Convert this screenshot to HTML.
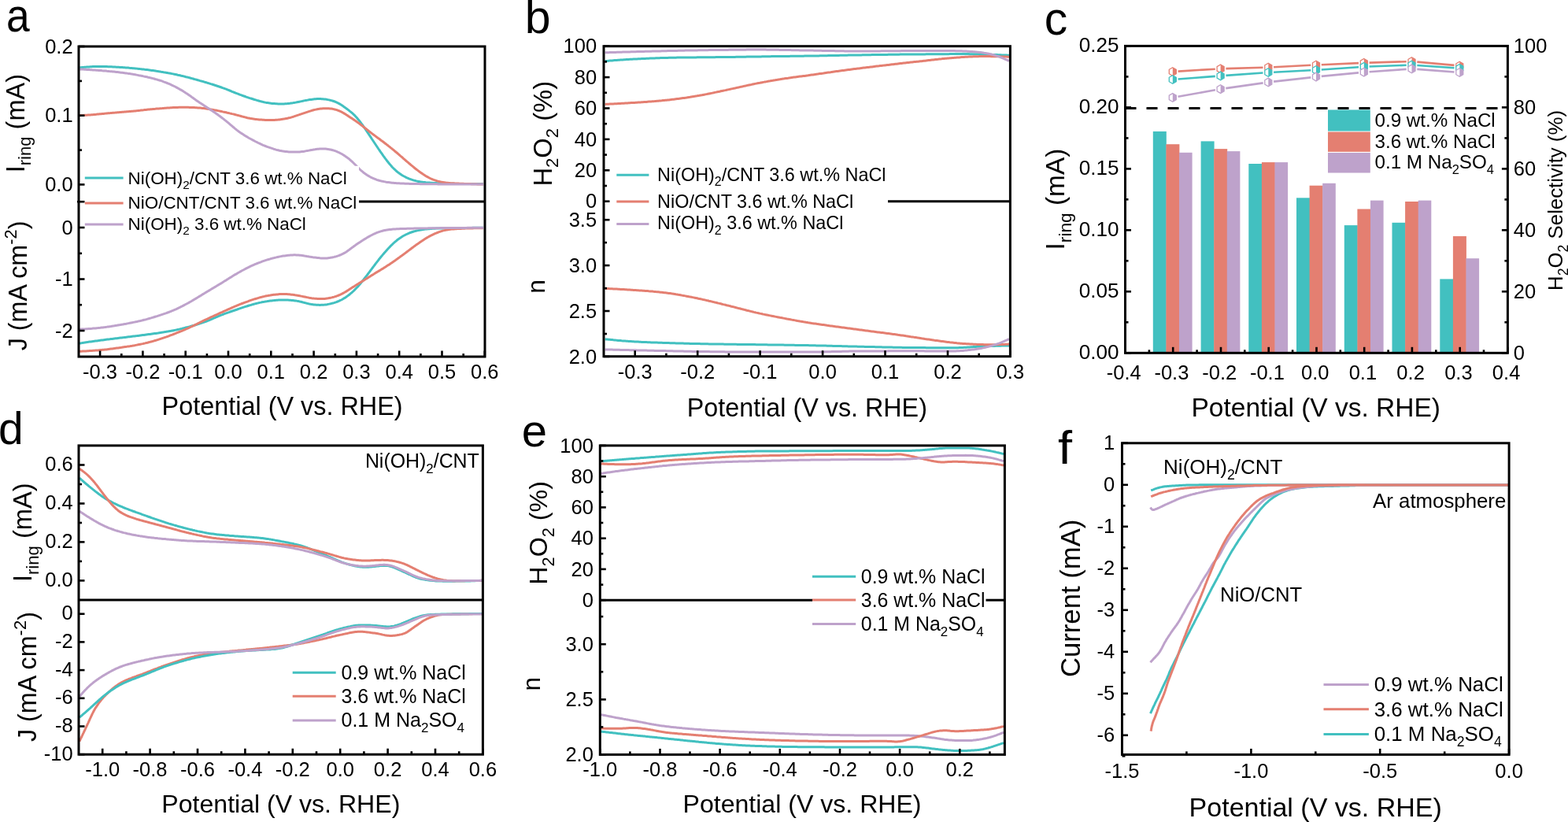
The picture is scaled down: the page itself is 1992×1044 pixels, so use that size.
<!DOCTYPE html>
<html><head><meta charset="utf-8"><title>Figure</title>
<style>html,body{margin:0;padding:0;background:#fff;overflow:hidden;}svg{display:block;}</style>
</head><body>
<svg width="1992" height="1044" viewBox="0 0 1992 1044" font-family="'Liberation Sans', Arial, Helvetica, sans-serif" fill="#000">
<rect width="1992" height="1044" fill="#fff"/>
<path d="M101.3,85.8 L102.8,85.7 L104.3,85.5 L105.8,85.4 L107.3,85.3 L108.8,85.2 L110.3,85.1 L111.8,85 L113.3,84.9 L114.8,84.8 L116.3,84.7 L117.8,84.6 L119.3,84.6 L120.8,84.5 L122.3,84.5 L123.8,84.5 L125.3,84.5 L126.8,84.5 L128.3,84.5 L129.8,84.5 L131.3,84.5 L132.8,84.5 L134.3,84.6 L135.8,84.6 L137.3,84.7 L138.8,84.7 L140.3,84.8 L141.8,84.8 L143.3,84.9 L144.8,85 L146.3,85.1 L147.8,85.2 L149.3,85.3 L150.8,85.3 L152.3,85.4 L153.8,85.5 L155.3,85.6 L156.8,85.7 L158.3,85.8 L159.8,85.9 L161.3,86 L162.8,86.1 L164.3,86.3 L165.8,86.4 L167.3,86.5 L168.8,86.7 L170.3,86.8 L171.8,86.9 L173.3,87.1 L174.8,87.2 L176.3,87.4 L177.8,87.6 L179.3,87.7 L180.8,87.9 L182.3,88.1 L183.8,88.3 L185.3,88.4 L186.8,88.6 L188.3,88.8 L189.8,89 L191.3,89.2 L192.8,89.4 L194.3,89.6 L195.8,89.8 L197.3,90 L198.8,90.3 L200.3,90.5 L201.8,90.7 L203.3,90.9 L204.8,91.2 L206.3,91.4 L207.8,91.7 L209.3,91.9 L210.8,92.2 L212.3,92.5 L213.8,92.8 L215.3,93 L216.8,93.3 L218.3,93.6 L219.8,93.9 L221.3,94.2 L222.8,94.5 L224.3,94.8 L225.8,95.2 L227.3,95.5 L228.8,95.8 L230.3,96.2 L231.8,96.5 L233.3,96.9 L234.8,97.3 L236.3,97.7 L237.8,98 L239.3,98.4 L240.8,98.8 L242.3,99.2 L243.8,99.6 L245.3,100 L246.8,100.5 L248.3,100.9 L249.8,101.3 L251.3,101.7 L252.8,102.1 L254.3,102.6 L255.8,103 L257.3,103.4 L258.8,103.8 L260.3,104.3 L261.8,104.7 L263.3,105.2 L264.8,105.6 L266.3,106.1 L267.8,106.6 L269.3,107 L270.8,107.5 L272.3,108 L273.8,108.5 L275.3,109 L276.8,109.5 L278.3,110 L279.8,110.5 L281.3,111 L282.8,111.6 L284.3,112.1 L285.8,112.7 L287.3,113.2 L288.8,113.8 L290.3,114.4 L291.8,115 L293.3,115.6 L294.8,116.3 L296.3,116.9 L297.8,117.5 L299.3,118.1 L300.8,118.7 L302.3,119.2 L303.8,119.8 L305.3,120.4 L306.8,120.9 L308.3,121.5 L309.8,122 L311.3,122.5 L312.8,123.1 L314.3,123.6 L315.8,124.1 L317.3,124.6 L318.8,125 L320.3,125.5 L321.8,126 L323.3,126.5 L324.8,126.9 L326.3,127.4 L327.8,127.8 L329.3,128.2 L330.8,128.6 L332.3,129 L333.8,129.4 L335.3,129.8 L336.8,130.1 L338.3,130.4 L339.8,130.6 L341.3,130.8 L342.8,131 L344.3,131.2 L345.8,131.4 L347.3,131.5 L348.8,131.6 L350.3,131.7 L351.8,131.8 L353.3,131.9 L354.8,131.9 L356.3,131.9 L357.8,131.9 L359.3,131.9 L360.8,131.9 L362.3,131.8 L363.8,131.7 L365.3,131.6 L366.8,131.4 L368.3,131.3 L369.8,131.1 L371.3,130.9 L372.8,130.6 L374.3,130.4 L375.8,130.1 L377.3,129.8 L378.8,129.5 L380.3,129.2 L381.8,128.9 L383.3,128.6 L384.8,128.3 L386.3,127.9 L387.8,127.6 L389.3,127.4 L390.8,127.1 L392.3,126.8 L393.8,126.6 L395.3,126.4 L396.8,126.2 L398.3,126 L399.8,125.8 L401.3,125.7 L402.8,125.6 L404.3,125.6 L405.8,125.6 L407.3,125.6 L408.8,125.7 L410.3,125.8 L411.8,125.9 L413.3,126.1 L414.8,126.3 L416.3,126.6 L417.8,126.9 L419.3,127.2 L420.8,127.6 L422.3,128 L423.8,128.5 L425.3,129 L426.8,129.6 L428.3,130.3 L429.8,131.1 L431.3,131.9 L432.8,132.8 L434.3,133.7 L435.6,134.6 L436.8,135.5 L438.1,136.4 L439.3,137.3 L440.6,138.2 L441.8,139.1 L443.1,140.1 L444.3,141.1 L445.6,142.1 L446.8,143.1 L448.1,144.2 L449.3,145.4 L450.6,146.6 L451.8,147.9 L453.1,149.3 L454.1,150.5 L455.1,151.7 L456.1,152.9 L457.1,154.2 L458.1,155.5 L459.1,156.9 L460.1,158.2 L461.1,159.6 L462.1,161.1 L463.1,162.5 L464.1,164 L465.1,165.4 L466.1,166.9 L467.1,168.4 L468.1,169.9 L469.1,171.4 L470.1,172.9 L471.1,174.4 L472.1,176 L473.1,177.5 L474.1,179 L475.1,180.5 L476.1,182 L477.1,183.5 L478.1,185 L479.1,186.5 L480.1,188 L481.1,189.5 L482.1,190.9 L483.1,192.4 L484.1,193.8 L485.1,195.2 L486.1,196.7 L487.1,198.1 L488.1,199.4 L489.1,200.8 L490.1,202.1 L491.1,203.5 L492.1,204.8 L493.1,206 L494.1,207.3 L495.1,208.5 L496.1,209.6 L497.1,210.8 L498.3,212.2 L499.6,213.5 L500.8,214.7 L502.1,215.9 L503.3,217 L504.6,218.1 L505.8,219.1 L507.1,220 L508.3,220.9 L509.6,221.7 L511.1,222.7 L512.5,223.5 L514,224.3 L515.5,225.1 L517,225.8 L518.5,226.5 L520,227.1 L521.5,227.6 L523,228.2 L524.5,228.7 L526,229.1 L527.5,229.5 L529,229.9 L530.5,230.2 L532,230.6 L533.5,230.8 L535,231.1 L536.5,231.3 L538,231.5 L539.5,231.6 L541,231.8 L542.5,231.9 L544,232 L545.5,232.1 L547,232.2 L548.5,232.3 L550,232.4 L551.5,232.5 L553,232.6 L554.5,232.6 L556,232.7 L557.5,232.8 L559,232.8 L560.5,232.9 L562,232.9 L563.5,233 L565,233 L566.5,233.1 L568,233.1 L569.5,233.2 L571,233.2 L572.5,233.3 L574,233.3 L575.5,233.3 L577,233.3 L578.5,233.4 L580,233.4 L581.5,233.4 L583,233.4 L584.5,233.4 L586,233.5 L587.5,233.5 L589,233.5 L590.5,233.5 L592,233.5 L593.5,233.5 L595,233.5 L596.5,233.5 L598,233.5 L599.5,233.6 L601,233.6 L602.5,233.6 L604,233.6 L605.5,233.6 L607,233.6 L608.5,233.6 L610,233.6 L611.5,233.6 L613,233.6 L614,233.6" fill="none" stroke="#42C0C0" stroke-width="3.0" stroke-linejoin="round" stroke-linecap="butt"/>
<path d="M101.3,146.5 L102.8,146.5 L104.3,146.4 L105.8,146.4 L107.3,146.3 L108.8,146.3 L110.3,146.2 L111.8,146.1 L113.3,146 L114.8,145.9 L116.3,145.8 L117.8,145.7 L119.3,145.5 L120.8,145.4 L122.3,145.3 L123.8,145.1 L125.3,145 L126.8,144.8 L128.3,144.7 L129.8,144.5 L131.3,144.4 L132.8,144.2 L134.3,144.1 L135.8,143.9 L137.3,143.8 L138.8,143.7 L140.3,143.6 L141.8,143.4 L143.3,143.3 L144.8,143.2 L146.3,143.1 L147.8,142.9 L149.3,142.8 L150.8,142.7 L152.3,142.6 L153.8,142.5 L155.3,142.3 L156.8,142.2 L158.3,142.1 L159.8,142 L161.3,141.8 L162.8,141.7 L164.3,141.6 L165.8,141.5 L167.3,141.3 L168.8,141.2 L170.3,141 L171.8,140.9 L173.3,140.7 L174.8,140.6 L176.3,140.4 L177.8,140.3 L179.3,140.1 L180.8,139.9 L182.3,139.8 L183.8,139.6 L185.3,139.5 L186.8,139.3 L188.3,139.1 L189.8,139 L191.3,138.8 L192.8,138.7 L194.3,138.5 L195.8,138.4 L197.3,138.3 L198.8,138.1 L200.3,138 L201.8,137.9 L203.3,137.8 L204.8,137.7 L206.3,137.6 L207.8,137.4 L209.3,137.3 L210.8,137.2 L212.3,137.1 L213.8,137 L215.3,136.9 L216.8,136.8 L218.3,136.7 L219.8,136.6 L221.3,136.5 L222.8,136.5 L224.3,136.4 L225.8,136.4 L227.3,136.3 L228.8,136.3 L230.3,136.3 L231.8,136.3 L233.3,136.3 L234.8,136.3 L236.3,136.3 L237.8,136.3 L239.3,136.3 L240.8,136.4 L242.3,136.4 L243.8,136.5 L245.3,136.5 L246.8,136.6 L248.3,136.7 L249.8,136.8 L251.3,136.9 L252.8,137 L254.3,137.1 L255.8,137.2 L257.3,137.4 L258.8,137.6 L260.3,137.8 L261.8,138 L263.3,138.2 L264.8,138.4 L266.3,138.7 L267.8,138.9 L269.3,139.2 L270.8,139.5 L272.3,139.8 L273.8,140 L275.3,140.3 L276.8,140.6 L278.3,140.9 L279.8,141.2 L281.3,141.5 L282.8,141.9 L284.3,142.2 L285.8,142.5 L287.3,142.8 L288.8,143.2 L290.3,143.5 L291.8,143.9 L293.3,144.2 L294.8,144.6 L296.3,144.9 L297.8,145.3 L299.3,145.7 L300.8,146.1 L302.3,146.5 L303.8,146.9 L305.3,147.3 L306.8,147.7 L308.3,148.1 L309.8,148.5 L311.3,148.9 L312.8,149.3 L314.3,149.7 L315.8,150 L317.3,150.3 L318.8,150.6 L320.3,150.8 L321.8,151 L323.3,151.2 L324.8,151.4 L326.3,151.6 L327.8,151.7 L329.3,151.9 L330.8,152 L332.3,152.1 L333.8,152.2 L335.3,152.3 L336.8,152.4 L338.3,152.5 L339.8,152.5 L341.3,152.5 L342.8,152.6 L344.3,152.6 L345.8,152.6 L347.3,152.5 L348.8,152.4 L350.3,152.3 L351.8,152.2 L353.3,152.1 L354.8,151.9 L356.3,151.7 L357.8,151.5 L359.3,151.3 L360.8,151.1 L362.3,150.8 L363.8,150.5 L365.3,150.2 L366.8,149.8 L368.3,149.5 L369.8,149.1 L371.3,148.6 L372.8,148.2 L374.3,147.7 L375.8,147.2 L377.3,146.7 L378.8,146.2 L380.3,145.7 L381.8,145.1 L383.3,144.6 L384.8,144.1 L386.3,143.6 L387.8,143.1 L389.3,142.6 L390.8,142.1 L392.3,141.6 L393.8,141.1 L395.3,140.7 L396.8,140.2 L398.3,139.8 L399.8,139.4 L401.3,139.1 L402.8,138.8 L404.3,138.5 L405.8,138.3 L407.3,138.1 L408.8,137.9 L410.3,137.8 L411.8,137.7 L413.3,137.7 L414.8,137.7 L416.3,137.7 L417.8,137.8 L419.3,137.9 L420.8,138.1 L422.3,138.3 L423.8,138.6 L425.3,139 L426.8,139.4 L428.3,139.8 L429.8,140.4 L431.3,141 L432.8,141.7 L434.3,142.4 L435.8,143.2 L437.3,144.1 L438.8,145 L440.3,146 L441.8,146.9 L443.3,147.9 L444.8,148.9 L446.3,149.9 L447.6,150.7 L448.8,151.6 L450.1,152.4 L451.3,153.3 L452.6,154.1 L453.8,155 L455.1,155.9 L456.3,156.8 L457.6,157.8 L458.8,158.7 L460.1,159.7 L461.3,160.7 L462.6,161.7 L463.8,162.7 L465.1,163.7 L466.3,164.7 L467.6,165.7 L468.8,166.7 L470.1,167.7 L471.3,168.6 L472.6,169.6 L473.8,170.6 L475.1,171.5 L476.3,172.4 L477.6,173.4 L478.8,174.3 L480.1,175.2 L481.3,176.1 L482.6,177 L483.8,178 L485.1,178.9 L486.3,179.8 L487.6,180.8 L488.8,181.7 L490.1,182.7 L491.3,183.7 L492.6,184.6 L493.8,185.6 L495.1,186.6 L496.3,187.6 L497.6,188.6 L498.8,189.6 L500.1,190.7 L501.3,191.7 L502.6,192.7 L503.8,193.8 L505.1,194.8 L506.3,195.9 L507.6,197 L508.8,198.1 L510.1,199.1 L511.3,200.2 L512.5,201.3 L513.8,202.4 L515,203.5 L516.3,204.6 L517.5,205.6 L518.8,206.7 L520,207.8 L521.3,208.8 L522.5,209.9 L523.8,210.9 L525,211.9 L526.3,213 L527.5,214 L528.8,215 L530,215.9 L531.3,216.9 L532.5,217.8 L533.8,218.7 L535,219.6 L536.3,220.4 L537.5,221.3 L539,222.2 L540.5,223.2 L542,224.1 L543.5,224.9 L545,225.7 L546.5,226.5 L548,227.2 L549.5,227.8 L551,228.4 L552.5,228.9 L554,229.4 L555.5,229.9 L557,230.3 L558.5,230.6 L560,231 L561.5,231.3 L563,231.6 L564.5,231.8 L566,232 L567.5,232.2 L569,232.3 L570.5,232.4 L572,232.6 L573.5,232.7 L575,232.8 L576.5,232.8 L578,232.9 L579.5,233 L581,233 L582.5,233.1 L584,233.2 L585.5,233.2 L587,233.3 L588.5,233.3 L590,233.4 L591.5,233.4 L593,233.5 L594.5,233.5 L596,233.6 L597.5,233.6 L599,233.7 L600.5,233.7 L602,233.8 L603.5,233.8 L605,233.8 L606.5,233.9 L608,233.9 L609.5,233.9 L611,233.9 L612.5,234 L614,234" fill="none" stroke="#E47F71" stroke-width="3.0" stroke-linejoin="round" stroke-linecap="butt"/>
<path d="M101.3,87.9 L102.8,88 L104.3,88.1 L105.8,88.1 L107.3,88.2 L108.8,88.3 L110.3,88.4 L111.8,88.5 L113.3,88.6 L114.8,88.7 L116.3,88.8 L117.8,88.9 L119.3,89 L120.8,89.1 L122.3,89.2 L123.8,89.3 L125.3,89.4 L126.8,89.5 L128.3,89.6 L129.8,89.8 L131.3,89.9 L132.8,90 L134.3,90.1 L135.8,90.3 L137.3,90.4 L138.8,90.6 L140.3,90.7 L141.8,90.8 L143.3,91 L144.8,91.1 L146.3,91.3 L147.8,91.5 L149.3,91.6 L150.8,91.8 L152.3,92 L153.8,92.2 L155.3,92.3 L156.8,92.5 L158.3,92.7 L159.8,92.9 L161.3,93.1 L162.8,93.4 L164.3,93.6 L165.8,93.8 L167.3,94.1 L168.8,94.3 L170.3,94.6 L171.8,94.8 L173.3,95.1 L174.8,95.4 L176.3,95.7 L177.8,95.9 L179.3,96.2 L180.8,96.5 L182.3,96.9 L183.8,97.2 L185.3,97.5 L186.8,97.8 L188.3,98.2 L189.8,98.5 L191.3,98.9 L192.8,99.3 L194.3,99.6 L195.8,100 L197.3,100.5 L198.8,100.9 L200.3,101.3 L201.8,101.8 L203.3,102.2 L204.8,102.7 L206.3,103.2 L207.8,103.8 L209.3,104.3 L210.8,104.9 L212.3,105.5 L213.8,106.1 L215.3,106.7 L216.8,107.4 L218.3,108.1 L219.8,108.8 L221.3,109.5 L222.8,110.3 L224.3,111.1 L225.8,111.9 L227.3,112.7 L228.8,113.6 L230.3,114.4 L231.8,115.3 L233.3,116.3 L234.8,117.2 L236.3,118.2 L237.6,119 L238.8,119.9 L240.1,120.7 L241.3,121.6 L242.6,122.5 L243.8,123.4 L245.1,124.3 L246.3,125.2 L247.6,126.1 L248.8,127 L250.1,127.9 L251.3,128.7 L252.6,129.6 L253.8,130.5 L255.1,131.3 L256.3,132.1 L257.8,133.1 L259.3,134.1 L260.8,135 L262.3,136 L263.8,137 L265.3,137.9 L266.8,138.9 L268.3,139.9 L269.6,140.7 L270.8,141.6 L272.1,142.4 L273.3,143.3 L274.6,144.2 L275.8,145 L277.1,146 L278.3,146.9 L279.6,147.8 L280.8,148.7 L282.1,149.7 L283.3,150.6 L284.6,151.6 L285.8,152.6 L287.1,153.6 L288.3,154.6 L289.6,155.7 L290.8,156.7 L292.1,157.8 L293.3,158.8 L294.6,159.9 L295.8,161 L297.1,162 L298.3,163.1 L299.6,164.1 L300.8,165.1 L302.1,166.1 L303.3,167 L304.6,167.9 L305.8,168.8 L307.1,169.6 L308.6,170.6 L310.1,171.6 L311.6,172.5 L313.1,173.4 L314.6,174.3 L316.1,175.2 L317.6,176 L319.1,176.8 L320.6,177.6 L322.1,178.4 L323.6,179.2 L325.1,180 L326.6,180.7 L328.1,181.5 L329.6,182.2 L331.1,182.9 L332.6,183.6 L334.1,184.3 L335.6,184.9 L337.1,185.5 L338.6,186.1 L340.1,186.7 L341.6,187.2 L343.1,187.7 L344.6,188.2 L346.1,188.7 L347.6,189.2 L349.1,189.6 L350.6,190.1 L352.1,190.5 L353.6,190.8 L355.1,191.2 L356.6,191.5 L358.1,191.8 L359.6,192.1 L361.1,192.3 L362.6,192.5 L364.1,192.6 L365.6,192.7 L367.1,192.9 L368.6,192.9 L370.1,193 L371.6,193.1 L373.1,193.1 L374.6,193.1 L376.1,193.1 L377.6,193.1 L379.1,193.1 L380.6,193 L382.1,192.8 L383.6,192.6 L385.1,192.4 L386.6,192.2 L388.1,191.9 L389.6,191.6 L391.1,191.4 L392.6,191.1 L394.1,190.8 L395.6,190.5 L397.1,190.3 L398.6,190 L400.1,189.8 L401.6,189.5 L403.1,189.3 L404.6,189.2 L406.1,189 L407.6,188.9 L409.1,188.9 L410.6,188.9 L412.1,188.9 L413.6,189 L415.1,189.2 L416.6,189.4 L418.1,189.7 L419.6,190 L421.1,190.3 L422.6,190.7 L424.1,191.2 L425.6,191.7 L427.1,192.2 L428.6,192.8 L430.1,193.5 L431.6,194.2 L433.1,195 L434.6,195.8 L436.1,196.7 L437.6,197.6 L438.8,198.5 L440.1,199.4 L441.3,200.3 L442.6,201.2 L443.8,202.2 L445.1,203.3 L446.3,204.4 L447.6,205.5 L448.8,206.7 L450.1,208 L451.3,209.2 L452.6,210.5 L453.8,211.8 L455.1,213 L456.3,214.3 L457.6,215.5 L458.8,216.6 L460.1,217.7 L461.3,218.7 L462.6,219.7 L463.8,220.6 L465.1,221.5 L466.6,222.5 L468.1,223.4 L469.6,224.3 L471.1,225.1 L472.6,225.8 L474.1,226.5 L475.6,227.1 L477.1,227.7 L478.6,228.3 L480.1,228.8 L481.6,229.2 L483.1,229.6 L484.6,230 L486.1,230.3 L487.6,230.6 L489.1,230.9 L490.6,231.2 L492.1,231.4 L493.6,231.6 L495.1,231.8 L496.6,232 L498.1,232.2 L499.6,232.3 L501.1,232.5 L502.6,232.6 L504.1,232.7 L505.6,232.8 L507.1,232.8 L508.6,232.9 L510.1,233 L511.6,233 L513,233.1 L514.5,233.2 L516,233.2 L517.5,233.3 L519,233.3 L520.5,233.4 L522,233.4 L523.5,233.4 L525,233.5 L526.5,233.5 L528,233.6 L529.5,233.6 L531,233.6 L532.5,233.6 L534,233.7 L535.5,233.7 L537,233.7 L538.5,233.7 L540,233.7 L541.5,233.8 L543,233.8 L544.5,233.8 L546,233.8 L547.5,233.8 L549,233.8 L550.5,233.8 L552,233.8 L553.5,233.8 L555,233.8 L556.5,233.9 L558,233.9 L559.5,233.9 L561,233.9 L562.5,233.9 L564,233.9 L565.5,233.9 L567,233.9 L568.5,233.9 L570,233.9 L571.5,233.9 L573,233.9 L574.5,233.9 L576,233.9 L577.5,233.9 L579,233.9 L580.5,233.9 L582,234 L583.5,234 L585,234 L586.5,234 L588,234 L589.5,234 L591,234 L592.5,234 L594,234 L595.5,234 L597,234 L598.5,234 L600,234 L601.5,234 L603,234 L604.5,234 L606,234 L607.5,234 L609,234 L610.5,234 L612,234 L613.5,234 L614,234" fill="none" stroke="#BEA2CB" stroke-width="3.0" stroke-linejoin="round" stroke-linecap="butt"/>
<path d="M100.4,436.1 L101.9,435.9 L103.4,435.7 L104.9,435.4 L106.4,435.2 L107.9,435 L109.4,434.8 L110.9,434.6 L112.4,434.3 L113.9,434.1 L115.4,433.9 L116.9,433.7 L118.4,433.5 L119.9,433.3 L121.4,433.1 L122.9,432.9 L124.4,432.7 L125.9,432.5 L127.4,432.3 L128.9,432.1 L130.4,431.9 L131.9,431.7 L133.4,431.5 L134.9,431.3 L136.4,431.1 L137.9,430.9 L139.4,430.8 L140.9,430.6 L142.4,430.4 L143.9,430.2 L145.4,430 L146.9,429.8 L148.4,429.7 L149.9,429.5 L151.4,429.3 L152.9,429.1 L154.4,428.9 L155.9,428.7 L157.4,428.6 L158.9,428.4 L160.4,428.2 L161.9,428 L163.4,427.8 L164.9,427.7 L166.4,427.5 L167.9,427.3 L169.4,427.1 L170.9,426.9 L172.4,426.7 L173.9,426.6 L175.4,426.4 L176.9,426.2 L178.4,426 L179.9,425.8 L181.4,425.6 L182.9,425.4 L184.4,425.2 L185.9,425 L187.4,424.8 L188.9,424.6 L190.4,424.4 L191.9,424.2 L193.4,424 L194.9,423.8 L196.4,423.6 L197.9,423.4 L199.4,423.2 L200.9,423 L202.4,422.7 L203.9,422.5 L205.4,422.3 L206.9,422.1 L208.4,421.8 L209.9,421.6 L211.4,421.3 L212.9,421.1 L214.4,420.8 L215.9,420.6 L217.4,420.3 L218.9,420 L220.4,419.7 L221.9,419.4 L223.4,419.1 L224.9,418.8 L226.4,418.4 L227.9,418.1 L229.4,417.7 L230.9,417.4 L232.4,417 L233.9,416.6 L235.4,416.2 L236.9,415.8 L238.4,415.5 L239.9,415.1 L241.4,414.7 L242.9,414.2 L244.4,413.8 L245.9,413.4 L247.4,413 L248.9,412.5 L250.4,412.1 L251.9,411.6 L253.4,411.1 L254.9,410.6 L256.4,410.1 L257.9,409.6 L259.4,409.1 L260.9,408.5 L262.4,408 L263.9,407.4 L265.4,406.8 L266.9,406.1 L268.4,405.5 L269.9,404.9 L271.4,404.2 L272.9,403.6 L274.4,402.9 L275.9,402.3 L277.4,401.7 L278.9,401 L280.4,400.4 L281.9,399.9 L283.4,399.3 L284.9,398.7 L286.4,398.2 L287.9,397.6 L289.4,397.1 L290.9,396.6 L292.4,396 L293.9,395.5 L295.4,395 L296.9,394.5 L298.4,394 L299.9,393.5 L301.4,393 L302.9,392.4 L304.4,391.9 L305.9,391.4 L307.4,390.9 L308.9,390.4 L310.4,389.9 L311.9,389.4 L313.4,389 L314.9,388.5 L316.4,388 L317.9,387.6 L319.4,387.2 L320.9,386.7 L322.4,386.3 L323.9,385.9 L325.4,385.5 L326.9,385.1 L328.4,384.8 L329.9,384.4 L331.4,384.1 L332.9,383.7 L334.4,383.4 L335.9,383.2 L337.4,382.9 L338.9,382.7 L340.4,382.4 L341.9,382.2 L343.4,382 L344.9,381.9 L346.4,381.7 L347.9,381.6 L349.4,381.4 L350.9,381.3 L352.4,381.2 L353.9,381.1 L355.4,381 L356.9,381 L358.4,380.9 L359.9,380.9 L361.4,380.9 L362.9,381 L364.4,381 L365.9,381.1 L367.4,381.2 L368.9,381.3 L370.4,381.4 L371.9,381.5 L373.4,381.7 L374.9,381.9 L376.4,382.1 L377.9,382.4 L379.4,382.6 L380.9,383 L382.4,383.3 L383.9,383.7 L385.4,384.1 L386.9,384.5 L388.4,384.9 L389.9,385.3 L391.4,385.6 L392.9,386 L394.4,386.3 L395.9,386.6 L397.4,386.8 L398.9,387 L400.4,387.1 L401.9,387.2 L403.4,387.3 L404.9,387.3 L406.4,387.4 L407.9,387.3 L409.4,387.3 L410.9,387.2 L412.4,387.1 L413.9,386.9 L415.4,386.7 L416.9,386.4 L418.4,386.1 L419.9,385.8 L421.4,385.4 L422.9,385 L424.4,384.6 L425.9,384.1 L427.4,383.6 L428.9,383 L430.4,382.4 L431.9,381.7 L433.4,381 L434.9,380.2 L436.4,379.3 L437.9,378.4 L439.4,377.4 L440.6,376.6 L441.9,375.6 L443.1,374.7 L444.4,373.7 L445.6,372.7 L446.9,371.6 L448.1,370.5 L449.4,369.3 L450.6,368.1 L451.9,366.8 L453.1,365.5 L454.4,364.2 L455.4,363 L456.4,361.9 L457.4,360.7 L458.4,359.5 L459.4,358.3 L460.4,357 L461.4,355.8 L462.4,354.5 L463.4,353.2 L464.4,351.9 L465.4,350.6 L466.4,349.3 L467.4,348 L468.4,346.7 L469.4,345.3 L470.4,344 L471.4,342.7 L472.4,341.3 L473.4,340 L474.4,338.7 L475.4,337.3 L476.4,336 L477.4,334.7 L478.4,333.4 L479.4,332.1 L480.4,330.8 L481.4,329.5 L482.4,328.2 L483.4,327 L484.4,325.8 L485.4,324.6 L486.4,323.4 L487.4,322.2 L488.4,321 L489.4,319.9 L490.4,318.8 L491.6,317.4 L492.9,316 L494.1,314.7 L495.4,313.4 L496.6,312.1 L497.9,310.9 L499.1,309.7 L500.4,308.5 L501.6,307.4 L502.9,306.3 L504.1,305.3 L505.4,304.3 L506.6,303.4 L507.9,302.5 L509.1,301.7 L510.6,300.7 L512.1,299.8 L513.6,299 L515.1,298.2 L516.6,297.5 L518.1,296.8 L519.6,296.1 L521.1,295.5 L522.6,295 L524.1,294.5 L525.6,294 L527.1,293.6 L528.6,293.2 L530.1,292.9 L531.6,292.6 L533.1,292.3 L534.6,292 L536.1,291.8 L537.6,291.5 L539.1,291.3 L540.6,291.1 L542.1,291 L543.6,290.8 L545.1,290.7 L546.6,290.5 L548.1,290.4 L549.6,290.3 L551.1,290.3 L552.6,290.2 L554.1,290.1 L555.6,290.1 L557.1,290 L558.6,290 L560.1,290 L561.6,289.9 L563.1,289.9 L564.6,289.9 L566.1,289.8 L567.6,289.8 L569.1,289.8 L570.6,289.7 L572.1,289.7 L573.6,289.7 L575.1,289.6 L576.6,289.6 L578.1,289.6 L579.6,289.6 L581.1,289.5 L582.6,289.5 L584.1,289.5 L585.6,289.5 L587.1,289.5 L588.6,289.4 L590.1,289.4 L591.6,289.4 L593.1,289.4 L594.6,289.4 L596.1,289.4 L597.6,289.4 L599.1,289.4 L600.6,289.3 L602.1,289.3 L603.6,289.3 L605.1,289.3 L606.6,289.3 L608.1,289.3 L609.6,289.3 L611.1,289.3 L612.6,289.3 L614,289.3" fill="none" stroke="#42C0C0" stroke-width="3.0" stroke-linejoin="round" stroke-linecap="butt"/>
<path d="M100.4,446.3 L101.9,446.2 L103.4,446.2 L104.9,446.1 L106.4,446 L107.9,446 L109.4,445.9 L110.9,445.8 L112.4,445.7 L113.9,445.6 L115.4,445.5 L116.9,445.4 L118.4,445.3 L119.9,445.2 L121.4,445.1 L122.9,445 L124.4,444.9 L125.9,444.7 L127.4,444.6 L128.9,444.5 L130.4,444.3 L131.9,444.2 L133.4,444 L134.9,443.9 L136.4,443.7 L137.9,443.5 L139.4,443.3 L140.9,443.1 L142.4,442.9 L143.9,442.7 L145.4,442.5 L146.9,442.3 L148.4,442.1 L149.9,441.9 L151.4,441.7 L152.9,441.5 L154.4,441.3 L155.9,441 L157.4,440.8 L158.9,440.6 L160.4,440.4 L161.9,440.1 L163.4,439.9 L164.9,439.7 L166.4,439.4 L167.9,439.2 L169.4,438.9 L170.9,438.7 L172.4,438.4 L173.9,438.1 L175.4,437.8 L176.9,437.5 L178.4,437.2 L179.9,436.9 L181.4,436.6 L182.9,436.2 L184.4,435.9 L185.9,435.5 L187.4,435.2 L188.9,434.8 L190.4,434.4 L191.9,434 L193.4,433.6 L194.9,433.2 L196.4,432.7 L197.9,432.3 L199.4,431.8 L200.9,431.4 L202.4,430.9 L203.9,430.4 L205.4,429.9 L206.9,429.4 L208.4,428.9 L209.9,428.4 L211.4,427.9 L212.9,427.3 L214.4,426.8 L215.9,426.2 L217.4,425.6 L218.9,425.1 L220.4,424.5 L221.9,423.9 L223.4,423.3 L224.9,422.7 L226.4,422.1 L227.9,421.5 L229.4,420.9 L230.9,420.3 L232.4,419.6 L233.9,419 L235.4,418.4 L236.9,417.7 L238.4,417.1 L239.9,416.4 L241.4,415.7 L242.9,415 L244.4,414.3 L245.9,413.6 L247.4,412.9 L248.9,412.1 L250.4,411.4 L251.9,410.6 L253.4,409.9 L254.9,409.1 L256.4,408.4 L257.9,407.6 L259.4,406.9 L260.9,406.2 L262.4,405.5 L263.9,404.8 L265.4,404.1 L266.9,403.4 L268.4,402.7 L269.9,402 L271.4,401.3 L272.9,400.6 L274.4,400 L275.9,399.3 L277.4,398.6 L278.9,397.9 L280.4,397.2 L281.9,396.6 L283.4,395.9 L284.9,395.2 L286.4,394.5 L287.9,393.8 L289.4,393.1 L290.9,392.5 L292.4,391.8 L293.9,391.1 L295.4,390.5 L296.9,389.8 L298.4,389.2 L299.9,388.6 L301.4,387.9 L302.9,387.3 L304.4,386.7 L305.9,386.1 L307.4,385.5 L308.9,385 L310.4,384.4 L311.9,383.8 L313.4,383.3 L314.9,382.8 L316.4,382.2 L317.9,381.7 L319.4,381.2 L320.9,380.7 L322.4,380.2 L323.9,379.7 L325.4,379.3 L326.9,378.8 L328.4,378.4 L329.9,377.9 L331.4,377.5 L332.9,377.1 L334.4,376.7 L335.9,376.4 L337.4,376 L338.9,375.7 L340.4,375.5 L341.9,375.2 L343.4,375 L344.9,374.7 L346.4,374.5 L347.9,374.3 L349.4,374.2 L350.9,374 L352.4,373.9 L353.9,373.7 L355.4,373.6 L356.9,373.6 L358.4,373.5 L359.9,373.5 L361.4,373.5 L362.9,373.5 L364.4,373.6 L365.9,373.7 L367.4,373.8 L368.9,374 L370.4,374.2 L371.9,374.3 L373.4,374.5 L374.9,374.8 L376.4,375 L377.9,375.2 L379.4,375.5 L380.9,375.8 L382.4,376.1 L383.9,376.4 L385.4,376.7 L386.9,377 L388.4,377.3 L389.9,377.6 L391.4,377.9 L392.9,378.2 L394.4,378.4 L395.9,378.7 L397.4,378.9 L398.9,379.1 L400.4,379.2 L401.9,379.3 L403.4,379.4 L404.9,379.5 L406.4,379.6 L407.9,379.6 L409.4,379.6 L410.9,379.5 L412.4,379.4 L413.9,379.2 L415.4,379 L416.9,378.8 L418.4,378.5 L419.9,378.2 L421.4,377.9 L422.9,377.5 L424.4,377.1 L425.9,376.6 L427.4,376.2 L428.9,375.6 L430.4,375 L431.9,374.4 L433.4,373.7 L434.9,372.9 L436.4,372.1 L437.9,371.3 L439.4,370.4 L440.9,369.4 L442.4,368.5 L443.9,367.5 L445.4,366.5 L446.9,365.6 L448.4,364.6 L449.9,363.7 L451.4,362.7 L452.9,361.8 L454.4,360.9 L455.9,359.9 L457.4,359 L458.9,358.1 L460.4,357.1 L461.9,356.2 L463.4,355.2 L464.9,354.3 L466.4,353.4 L467.9,352.4 L469.4,351.5 L470.9,350.6 L472.4,349.6 L473.9,348.7 L475.4,347.8 L476.9,346.8 L478.4,345.9 L479.9,345 L481.4,344.1 L482.9,343.2 L484.4,342.3 L485.9,341.4 L487.4,340.4 L488.9,339.5 L490.4,338.6 L491.9,337.6 L493.4,336.6 L494.9,335.7 L496.1,334.8 L497.4,334 L498.6,333.1 L499.9,332.3 L501.1,331.4 L502.4,330.5 L503.6,329.6 L504.9,328.7 L506.1,327.8 L507.4,326.9 L508.6,326 L509.9,325.1 L511.1,324.2 L512.4,323.3 L513.6,322.3 L514.9,321.4 L516.1,320.5 L517.4,319.5 L518.6,318.6 L519.9,317.6 L521.1,316.7 L522.4,315.7 L523.6,314.8 L524.9,313.9 L526.1,312.9 L527.4,312 L528.6,311.1 L529.9,310.2 L531.1,309.4 L532.4,308.5 L533.6,307.6 L534.9,306.8 L536.1,306 L537.6,305 L539.1,304 L540.6,303 L542.1,302.1 L543.6,301.2 L545.1,300.4 L546.6,299.6 L548.1,298.8 L549.6,298.1 L551.1,297.4 L552.6,296.7 L554.1,296.1 L555.6,295.5 L557.1,294.9 L558.6,294.4 L560.1,293.9 L561.6,293.4 L563.1,292.9 L564.6,292.6 L566.1,292.2 L567.6,291.9 L569.1,291.7 L570.6,291.4 L572.1,291.3 L573.6,291.1 L575.1,291 L576.6,290.9 L578.1,290.8 L579.6,290.7 L581.1,290.6 L582.6,290.5 L584.1,290.4 L585.6,290.4 L587.1,290.3 L588.6,290.2 L590.1,290.2 L591.6,290.1 L593.1,290.1 L594.6,290 L596.1,290 L597.6,289.9 L599.1,289.9 L600.6,289.9 L602.1,289.8 L603.6,289.8 L605.1,289.8 L606.6,289.8 L608.1,289.7 L609.6,289.7 L611.1,289.7 L612.6,289.7 L614,289.7" fill="none" stroke="#E47F71" stroke-width="3.0" stroke-linejoin="round" stroke-linecap="butt"/>
<path d="M100.4,418.3 L101.9,418.2 L103.4,418.1 L104.9,418.1 L106.4,418 L107.9,417.9 L109.4,417.8 L110.9,417.7 L112.4,417.6 L113.9,417.5 L115.4,417.4 L116.9,417.3 L118.4,417.1 L119.9,417 L121.4,416.9 L122.9,416.7 L124.4,416.6 L125.9,416.4 L127.4,416.3 L128.9,416.1 L130.4,415.9 L131.9,415.7 L133.4,415.6 L134.9,415.4 L136.4,415.1 L137.9,414.9 L139.4,414.7 L140.9,414.5 L142.4,414.2 L143.9,414 L145.4,413.8 L146.9,413.5 L148.4,413.3 L149.9,413 L151.4,412.7 L152.9,412.5 L154.4,412.2 L155.9,412 L157.4,411.7 L158.9,411.4 L160.4,411.2 L161.9,410.9 L163.4,410.6 L164.9,410.3 L166.4,410 L167.9,409.7 L169.4,409.4 L170.9,409.1 L172.4,408.8 L173.9,408.5 L175.4,408.1 L176.9,407.8 L178.4,407.5 L179.9,407.1 L181.4,406.7 L182.9,406.3 L184.4,406 L185.9,405.6 L187.4,405.1 L188.9,404.7 L190.4,404.3 L191.9,403.9 L193.4,403.4 L194.9,403 L196.4,402.5 L197.9,402 L199.4,401.6 L200.9,401.1 L202.4,400.6 L203.9,400.1 L205.4,399.6 L206.9,399.1 L208.4,398.6 L209.9,398.1 L211.4,397.6 L212.9,397 L214.4,396.5 L215.9,395.9 L217.4,395.3 L218.9,394.7 L220.4,394.1 L221.9,393.4 L223.4,392.8 L224.9,392.1 L226.4,391.4 L227.9,390.7 L229.4,389.9 L230.9,389.2 L232.4,388.4 L233.9,387.6 L235.4,386.8 L236.9,386 L238.4,385.2 L239.9,384.4 L241.4,383.5 L242.9,382.7 L244.4,381.8 L245.9,380.9 L247.4,380 L248.9,379.1 L250.4,378.2 L251.9,377.3 L253.4,376.4 L254.9,375.5 L256.4,374.6 L257.9,373.6 L259.4,372.7 L260.9,371.8 L262.4,370.9 L263.9,370 L265.4,369.1 L266.9,368.2 L268.4,367.3 L269.9,366.4 L271.4,365.5 L272.9,364.6 L274.4,363.7 L275.9,362.8 L277.4,361.9 L278.9,361 L280.4,360.1 L281.9,359.2 L283.4,358.2 L284.9,357.3 L286.4,356.4 L287.9,355.4 L289.4,354.5 L290.9,353.5 L292.4,352.6 L293.9,351.7 L295.4,350.7 L296.9,349.8 L298.4,348.9 L299.9,348.1 L301.4,347.2 L302.9,346.3 L304.4,345.5 L305.9,344.6 L307.4,343.8 L308.9,343 L310.4,342.2 L311.9,341.4 L313.4,340.6 L314.9,339.9 L316.4,339.1 L317.9,338.4 L319.4,337.7 L320.9,337 L322.4,336.4 L323.9,335.7 L325.4,335.1 L326.9,334.5 L328.4,333.9 L329.9,333.3 L331.4,332.8 L332.9,332.2 L334.4,331.7 L335.9,331.2 L337.4,330.7 L338.9,330.2 L340.4,329.7 L341.9,329.3 L343.4,328.8 L344.9,328.4 L346.4,328 L347.9,327.6 L349.4,327.2 L350.9,326.9 L352.4,326.5 L353.9,326.2 L355.4,325.9 L356.9,325.6 L358.4,325.3 L359.9,325.1 L361.4,324.9 L362.9,324.7 L364.4,324.5 L365.9,324.3 L367.4,324.2 L368.9,324.1 L370.4,324 L371.9,323.9 L373.4,323.8 L374.9,323.8 L376.4,323.9 L377.9,323.9 L379.4,324 L380.9,324.2 L382.4,324.3 L383.9,324.5 L385.4,324.7 L386.9,325 L388.4,325.2 L389.9,325.5 L391.4,325.7 L392.9,326 L394.4,326.2 L395.9,326.4 L397.4,326.7 L398.9,326.9 L400.4,327.1 L401.9,327.3 L403.4,327.5 L404.9,327.6 L406.4,327.8 L407.9,327.9 L409.4,328 L410.9,328 L412.4,328 L413.9,328 L415.4,327.9 L416.9,327.7 L418.4,327.6 L419.9,327.3 L421.4,327.1 L422.9,326.7 L424.4,326.4 L425.9,326 L427.4,325.6 L428.9,325.1 L430.4,324.6 L431.9,324 L433.4,323.4 L434.9,322.7 L436.4,321.9 L437.9,321.1 L439.4,320.2 L440.9,319.2 L442.1,318.3 L443.4,317.4 L444.6,316.5 L445.9,315.6 L447.1,314.6 L448.4,313.7 L449.6,312.8 L450.9,311.9 L452.1,311 L453.4,310.1 L454.6,309.2 L455.9,308.4 L457.4,307.4 L458.9,306.4 L460.4,305.5 L461.9,304.5 L463.4,303.6 L464.9,302.7 L466.4,301.8 L467.9,300.9 L469.4,300.1 L470.9,299.3 L472.4,298.5 L473.9,297.7 L475.4,297 L476.9,296.4 L478.4,295.7 L479.9,295.1 L481.4,294.6 L482.9,294.1 L484.4,293.6 L485.9,293.2 L487.4,292.8 L488.9,292.5 L490.4,292.2 L491.9,291.9 L493.4,291.7 L494.9,291.5 L496.4,291.4 L497.9,291.2 L499.4,291.1 L500.9,291 L502.4,290.9 L503.9,290.8 L505.4,290.8 L506.9,290.7 L508.4,290.6 L509.9,290.6 L511.4,290.5 L512.9,290.4 L514.4,290.4 L515.9,290.4 L517.4,290.3 L518.9,290.3 L520.4,290.2 L521.9,290.2 L523.4,290.2 L524.9,290.2 L526.4,290.1 L527.9,290.1 L529.4,290.1 L530.9,290 L532.4,290 L533.9,290 L535.4,290 L536.9,289.9 L538.4,289.9 L539.9,289.9 L541.4,289.9 L542.9,289.9 L544.4,289.8 L545.9,289.8 L547.4,289.8 L548.9,289.8 L550.4,289.7 L551.9,289.7 L553.4,289.7 L554.9,289.7 L556.4,289.7 L557.9,289.7 L559.4,289.6 L560.9,289.6 L562.4,289.6 L563.9,289.6 L565.4,289.6 L566.9,289.6 L568.4,289.5 L569.9,289.5 L571.4,289.5 L572.9,289.5 L574.4,289.5 L575.9,289.5 L577.4,289.5 L578.9,289.4 L580.4,289.4 L581.9,289.4 L583.4,289.4 L584.9,289.4 L586.4,289.4 L587.9,289.4 L589.4,289.4 L590.9,289.4 L592.4,289.4 L593.9,289.3 L595.4,289.3 L596.9,289.3 L598.4,289.3 L599.9,289.3 L601.4,289.3 L602.9,289.3 L604.4,289.3 L605.9,289.3 L607.4,289.3 L608.9,289.3 L610.4,289.3 L611.9,289.3 L613.4,289.3 L614,289.3" fill="none" stroke="#BEA2CB" stroke-width="3.0" stroke-linejoin="round" stroke-linecap="butt"/>
<rect x="102" y="210.8" width="354" height="92" fill="#fff"/>
<line x1="456" y1="256" x2="616" y2="256" stroke="#000" stroke-width="3.0" />
<rect x="100" y="59" width="516" height="394" fill="none" stroke="#000" stroke-width="3.0" stroke-linejoin="miter"/>
<line x1="100" y1="234.4" x2="107.5" y2="234.4" stroke="#000" stroke-width="2.6" />
<line x1="100" y1="146.7" x2="107.5" y2="146.7" stroke="#000" stroke-width="2.6" />
<line x1="100" y1="59" x2="107.5" y2="59" stroke="#000" stroke-width="2.6" />
<line x1="100" y1="190.6" x2="104" y2="190.6" stroke="#000" stroke-width="2.6" />
<line x1="100" y1="102.9" x2="104" y2="102.9" stroke="#000" stroke-width="2.6" />
<text x="92.6" y="243" font-size="25.5" text-anchor="end">0.0</text>
<text x="92.6" y="155.3" font-size="25.5" text-anchor="end">0.1</text>
<text x="92.6" y="67.6" font-size="25.5" text-anchor="end">0.2</text>
<line x1="98" y1="256.2" x2="107.5" y2="256.2" stroke="#000" stroke-width="2.6" />
<line x1="100" y1="289" x2="107.5" y2="289" stroke="#000" stroke-width="2.6" />
<line x1="100" y1="354.5" x2="107.5" y2="354.5" stroke="#000" stroke-width="2.6" />
<line x1="100" y1="420" x2="107.5" y2="420" stroke="#000" stroke-width="2.6" />
<line x1="100" y1="321.8" x2="104" y2="321.8" stroke="#000" stroke-width="2.6" />
<line x1="100" y1="387.2" x2="104" y2="387.2" stroke="#000" stroke-width="2.6" />
<text x="92.6" y="297.6" font-size="25.5" text-anchor="end">0</text>
<text x="92.6" y="363.1" font-size="25.5" text-anchor="end">-1</text>
<text x="92.6" y="428.6" font-size="25.5" text-anchor="end">-2</text>
<line x1="127.1" y1="453" x2="127.1" y2="445.5" stroke="#000" stroke-width="2.6" />
<line x1="181.4" y1="453" x2="181.4" y2="445.5" stroke="#000" stroke-width="2.6" />
<line x1="235.7" y1="453" x2="235.7" y2="445.5" stroke="#000" stroke-width="2.6" />
<line x1="290" y1="453" x2="290" y2="445.5" stroke="#000" stroke-width="2.6" />
<line x1="344.3" y1="453" x2="344.3" y2="445.5" stroke="#000" stroke-width="2.6" />
<line x1="398.6" y1="453" x2="398.6" y2="445.5" stroke="#000" stroke-width="2.6" />
<line x1="452.9" y1="453" x2="452.9" y2="445.5" stroke="#000" stroke-width="2.6" />
<line x1="507.2" y1="453" x2="507.2" y2="445.5" stroke="#000" stroke-width="2.6" />
<line x1="561.5" y1="453" x2="561.5" y2="445.5" stroke="#000" stroke-width="2.6" />
<line x1="615.8" y1="453" x2="615.8" y2="445.5" stroke="#000" stroke-width="2.6" />
<line x1="154.3" y1="453" x2="154.3" y2="449" stroke="#000" stroke-width="2.6" />
<line x1="208.6" y1="453" x2="208.6" y2="449" stroke="#000" stroke-width="2.6" />
<line x1="262.9" y1="453" x2="262.9" y2="449" stroke="#000" stroke-width="2.6" />
<line x1="317.2" y1="453" x2="317.2" y2="449" stroke="#000" stroke-width="2.6" />
<line x1="371.5" y1="453" x2="371.5" y2="449" stroke="#000" stroke-width="2.6" />
<line x1="425.8" y1="453" x2="425.8" y2="449" stroke="#000" stroke-width="2.6" />
<line x1="480.1" y1="453" x2="480.1" y2="449" stroke="#000" stroke-width="2.6" />
<line x1="534.4" y1="453" x2="534.4" y2="449" stroke="#000" stroke-width="2.6" />
<line x1="588.7" y1="453" x2="588.7" y2="449" stroke="#000" stroke-width="2.6" />
<text x="127.1" y="481" font-size="25.5" text-anchor="middle">-0.3</text>
<text x="181.4" y="481" font-size="25.5" text-anchor="middle">-0.2</text>
<text x="235.7" y="481" font-size="25.5" text-anchor="middle">-0.1</text>
<text x="290" y="481" font-size="25.5" text-anchor="middle">0.0</text>
<text x="344.3" y="481" font-size="25.5" text-anchor="middle">0.1</text>
<text x="398.6" y="481" font-size="25.5" text-anchor="middle">0.2</text>
<text x="452.9" y="481" font-size="25.5" text-anchor="middle">0.3</text>
<text x="507.2" y="481" font-size="25.5" text-anchor="middle">0.4</text>
<text x="561.5" y="481" font-size="25.5" text-anchor="middle">0.5</text>
<text x="615.8" y="481" font-size="25.5" text-anchor="middle">0.6</text>
<line x1="107.8" y1="226" x2="156.6" y2="226" stroke="#42C0C0" stroke-width="3.0" />
<text x="162.6" y="233.8" font-size="22.4" text-anchor="start">Ni(OH)<tspan font-size="15.3" dy="6.1">2</tspan><tspan dy="-6.1">​</tspan>/CNT 3.6 wt.% NaCl</text>
<line x1="107.8" y1="258" x2="156.6" y2="258" stroke="#E47F71" stroke-width="3.0" />
<text x="162.6" y="265.4" font-size="22.4" text-anchor="start">NiO/CNT/CNT 3.6 wt.% NaCl</text>
<line x1="107.8" y1="284.9" x2="156.6" y2="284.9" stroke="#BEA2CB" stroke-width="3.0" />
<text x="162.6" y="292.3" font-size="22.4" text-anchor="start">Ni(OH)<tspan font-size="15.3" dy="6.1">2</tspan><tspan dy="-6.1">​</tspan> 3.6 wt.% NaCl</text>
<text x="205.6" y="527" font-size="32.4" text-anchor="start">Potential (V vs. RHE)</text>
<text x="30.7" y="219.3" font-size="32.5" text-anchor="start" transform="rotate(-90 30.7 219.3)">I<tspan font-size="22.1" dy="8.8">ring</tspan><tspan dy="-8.8">​</tspan> (mA)</text>
<text x="33.7" y="445.3" font-size="32.3" text-anchor="start" transform="rotate(-90 33.7 445.3)">J (mA cm<tspan font-size="21.9" dy="-12.9">-2</tspan><tspan dy="12.9">​</tspan>)</text>
<text x="7.9" y="39.6" font-size="60" text-anchor="start" transform="translate(7.9 39.6) scale(0.89 1) translate(-7.9 -39.6)">a</text>
<path d="M768.7,77.6 L770.2,77.5 L771.7,77.4 L773.2,77.2 L774.7,77.1 L776.2,77 L777.7,76.9 L779.2,76.7 L780.7,76.6 L782.2,76.5 L783.7,76.4 L785.2,76.3 L786.7,76.2 L788.2,76.1 L789.7,76 L791.2,75.9 L792.7,75.8 L794.2,75.7 L795.7,75.6 L797.2,75.5 L798.7,75.4 L800.2,75.3 L801.7,75.2 L803.2,75.2 L804.7,75.1 L806.2,75 L807.7,74.9 L809.2,74.9 L810.7,74.8 L812.2,74.7 L813.7,74.7 L815.2,74.6 L816.7,74.5 L818.2,74.4 L819.7,74.4 L821.2,74.3 L822.7,74.3 L824.2,74.2 L825.7,74.1 L827.2,74.1 L828.7,74 L830.2,73.9 L831.7,73.9 L833.2,73.8 L834.7,73.8 L836.2,73.7 L837.7,73.7 L839.2,73.6 L840.7,73.6 L842.2,73.5 L843.7,73.5 L845.2,73.5 L846.7,73.4 L848.2,73.4 L849.7,73.3 L851.2,73.3 L852.7,73.3 L854.2,73.2 L855.7,73.2 L857.2,73.2 L858.7,73.2 L860.2,73.1 L861.7,73.1 L863.2,73.1 L864.7,73.1 L866.2,73.1 L867.7,73 L869.2,73 L870.7,73 L872.2,73 L873.7,73 L875.2,73 L876.7,72.9 L878.2,72.9 L879.7,72.9 L881.2,72.9 L882.7,72.9 L884.2,72.9 L885.7,72.8 L887.2,72.8 L888.7,72.8 L890.2,72.8 L891.7,72.8 L893.2,72.8 L894.7,72.8 L896.2,72.8 L897.7,72.7 L899.2,72.7 L900.7,72.7 L902.2,72.7 L903.7,72.7 L905.2,72.7 L906.7,72.7 L908.2,72.7 L909.7,72.6 L911.2,72.6 L912.7,72.6 L914.2,72.6 L915.7,72.6 L917.2,72.6 L918.7,72.6 L920.2,72.5 L921.7,72.5 L923.2,72.5 L924.7,72.5 L926.2,72.5 L927.7,72.4 L929.2,72.4 L930.7,72.4 L932.2,72.4 L933.7,72.4 L935.2,72.3 L936.7,72.3 L938.2,72.3 L939.7,72.3 L941.2,72.3 L942.7,72.2 L944.2,72.2 L945.7,72.2 L947.2,72.2 L948.7,72.1 L950.2,72.1 L951.7,72.1 L953.2,72.1 L954.7,72 L956.2,72 L957.7,72 L959.2,72 L960.7,71.9 L962.2,71.9 L963.7,71.9 L965.2,71.9 L966.7,71.9 L968.2,71.8 L969.7,71.8 L971.2,71.8 L972.7,71.8 L974.2,71.7 L975.7,71.7 L977.2,71.7 L978.7,71.7 L980.2,71.6 L981.7,71.6 L983.2,71.6 L984.7,71.6 L986.2,71.6 L987.7,71.5 L989.2,71.5 L990.7,71.5 L992.2,71.5 L993.7,71.5 L995.2,71.4 L996.7,71.4 L998.2,71.4 L999.7,71.4 L1001.2,71.4 L1002.7,71.4 L1004.2,71.3 L1005.7,71.3 L1007.2,71.3 L1008.7,71.3 L1010.2,71.3 L1011.7,71.3 L1013.2,71.2 L1014.7,71.2 L1016.2,71.2 L1017.7,71.2 L1019.2,71.2 L1020.7,71.2 L1022.2,71.1 L1023.7,71.1 L1025.2,71.1 L1026.7,71.1 L1028.2,71.1 L1029.7,71 L1031.2,71 L1032.7,71 L1034.2,71 L1035.7,70.9 L1037.2,70.9 L1038.7,70.9 L1040.2,70.9 L1041.7,70.8 L1043.2,70.8 L1044.7,70.8 L1046.2,70.7 L1047.7,70.7 L1049.2,70.7 L1050.7,70.7 L1052.2,70.6 L1053.7,70.6 L1055.2,70.6 L1056.7,70.5 L1058.2,70.5 L1059.7,70.5 L1061.2,70.5 L1062.7,70.4 L1064.2,70.4 L1065.7,70.4 L1067.2,70.3 L1068.7,70.3 L1070.2,70.3 L1071.7,70.3 L1073.2,70.2 L1074.7,70.2 L1076.2,70.2 L1077.7,70.1 L1079.2,70.1 L1080.7,70.1 L1082.2,70.1 L1083.7,70 L1085.2,70 L1086.7,70 L1088.2,70 L1089.7,69.9 L1091.2,69.9 L1092.7,69.9 L1094.2,69.9 L1095.7,69.8 L1097.2,69.8 L1098.7,69.8 L1100.2,69.8 L1101.7,69.7 L1103.2,69.7 L1104.7,69.7 L1106.2,69.7 L1107.7,69.6 L1109.2,69.6 L1110.7,69.6 L1112.2,69.6 L1113.7,69.6 L1115.2,69.5 L1116.7,69.5 L1118.2,69.5 L1119.7,69.5 L1121.2,69.4 L1122.7,69.4 L1124.2,69.4 L1125.7,69.4 L1127.2,69.4 L1128.7,69.3 L1130.2,69.3 L1131.7,69.3 L1133.2,69.3 L1134.7,69.3 L1136.2,69.2 L1137.7,69.2 L1139.2,69.2 L1140.7,69.2 L1142.2,69.2 L1143.7,69.1 L1145.2,69.1 L1146.7,69.1 L1148.2,69.1 L1149.7,69.1 L1151.2,69.1 L1152.7,69.1 L1154.2,69 L1155.7,69 L1157.2,69 L1158.7,69 L1160.2,69 L1161.7,69 L1163.2,69 L1164.7,68.9 L1166.2,68.9 L1167.7,68.9 L1169.2,68.9 L1170.7,68.9 L1172.2,68.9 L1173.7,68.9 L1175.2,68.9 L1176.7,68.8 L1178.2,68.8 L1179.7,68.8 L1181.2,68.8 L1182.7,68.8 L1184.2,68.8 L1185.7,68.8 L1187.2,68.8 L1188.7,68.8 L1190.2,68.7 L1191.7,68.7 L1193.2,68.7 L1194.7,68.7 L1196.2,68.7 L1197.7,68.7 L1199.2,68.7 L1200.7,68.7 L1202.2,68.7 L1203.7,68.7 L1205.2,68.7 L1206.7,68.6 L1208.2,68.6 L1209.7,68.6 L1211.2,68.6 L1212.7,68.6 L1214.2,68.6 L1215.7,68.6 L1217.2,68.6 L1218.7,68.6 L1220.2,68.6 L1221.7,68.6 L1223.2,68.6 L1224.7,68.6 L1226.2,68.6 L1227.7,68.6 L1229.2,68.6 L1230.7,68.6 L1232.2,68.7 L1233.7,68.7 L1235.2,68.7 L1236.7,68.7 L1238.2,68.7 L1239.7,68.8 L1241.2,68.8 L1242.7,68.8 L1244.2,68.9 L1245.7,68.9 L1247.2,68.9 L1248.7,69 L1250.2,69 L1251.7,69.1 L1253.2,69.1 L1254.7,69.2 L1256.2,69.2 L1257.7,69.3 L1259.2,69.3 L1260.7,69.4 L1262.2,69.4 L1263.7,69.5 L1265.2,69.6 L1266.7,69.6 L1268.2,69.7 L1269.7,69.8 L1271.2,69.8 L1272.7,69.9 L1274.2,69.9 L1275.7,70 L1277.2,70.1 L1278.7,70.1 L1280.2,70.2 L1281.7,70.3 L1282,70.3" fill="none" stroke="#42C0C0" stroke-width="3.0" stroke-linejoin="round" stroke-linecap="butt"/>
<path d="M768.7,132.4 L770.2,132.3 L771.7,132.3 L773.2,132.2 L774.7,132.1 L776.2,132 L777.7,132 L779.2,131.9 L780.7,131.8 L782.2,131.7 L783.7,131.7 L785.2,131.6 L786.7,131.5 L788.2,131.4 L789.7,131.3 L791.2,131.3 L792.7,131.2 L794.2,131.1 L795.7,131 L797.2,130.9 L798.7,130.8 L800.2,130.7 L801.7,130.6 L803.2,130.5 L804.7,130.5 L806.2,130.4 L807.7,130.3 L809.2,130.2 L810.7,130.1 L812.2,130 L813.7,129.9 L815.2,129.8 L816.7,129.7 L818.2,129.6 L819.7,129.5 L821.2,129.4 L822.7,129.2 L824.2,129.1 L825.7,129 L827.2,128.9 L828.7,128.8 L830.2,128.7 L831.7,128.6 L833.2,128.4 L834.7,128.3 L836.2,128.2 L837.7,128 L839.2,127.9 L840.7,127.8 L842.2,127.6 L843.7,127.5 L845.2,127.3 L846.7,127.2 L848.2,127 L849.7,126.9 L851.2,126.7 L852.7,126.5 L854.2,126.3 L855.7,126.2 L857.2,126 L858.7,125.8 L860.2,125.6 L861.7,125.4 L863.2,125.2 L864.7,125 L866.2,124.8 L867.7,124.6 L869.2,124.4 L870.7,124.2 L872.2,124 L873.7,123.7 L875.2,123.5 L876.7,123.3 L878.2,123 L879.7,122.8 L881.2,122.6 L882.7,122.3 L884.2,122.1 L885.7,121.8 L887.2,121.6 L888.7,121.3 L890.2,121 L891.7,120.8 L893.2,120.5 L894.7,120.2 L896.2,119.9 L897.7,119.6 L899.2,119.3 L900.7,119 L902.2,118.7 L903.7,118.4 L905.2,118.1 L906.7,117.8 L908.2,117.4 L909.7,117.1 L911.2,116.8 L912.7,116.5 L914.2,116.2 L915.7,115.8 L917.2,115.5 L918.7,115.2 L920.2,114.9 L921.7,114.6 L923.2,114.2 L924.7,113.9 L926.2,113.6 L927.7,113.3 L929.2,112.9 L930.7,112.6 L932.2,112.3 L933.7,112 L935.2,111.6 L936.7,111.3 L938.2,111 L939.7,110.6 L941.2,110.3 L942.7,110 L944.2,109.6 L945.7,109.3 L947.2,109 L948.7,108.6 L950.2,108.3 L951.7,108 L953.2,107.7 L954.7,107.4 L956.2,107 L957.7,106.7 L959.2,106.4 L960.7,106.1 L962.2,105.8 L963.7,105.5 L965.2,105.3 L966.7,105 L968.2,104.7 L969.7,104.4 L971.2,104.1 L972.7,103.9 L974.2,103.6 L975.7,103.3 L977.2,103.1 L978.7,102.8 L980.2,102.5 L981.7,102.3 L983.2,102 L984.7,101.8 L986.2,101.5 L987.7,101.3 L989.2,101 L990.7,100.8 L992.2,100.5 L993.7,100.3 L995.2,100.1 L996.7,99.8 L998.2,99.6 L999.7,99.4 L1001.2,99.2 L1002.7,98.9 L1004.2,98.7 L1005.7,98.5 L1007.2,98.3 L1008.7,98.1 L1010.2,97.9 L1011.7,97.7 L1013.2,97.5 L1014.7,97.3 L1016.2,97.1 L1017.7,96.9 L1019.2,96.7 L1020.7,96.5 L1022.2,96.4 L1023.7,96.2 L1025.2,96 L1026.7,95.8 L1028.2,95.5 L1029.7,95.3 L1031.2,95.1 L1032.7,94.9 L1034.2,94.7 L1035.7,94.5 L1037.2,94.3 L1038.7,94.1 L1040.2,93.8 L1041.7,93.6 L1043.2,93.4 L1044.7,93.2 L1046.2,93 L1047.7,92.7 L1049.2,92.5 L1050.7,92.3 L1052.2,92.1 L1053.7,91.9 L1055.2,91.7 L1056.7,91.4 L1058.2,91.2 L1059.7,91 L1061.2,90.8 L1062.7,90.6 L1064.2,90.4 L1065.7,90.2 L1067.2,90 L1068.7,89.8 L1070.2,89.6 L1071.7,89.4 L1073.2,89.2 L1074.7,89 L1076.2,88.8 L1077.7,88.6 L1079.2,88.4 L1080.7,88.2 L1082.2,88 L1083.7,87.8 L1085.2,87.6 L1086.7,87.5 L1088.2,87.3 L1089.7,87.1 L1091.2,86.9 L1092.7,86.7 L1094.2,86.5 L1095.7,86.3 L1097.2,86.1 L1098.7,86 L1100.2,85.8 L1101.7,85.6 L1103.2,85.4 L1104.7,85.2 L1106.2,85 L1107.7,84.9 L1109.2,84.7 L1110.7,84.5 L1112.2,84.3 L1113.7,84.1 L1115.2,83.9 L1116.7,83.8 L1118.2,83.6 L1119.7,83.4 L1121.2,83.2 L1122.7,83.1 L1124.2,82.9 L1125.7,82.7 L1127.2,82.5 L1128.7,82.4 L1130.2,82.2 L1131.7,82 L1133.2,81.8 L1134.7,81.7 L1136.2,81.5 L1137.7,81.3 L1139.2,81.2 L1140.7,81 L1142.2,80.8 L1143.7,80.6 L1145.2,80.5 L1146.7,80.3 L1148.2,80.1 L1149.7,80 L1151.2,79.8 L1152.7,79.6 L1154.2,79.5 L1155.7,79.3 L1157.2,79.1 L1158.7,79 L1160.2,78.8 L1161.7,78.6 L1163.2,78.5 L1164.7,78.3 L1166.2,78.2 L1167.7,78 L1169.2,77.8 L1170.7,77.7 L1172.2,77.5 L1173.7,77.3 L1175.2,77.2 L1176.7,77 L1178.2,76.8 L1179.7,76.6 L1181.2,76.5 L1182.7,76.3 L1184.2,76.1 L1185.7,76 L1187.2,75.8 L1188.7,75.6 L1190.2,75.4 L1191.7,75.3 L1193.2,75.1 L1194.7,74.9 L1196.2,74.8 L1197.7,74.6 L1199.2,74.5 L1200.7,74.3 L1202.2,74.2 L1203.7,74 L1205.2,73.9 L1206.7,73.8 L1208.2,73.7 L1209.7,73.5 L1211.2,73.4 L1212.7,73.3 L1214.2,73.2 L1215.7,73.1 L1217.2,73 L1218.7,72.9 L1220.2,72.7 L1221.7,72.6 L1223.2,72.5 L1224.7,72.4 L1226.2,72.3 L1227.7,72.2 L1229.2,72.2 L1230.7,72.1 L1232.2,72 L1233.7,71.9 L1235.2,71.9 L1236.7,71.8 L1238.2,71.8 L1239.7,71.7 L1241.2,71.7 L1242.7,71.7 L1244.2,71.6 L1245.7,71.6 L1247.2,71.6 L1248.7,71.6 L1250.2,71.6 L1251.7,71.6 L1253.2,71.6 L1254.7,71.6 L1256.2,71.6 L1257.7,71.6 L1259.2,71.7 L1260.7,71.7 L1262.2,71.7 L1263.7,71.7 L1265.2,71.7 L1266.7,71.8 L1268.2,71.8 L1269.7,71.8 L1271.2,71.9 L1272.7,71.9 L1274.2,72 L1275.7,72 L1277.2,72.1 L1278.7,72.1 L1280.2,72.2 L1281.7,72.3 L1282,72.3" fill="none" stroke="#E47F71" stroke-width="3.0" stroke-linejoin="round" stroke-linecap="butt"/>
<path d="M768.7,66.8 L770.2,66.8 L771.7,66.7 L773.2,66.7 L774.7,66.6 L776.2,66.6 L777.7,66.5 L779.2,66.5 L780.7,66.4 L782.2,66.4 L783.7,66.3 L785.2,66.3 L786.7,66.3 L788.2,66.2 L789.7,66.2 L791.2,66.1 L792.7,66.1 L794.2,66 L795.7,66 L797.2,65.9 L798.7,65.9 L800.2,65.9 L801.7,65.8 L803.2,65.8 L804.7,65.7 L806.2,65.7 L807.7,65.7 L809.2,65.6 L810.7,65.6 L812.2,65.5 L813.7,65.5 L815.2,65.5 L816.7,65.4 L818.2,65.4 L819.7,65.3 L821.2,65.3 L822.7,65.3 L824.2,65.2 L825.7,65.2 L827.2,65.2 L828.7,65.1 L830.2,65.1 L831.7,65 L833.2,65 L834.7,65 L836.2,64.9 L837.7,64.9 L839.2,64.9 L840.7,64.8 L842.2,64.8 L843.7,64.8 L845.2,64.7 L846.7,64.7 L848.2,64.6 L849.7,64.6 L851.2,64.6 L852.7,64.5 L854.2,64.5 L855.7,64.5 L857.2,64.4 L858.7,64.4 L860.2,64.4 L861.7,64.3 L863.2,64.3 L864.7,64.3 L866.2,64.2 L867.7,64.2 L869.2,64.2 L870.7,64.1 L872.2,64.1 L873.7,64.1 L875.2,64 L876.7,64 L878.2,64 L879.7,64 L881.2,63.9 L882.7,63.9 L884.2,63.9 L885.7,63.9 L887.2,63.8 L888.7,63.8 L890.2,63.8 L891.7,63.8 L893.2,63.7 L894.7,63.7 L896.2,63.7 L897.7,63.7 L899.2,63.7 L900.7,63.6 L902.2,63.6 L903.7,63.6 L905.2,63.6 L906.7,63.6 L908.2,63.6 L909.7,63.5 L911.2,63.5 L912.7,63.5 L914.2,63.5 L915.7,63.5 L917.2,63.4 L918.7,63.4 L920.2,63.4 L921.7,63.4 L923.2,63.4 L924.7,63.4 L926.2,63.3 L927.7,63.3 L929.2,63.3 L930.7,63.3 L932.2,63.3 L933.7,63.3 L935.2,63.2 L936.7,63.2 L938.2,63.2 L939.7,63.2 L941.2,63.2 L942.7,63.2 L944.2,63.2 L945.7,63.2 L947.2,63.2 L948.7,63.1 L950.2,63.1 L951.7,63.1 L953.2,63.1 L954.7,63.1 L956.2,63.1 L957.7,63.1 L959.2,63.1 L960.7,63.1 L962.2,63.1 L963.7,63.1 L965.2,63.1 L966.7,63.1 L968.2,63.1 L969.7,63.1 L971.2,63.1 L972.7,63.1 L974.2,63.2 L975.7,63.2 L977.2,63.2 L978.7,63.2 L980.2,63.2 L981.7,63.2 L983.2,63.3 L984.7,63.3 L986.2,63.3 L987.7,63.3 L989.2,63.3 L990.7,63.4 L992.2,63.4 L993.7,63.4 L995.2,63.5 L996.7,63.5 L998.2,63.5 L999.7,63.5 L1001.2,63.6 L1002.7,63.6 L1004.2,63.6 L1005.7,63.7 L1007.2,63.7 L1008.7,63.7 L1010.2,63.7 L1011.7,63.8 L1013.2,63.8 L1014.7,63.8 L1016.2,63.9 L1017.7,63.9 L1019.2,63.9 L1020.7,63.9 L1022.2,64 L1023.7,64 L1025.2,64 L1026.7,64 L1028.2,64.1 L1029.7,64.1 L1031.2,64.1 L1032.7,64.1 L1034.2,64.2 L1035.7,64.2 L1037.2,64.2 L1038.7,64.2 L1040.2,64.3 L1041.7,64.3 L1043.2,64.3 L1044.7,64.4 L1046.2,64.4 L1047.7,64.4 L1049.2,64.4 L1050.7,64.5 L1052.2,64.5 L1053.7,64.5 L1055.2,64.6 L1056.7,64.6 L1058.2,64.6 L1059.7,64.6 L1061.2,64.7 L1062.7,64.7 L1064.2,64.7 L1065.7,64.8 L1067.2,64.8 L1068.7,64.8 L1070.2,64.8 L1071.7,64.8 L1073.2,64.9 L1074.7,64.9 L1076.2,64.9 L1077.7,64.9 L1079.2,64.9 L1080.7,64.9 L1082.2,65 L1083.7,65 L1085.2,65 L1086.7,65 L1088.2,65 L1089.7,65 L1091.2,65 L1092.7,65 L1094.2,65 L1095.7,65 L1097.2,65 L1098.7,65 L1100.2,65 L1101.7,65 L1103.2,65 L1104.7,65 L1106.2,64.9 L1107.7,64.9 L1109.2,64.9 L1110.7,64.9 L1112.2,64.9 L1113.7,64.9 L1115.2,64.9 L1116.7,64.9 L1118.2,64.9 L1119.7,64.8 L1121.2,64.8 L1122.7,64.8 L1124.2,64.8 L1125.7,64.8 L1127.2,64.8 L1128.7,64.8 L1130.2,64.8 L1131.7,64.7 L1133.2,64.7 L1134.7,64.7 L1136.2,64.7 L1137.7,64.7 L1139.2,64.7 L1140.7,64.7 L1142.2,64.7 L1143.7,64.7 L1145.2,64.6 L1146.7,64.6 L1148.2,64.6 L1149.7,64.6 L1151.2,64.6 L1152.7,64.6 L1154.2,64.6 L1155.7,64.6 L1157.2,64.6 L1158.7,64.6 L1160.2,64.6 L1161.7,64.6 L1163.2,64.6 L1164.7,64.6 L1166.2,64.6 L1167.7,64.6 L1169.2,64.6 L1170.7,64.6 L1172.2,64.6 L1173.7,64.6 L1175.2,64.6 L1176.7,64.6 L1178.2,64.6 L1179.7,64.6 L1181.2,64.6 L1182.7,64.6 L1184.2,64.6 L1185.7,64.6 L1187.2,64.6 L1188.7,64.6 L1190.2,64.6 L1191.7,64.6 L1193.2,64.6 L1194.7,64.6 L1196.2,64.6 L1197.7,64.6 L1199.2,64.6 L1200.7,64.6 L1202.2,64.6 L1203.7,64.6 L1205.2,64.6 L1206.7,64.6 L1208.2,64.6 L1209.7,64.6 L1211.2,64.6 L1212.7,64.6 L1214.2,64.7 L1215.7,64.7 L1217.2,64.7 L1218.7,64.7 L1220.2,64.8 L1221.7,64.8 L1223.2,64.9 L1224.7,65 L1226.2,65 L1227.7,65.1 L1229.2,65.2 L1230.7,65.3 L1232.2,65.4 L1233.7,65.5 L1235.2,65.6 L1236.7,65.7 L1238.2,65.8 L1239.7,65.9 L1241.2,66.1 L1242.7,66.2 L1244.2,66.4 L1245.7,66.5 L1247.2,66.7 L1248.7,66.9 L1250.2,67.2 L1251.7,67.4 L1253.2,67.7 L1254.7,68 L1256.2,68.3 L1257.7,68.6 L1259.2,69 L1260.7,69.4 L1262.2,69.8 L1263.7,70.2 L1265.2,70.7 L1266.7,71.1 L1268.2,71.6 L1269.7,72.2 L1271.2,72.8 L1272.7,73.3 L1274.2,74 L1275.7,74.6 L1277.2,75.3 L1278.7,76 L1280.2,76.7 L1281.7,77.4 L1282,77.6" fill="none" stroke="#BEA2CB" stroke-width="3.0" stroke-linejoin="round" stroke-linecap="butt"/>
<path d="M768.7,430.7 L770.2,430.9 L771.7,431 L773.2,431.2 L774.7,431.3 L776.2,431.5 L777.7,431.6 L779.2,431.8 L780.7,431.9 L782.2,432.1 L783.7,432.2 L785.2,432.4 L786.7,432.5 L788.2,432.6 L789.7,432.8 L791.2,432.9 L792.7,433 L794.2,433.1 L795.7,433.2 L797.2,433.3 L798.7,433.4 L800.2,433.5 L801.7,433.6 L803.2,433.7 L804.7,433.8 L806.2,433.9 L807.7,434 L809.2,434.1 L810.7,434.1 L812.2,434.2 L813.7,434.3 L815.2,434.4 L816.7,434.4 L818.2,434.5 L819.7,434.6 L821.2,434.6 L822.7,434.7 L824.2,434.7 L825.7,434.8 L827.2,434.9 L828.7,434.9 L830.2,435 L831.7,435 L833.2,435.1 L834.7,435.1 L836.2,435.2 L837.7,435.2 L839.2,435.3 L840.7,435.3 L842.2,435.4 L843.7,435.4 L845.2,435.5 L846.7,435.5 L848.2,435.6 L849.7,435.6 L851.2,435.7 L852.7,435.7 L854.2,435.8 L855.7,435.8 L857.2,435.8 L858.7,435.9 L860.2,435.9 L861.7,436 L863.2,436 L864.7,436.1 L866.2,436.1 L867.7,436.1 L869.2,436.2 L870.7,436.2 L872.2,436.3 L873.7,436.3 L875.2,436.3 L876.7,436.4 L878.2,436.4 L879.7,436.4 L881.2,436.5 L882.7,436.5 L884.2,436.5 L885.7,436.6 L887.2,436.6 L888.7,436.6 L890.2,436.7 L891.7,436.7 L893.2,436.7 L894.7,436.8 L896.2,436.8 L897.7,436.8 L899.2,436.8 L900.7,436.9 L902.2,436.9 L903.7,436.9 L905.2,436.9 L906.7,437 L908.2,437 L909.7,437 L911.2,437 L912.7,437.1 L914.2,437.1 L915.7,437.1 L917.2,437.1 L918.7,437.1 L920.2,437.2 L921.7,437.2 L923.2,437.2 L924.7,437.2 L926.2,437.2 L927.7,437.3 L929.2,437.3 L930.7,437.3 L932.2,437.3 L933.7,437.3 L935.2,437.3 L936.7,437.4 L938.2,437.4 L939.7,437.4 L941.2,437.4 L942.7,437.4 L944.2,437.5 L945.7,437.5 L947.2,437.5 L948.7,437.5 L950.2,437.5 L951.7,437.5 L953.2,437.6 L954.7,437.6 L956.2,437.6 L957.7,437.6 L959.2,437.6 L960.7,437.7 L962.2,437.7 L963.7,437.7 L965.2,437.7 L966.7,437.7 L968.2,437.8 L969.7,437.8 L971.2,437.8 L972.7,437.8 L974.2,437.8 L975.7,437.9 L977.2,437.9 L978.7,437.9 L980.2,437.9 L981.7,437.9 L983.2,438 L984.7,438 L986.2,438 L987.7,438 L989.2,438 L990.7,438.1 L992.2,438.1 L993.7,438.1 L995.2,438.1 L996.7,438.2 L998.2,438.2 L999.7,438.2 L1001.2,438.2 L1002.7,438.2 L1004.2,438.3 L1005.7,438.3 L1007.2,438.3 L1008.7,438.3 L1010.2,438.4 L1011.7,438.4 L1013.2,438.4 L1014.7,438.4 L1016.2,438.4 L1017.7,438.5 L1019.2,438.5 L1020.7,438.5 L1022.2,438.6 L1023.7,438.6 L1025.2,438.6 L1026.7,438.6 L1028.2,438.7 L1029.7,438.7 L1031.2,438.7 L1032.7,438.8 L1034.2,438.8 L1035.7,438.8 L1037.2,438.9 L1038.7,438.9 L1040.2,438.9 L1041.7,439 L1043.2,439 L1044.7,439 L1046.2,439.1 L1047.7,439.1 L1049.2,439.1 L1050.7,439.2 L1052.2,439.2 L1053.7,439.3 L1055.2,439.3 L1056.7,439.3 L1058.2,439.4 L1059.7,439.4 L1061.2,439.4 L1062.7,439.5 L1064.2,439.5 L1065.7,439.6 L1067.2,439.6 L1068.7,439.6 L1070.2,439.7 L1071.7,439.7 L1073.2,439.8 L1074.7,439.8 L1076.2,439.8 L1077.7,439.9 L1079.2,439.9 L1080.7,439.9 L1082.2,440 L1083.7,440 L1085.2,440.1 L1086.7,440.1 L1088.2,440.1 L1089.7,440.2 L1091.2,440.2 L1092.7,440.2 L1094.2,440.3 L1095.7,440.3 L1097.2,440.3 L1098.7,440.4 L1100.2,440.4 L1101.7,440.4 L1103.2,440.5 L1104.7,440.5 L1106.2,440.5 L1107.7,440.6 L1109.2,440.6 L1110.7,440.6 L1112.2,440.7 L1113.7,440.7 L1115.2,440.7 L1116.7,440.8 L1118.2,440.8 L1119.7,440.8 L1121.2,440.9 L1122.7,440.9 L1124.2,440.9 L1125.7,441 L1127.2,441 L1128.7,441 L1130.2,441.1 L1131.7,441.1 L1133.2,441.1 L1134.7,441.2 L1136.2,441.2 L1137.7,441.2 L1139.2,441.2 L1140.7,441.3 L1142.2,441.3 L1143.7,441.3 L1145.2,441.3 L1146.7,441.4 L1148.2,441.4 L1149.7,441.4 L1151.2,441.4 L1152.7,441.4 L1154.2,441.5 L1155.7,441.5 L1157.2,441.5 L1158.7,441.5 L1160.2,441.5 L1161.7,441.5 L1163.2,441.5 L1164.7,441.6 L1166.2,441.6 L1167.7,441.6 L1169.2,441.6 L1170.7,441.6 L1172.2,441.6 L1173.7,441.6 L1175.2,441.6 L1176.7,441.7 L1178.2,441.7 L1179.7,441.7 L1181.2,441.7 L1182.7,441.7 L1184.2,441.7 L1185.7,441.7 L1187.2,441.7 L1188.7,441.7 L1190.2,441.7 L1191.7,441.7 L1193.2,441.8 L1194.7,441.8 L1196.2,441.8 L1197.7,441.8 L1199.2,441.8 L1200.7,441.8 L1202.2,441.8 L1203.7,441.8 L1205.2,441.8 L1206.7,441.8 L1208.2,441.8 L1209.7,441.8 L1211.2,441.8 L1212.7,441.7 L1214.2,441.7 L1215.7,441.7 L1217.2,441.7 L1218.7,441.6 L1220.2,441.6 L1221.7,441.5 L1223.2,441.4 L1224.7,441.3 L1226.2,441.3 L1227.7,441.2 L1229.2,441.1 L1230.7,441 L1232.2,440.9 L1233.7,440.8 L1235.2,440.7 L1236.7,440.6 L1238.2,440.5 L1239.7,440.4 L1241.2,440.3 L1242.7,440.2 L1244.2,440.2 L1245.7,440.1 L1247.2,440 L1248.7,439.9 L1250.2,439.9 L1251.7,439.8 L1253.2,439.7 L1254.7,439.7 L1256.2,439.6 L1257.7,439.6 L1259.2,439.5 L1260.7,439.5 L1262.2,439.4 L1263.7,439.4 L1265.2,439.3 L1266.7,439.3 L1268.2,439.2 L1269.7,439.2 L1271.2,439.2 L1272.7,439.1 L1274.2,439.1 L1275.7,439 L1277.2,439 L1278.7,439 L1280.2,438.9 L1281.7,438.9 L1282,438.9" fill="none" stroke="#42C0C0" stroke-width="3.0" stroke-linejoin="round" stroke-linecap="butt"/>
<path d="M768.7,366.4 L770.2,366.5 L771.7,366.5 L773.2,366.6 L774.7,366.7 L776.2,366.7 L777.7,366.8 L779.2,366.9 L780.7,367 L782.2,367 L783.7,367.1 L785.2,367.2 L786.7,367.3 L788.2,367.4 L789.7,367.4 L791.2,367.5 L792.7,367.6 L794.2,367.7 L795.7,367.8 L797.2,367.9 L798.7,368 L800.2,368.1 L801.7,368.2 L803.2,368.3 L804.7,368.4 L806.2,368.5 L807.7,368.6 L809.2,368.7 L810.7,368.8 L812.2,368.9 L813.7,369 L815.2,369.1 L816.7,369.2 L818.2,369.3 L819.7,369.4 L821.2,369.5 L822.7,369.6 L824.2,369.8 L825.7,369.9 L827.2,370 L828.7,370.1 L830.2,370.3 L831.7,370.4 L833.2,370.6 L834.7,370.7 L836.2,370.8 L837.7,371 L839.2,371.2 L840.7,371.3 L842.2,371.5 L843.7,371.7 L845.2,371.8 L846.7,372 L848.2,372.2 L849.7,372.4 L851.2,372.6 L852.7,372.8 L854.2,373.1 L855.7,373.3 L857.2,373.5 L858.7,373.8 L860.2,374 L861.7,374.3 L863.2,374.5 L864.7,374.8 L866.2,375.1 L867.7,375.4 L869.2,375.6 L870.7,375.9 L872.2,376.2 L873.7,376.5 L875.2,376.8 L876.7,377.1 L878.2,377.3 L879.7,377.6 L881.2,377.9 L882.7,378.2 L884.2,378.5 L885.7,378.8 L887.2,379.2 L888.7,379.5 L890.2,379.8 L891.7,380.1 L893.2,380.5 L894.7,380.8 L896.2,381.1 L897.7,381.5 L899.2,381.8 L900.7,382.2 L902.2,382.5 L903.7,382.9 L905.2,383.3 L906.7,383.6 L908.2,384 L909.7,384.3 L911.2,384.7 L912.7,385.1 L914.2,385.4 L915.7,385.8 L917.2,386.2 L918.7,386.6 L920.2,386.9 L921.7,387.3 L923.2,387.7 L924.7,388 L926.2,388.4 L927.7,388.8 L929.2,389.2 L930.7,389.5 L932.2,389.9 L933.7,390.3 L935.2,390.7 L936.7,391.1 L938.2,391.5 L939.7,391.8 L941.2,392.2 L942.7,392.6 L944.2,393 L945.7,393.4 L947.2,393.8 L948.7,394.2 L950.2,394.5 L951.7,394.9 L953.2,395.3 L954.7,395.6 L956.2,396 L957.7,396.4 L959.2,396.7 L960.7,397.1 L962.2,397.4 L963.7,397.7 L965.2,398.1 L966.7,398.4 L968.2,398.7 L969.7,399.1 L971.2,399.4 L972.7,399.7 L974.2,400 L975.7,400.3 L977.2,400.6 L978.7,400.9 L980.2,401.2 L981.7,401.5 L983.2,401.8 L984.7,402.1 L986.2,402.4 L987.7,402.7 L989.2,403 L990.7,403.3 L992.2,403.5 L993.7,403.8 L995.2,404.1 L996.7,404.4 L998.2,404.7 L999.7,405 L1001.2,405.2 L1002.7,405.5 L1004.2,405.8 L1005.7,406.1 L1007.2,406.4 L1008.7,406.6 L1010.2,406.9 L1011.7,407.2 L1013.2,407.5 L1014.7,407.7 L1016.2,408 L1017.7,408.2 L1019.2,408.5 L1020.7,408.8 L1022.2,409 L1023.7,409.3 L1025.2,409.5 L1026.7,409.8 L1028.2,410 L1029.7,410.2 L1031.2,410.5 L1032.7,410.7 L1034.2,410.9 L1035.7,411.1 L1037.2,411.3 L1038.7,411.6 L1040.2,411.8 L1041.7,412 L1043.2,412.2 L1044.7,412.4 L1046.2,412.6 L1047.7,412.8 L1049.2,413 L1050.7,413.3 L1052.2,413.5 L1053.7,413.7 L1055.2,413.9 L1056.7,414.1 L1058.2,414.3 L1059.7,414.5 L1061.2,414.7 L1062.7,414.9 L1064.2,415.1 L1065.7,415.3 L1067.2,415.5 L1068.7,415.7 L1070.2,415.9 L1071.7,416.1 L1073.2,416.3 L1074.7,416.5 L1076.2,416.7 L1077.7,416.9 L1079.2,417.1 L1080.7,417.3 L1082.2,417.5 L1083.7,417.7 L1085.2,417.9 L1086.7,418.1 L1088.2,418.3 L1089.7,418.5 L1091.2,418.7 L1092.7,418.9 L1094.2,419.1 L1095.7,419.3 L1097.2,419.5 L1098.7,419.7 L1100.2,419.9 L1101.7,420.1 L1103.2,420.3 L1104.7,420.5 L1106.2,420.7 L1107.7,420.9 L1109.2,421.1 L1110.7,421.3 L1112.2,421.5 L1113.7,421.7 L1115.2,421.9 L1116.7,422.1 L1118.2,422.3 L1119.7,422.5 L1121.2,422.6 L1122.7,422.8 L1124.2,423 L1125.7,423.2 L1127.2,423.4 L1128.7,423.6 L1130.2,423.8 L1131.7,424 L1133.2,424.2 L1134.7,424.4 L1136.2,424.6 L1137.7,424.8 L1139.2,425 L1140.7,425.3 L1142.2,425.5 L1143.7,425.7 L1145.2,425.9 L1146.7,426.1 L1148.2,426.3 L1149.7,426.5 L1151.2,426.8 L1152.7,427 L1154.2,427.2 L1155.7,427.4 L1157.2,427.7 L1158.7,427.9 L1160.2,428.1 L1161.7,428.4 L1163.2,428.6 L1164.7,428.8 L1166.2,429.1 L1167.7,429.3 L1169.2,429.5 L1170.7,429.8 L1172.2,430 L1173.7,430.2 L1175.2,430.5 L1176.7,430.7 L1178.2,430.9 L1179.7,431.1 L1181.2,431.3 L1182.7,431.5 L1184.2,431.7 L1185.7,431.9 L1187.2,432.2 L1188.7,432.4 L1190.2,432.6 L1191.7,432.8 L1193.2,433 L1194.7,433.2 L1196.2,433.4 L1197.7,433.6 L1199.2,433.8 L1200.7,434 L1202.2,434.2 L1203.7,434.4 L1205.2,434.6 L1206.7,434.8 L1208.2,434.9 L1209.7,435.1 L1211.2,435.3 L1212.7,435.5 L1214.2,435.6 L1215.7,435.8 L1217.2,435.9 L1218.7,436 L1220.2,436.2 L1221.7,436.3 L1223.2,436.4 L1224.7,436.5 L1226.2,436.6 L1227.7,436.7 L1229.2,436.8 L1230.7,436.8 L1232.2,436.9 L1233.7,437 L1235.2,437.1 L1236.7,437.2 L1238.2,437.2 L1239.7,437.3 L1241.2,437.4 L1242.7,437.4 L1244.2,437.5 L1245.7,437.5 L1247.2,437.6 L1248.7,437.6 L1250.2,437.7 L1251.7,437.7 L1253.2,437.7 L1254.7,437.7 L1256.2,437.8 L1257.7,437.8 L1259.2,437.8 L1260.7,437.8 L1262.2,437.7 L1263.7,437.7 L1265.2,437.7 L1266.7,437.7 L1268.2,437.6 L1269.7,437.6 L1271.2,437.6 L1272.7,437.5 L1274.2,437.5 L1275.7,437.4 L1277.2,437.3 L1278.7,437.3 L1280.2,437.2 L1281.7,437.1 L1282,437.1" fill="none" stroke="#E47F71" stroke-width="3.0" stroke-linejoin="round" stroke-linecap="butt"/>
<path d="M768.7,443.9 L770.2,443.9 L771.7,444 L773.2,444 L774.7,444 L776.2,444.1 L777.7,444.1 L779.2,444.2 L780.7,444.2 L782.2,444.2 L783.7,444.3 L785.2,444.3 L786.7,444.3 L788.2,444.4 L789.7,444.4 L791.2,444.4 L792.7,444.5 L794.2,444.5 L795.7,444.6 L797.2,444.6 L798.7,444.6 L800.2,444.7 L801.7,444.7 L803.2,444.7 L804.7,444.8 L806.2,444.8 L807.7,444.8 L809.2,444.9 L810.7,444.9 L812.2,444.9 L813.7,445 L815.2,445 L816.7,445 L818.2,445.1 L819.7,445.1 L821.2,445.1 L822.7,445.2 L824.2,445.2 L825.7,445.2 L827.2,445.3 L828.7,445.3 L830.2,445.3 L831.7,445.4 L833.2,445.4 L834.7,445.4 L836.2,445.4 L837.7,445.5 L839.2,445.5 L840.7,445.5 L842.2,445.6 L843.7,445.6 L845.2,445.6 L846.7,445.7 L848.2,445.7 L849.7,445.7 L851.2,445.8 L852.7,445.8 L854.2,445.8 L855.7,445.9 L857.2,445.9 L858.7,445.9 L860.2,446 L861.7,446 L863.2,446 L864.7,446.1 L866.2,446.1 L867.7,446.1 L869.2,446.2 L870.7,446.2 L872.2,446.2 L873.7,446.3 L875.2,446.3 L876.7,446.3 L878.2,446.3 L879.7,446.4 L881.2,446.4 L882.7,446.4 L884.2,446.4 L885.7,446.5 L887.2,446.5 L888.7,446.5 L890.2,446.5 L891.7,446.5 L893.2,446.6 L894.7,446.6 L896.2,446.6 L897.7,446.6 L899.2,446.6 L900.7,446.6 L902.2,446.7 L903.7,446.7 L905.2,446.7 L906.7,446.7 L908.2,446.7 L909.7,446.7 L911.2,446.8 L912.7,446.8 L914.2,446.8 L915.7,446.8 L917.2,446.8 L918.7,446.8 L920.2,446.8 L921.7,446.9 L923.2,446.9 L924.7,446.9 L926.2,446.9 L927.7,446.9 L929.2,446.9 L930.7,446.9 L932.2,447 L933.7,447 L935.2,447 L936.7,447 L938.2,447 L939.7,447 L941.2,447 L942.7,447 L944.2,447 L945.7,447 L947.2,447.1 L948.7,447.1 L950.2,447.1 L951.7,447.1 L953.2,447.1 L954.7,447.1 L956.2,447.1 L957.7,447.1 L959.2,447.1 L960.7,447.1 L962.2,447.1 L963.7,447.1 L965.2,447.1 L966.7,447.1 L968.2,447.1 L969.7,447.1 L971.2,447.1 L972.7,447.1 L974.2,447.1 L975.7,447.1 L977.2,447.1 L978.7,447.1 L980.2,447.1 L981.7,447.1 L983.2,447.1 L984.7,447.1 L986.2,447.1 L987.7,447.1 L989.2,447.1 L990.7,447.1 L992.2,447.1 L993.7,447.1 L995.2,447.1 L996.7,447.1 L998.2,447.1 L999.7,447.1 L1001.2,447.1 L1002.7,447.1 L1004.2,447.1 L1005.7,447.1 L1007.2,447.1 L1008.7,447.1 L1010.2,447.1 L1011.7,447.1 L1013.2,447.1 L1014.7,447.1 L1016.2,447.1 L1017.7,447.1 L1019.2,447.1 L1020.7,447.1 L1022.2,447.1 L1023.7,447.1 L1025.2,447.1 L1026.7,447.1 L1028.2,447.1 L1029.7,447.1 L1031.2,447.1 L1032.7,447.1 L1034.2,447 L1035.7,447 L1037.2,447 L1038.7,447 L1040.2,447 L1041.7,446.9 L1043.2,446.9 L1044.7,446.9 L1046.2,446.9 L1047.7,446.8 L1049.2,446.8 L1050.7,446.8 L1052.2,446.7 L1053.7,446.7 L1055.2,446.7 L1056.7,446.6 L1058.2,446.6 L1059.7,446.6 L1061.2,446.5 L1062.7,446.5 L1064.2,446.5 L1065.7,446.4 L1067.2,446.4 L1068.7,446.4 L1070.2,446.3 L1071.7,446.3 L1073.2,446.3 L1074.7,446.2 L1076.2,446.2 L1077.7,446.2 L1079.2,446.1 L1080.7,446.1 L1082.2,446.1 L1083.7,446.1 L1085.2,446.1 L1086.7,446 L1088.2,446 L1089.7,446 L1091.2,446 L1092.7,446 L1094.2,446 L1095.7,446 L1097.2,446 L1098.7,446 L1100.2,446 L1101.7,446 L1103.2,445.9 L1104.7,445.9 L1106.2,445.9 L1107.7,445.9 L1109.2,445.9 L1110.7,445.9 L1112.2,445.9 L1113.7,445.9 L1115.2,445.9 L1116.7,445.9 L1118.2,445.9 L1119.7,445.9 L1121.2,445.9 L1122.7,445.9 L1124.2,445.9 L1125.7,445.9 L1127.2,445.9 L1128.7,445.8 L1130.2,445.8 L1131.7,445.8 L1133.2,445.8 L1134.7,445.8 L1136.2,445.8 L1137.7,445.8 L1139.2,445.8 L1140.7,445.8 L1142.2,445.8 L1143.7,445.8 L1145.2,445.8 L1146.7,445.8 L1148.2,445.8 L1149.7,445.8 L1151.2,445.8 L1152.7,445.8 L1154.2,445.8 L1155.7,445.8 L1157.2,445.8 L1158.7,445.8 L1160.2,445.8 L1161.7,445.8 L1163.2,445.8 L1164.7,445.8 L1166.2,445.8 L1167.7,445.8 L1169.2,445.8 L1170.7,445.8 L1172.2,445.8 L1173.7,445.8 L1175.2,445.9 L1176.7,445.9 L1178.2,445.9 L1179.7,445.9 L1181.2,445.9 L1182.7,445.9 L1184.2,445.9 L1185.7,445.9 L1187.2,445.9 L1188.7,445.9 L1190.2,445.9 L1191.7,445.9 L1193.2,445.9 L1194.7,446 L1196.2,446 L1197.7,446 L1199.2,446 L1200.7,446 L1202.2,446 L1203.7,446 L1205.2,446 L1206.7,446 L1208.2,446 L1209.7,446 L1211.2,445.9 L1212.7,445.9 L1214.2,445.9 L1215.7,445.8 L1217.2,445.8 L1218.7,445.7 L1220.2,445.6 L1221.7,445.5 L1223.2,445.4 L1224.7,445.2 L1226.2,445.1 L1227.7,444.9 L1229.2,444.8 L1230.7,444.6 L1232.2,444.4 L1233.7,444.3 L1235.2,444.1 L1236.7,443.9 L1238.2,443.7 L1239.7,443.5 L1241.2,443.2 L1242.7,443 L1244.2,442.7 L1245.7,442.5 L1247.2,442.2 L1248.7,441.9 L1250.2,441.5 L1251.7,441.2 L1253.2,440.8 L1254.7,440.5 L1256.2,440.1 L1257.7,439.7 L1259.2,439.3 L1260.7,438.8 L1262.2,438.4 L1263.7,437.9 L1265.2,437.4 L1266.7,436.9 L1268.2,436.4 L1269.7,435.9 L1271.2,435.3 L1272.7,434.7 L1274.2,434 L1275.7,433.4 L1277.2,432.7 L1278.7,432.1 L1280.2,431.4 L1281.7,430.7 L1282,430.5" fill="none" stroke="#BEA2CB" stroke-width="3.0" stroke-linejoin="round" stroke-linecap="butt"/>
<line x1="1128" y1="255.8" x2="1283.4" y2="255.8" stroke="#000" stroke-width="3.0" />
<rect x="767" y="58.7" width="516.4" height="394" fill="none" stroke="#000" stroke-width="3.0" stroke-linejoin="miter"/>
<line x1="767" y1="255.7" x2="774.5" y2="255.7" stroke="#000" stroke-width="2.6" />
<line x1="767" y1="216.3" x2="774.5" y2="216.3" stroke="#000" stroke-width="2.6" />
<line x1="767" y1="176.9" x2="774.5" y2="176.9" stroke="#000" stroke-width="2.6" />
<line x1="767" y1="137.5" x2="774.5" y2="137.5" stroke="#000" stroke-width="2.6" />
<line x1="767" y1="98.1" x2="774.5" y2="98.1" stroke="#000" stroke-width="2.6" />
<line x1="767" y1="58.7" x2="774.5" y2="58.7" stroke="#000" stroke-width="2.6" />
<line x1="767" y1="236" x2="771" y2="236" stroke="#000" stroke-width="2.6" />
<line x1="767" y1="196.6" x2="771" y2="196.6" stroke="#000" stroke-width="2.6" />
<line x1="767" y1="157.2" x2="771" y2="157.2" stroke="#000" stroke-width="2.6" />
<line x1="767" y1="117.8" x2="771" y2="117.8" stroke="#000" stroke-width="2.6" />
<line x1="767" y1="78.4" x2="771" y2="78.4" stroke="#000" stroke-width="2.6" />
<text x="758.1" y="264.4" font-size="25.5" text-anchor="end">0</text>
<text x="758.1" y="225" font-size="25.5" text-anchor="end">20</text>
<text x="758.1" y="185.6" font-size="25.5" text-anchor="end">40</text>
<text x="758.1" y="146.2" font-size="25.5" text-anchor="end">60</text>
<text x="758.1" y="106.8" font-size="25.5" text-anchor="end">80</text>
<text x="758.1" y="67.4" font-size="25.5" text-anchor="end">100</text>
<line x1="767" y1="452.9" x2="774.5" y2="452.9" stroke="#000" stroke-width="2.6" />
<line x1="767" y1="395" x2="774.5" y2="395" stroke="#000" stroke-width="2.6" />
<line x1="767" y1="337.1" x2="774.5" y2="337.1" stroke="#000" stroke-width="2.6" />
<line x1="767" y1="279.2" x2="774.5" y2="279.2" stroke="#000" stroke-width="2.6" />
<line x1="767" y1="424" x2="771" y2="424" stroke="#000" stroke-width="2.6" />
<line x1="767" y1="366.1" x2="771" y2="366.1" stroke="#000" stroke-width="2.6" />
<line x1="767" y1="308.1" x2="771" y2="308.1" stroke="#000" stroke-width="2.6" />
<text x="758.1" y="461.6" font-size="25.5" text-anchor="end">2.0</text>
<text x="758.1" y="403.7" font-size="25.5" text-anchor="end">2.5</text>
<text x="758.1" y="345.8" font-size="25.5" text-anchor="end">3.0</text>
<text x="758.1" y="287.9" font-size="25.5" text-anchor="end">3.5</text>
<line x1="806.7" y1="452.7" x2="806.7" y2="445.2" stroke="#000" stroke-width="2.6" />
<line x1="886.2" y1="452.7" x2="886.2" y2="445.2" stroke="#000" stroke-width="2.6" />
<line x1="965.6" y1="452.7" x2="965.6" y2="445.2" stroke="#000" stroke-width="2.6" />
<line x1="1045.1" y1="452.7" x2="1045.1" y2="445.2" stroke="#000" stroke-width="2.6" />
<line x1="1124.5" y1="452.7" x2="1124.5" y2="445.2" stroke="#000" stroke-width="2.6" />
<line x1="1204" y1="452.7" x2="1204" y2="445.2" stroke="#000" stroke-width="2.6" />
<line x1="1283.4" y1="452.7" x2="1283.4" y2="445.2" stroke="#000" stroke-width="2.6" />
<line x1="846.4" y1="452.7" x2="846.4" y2="448.7" stroke="#000" stroke-width="2.6" />
<line x1="925.9" y1="452.7" x2="925.9" y2="448.7" stroke="#000" stroke-width="2.6" />
<line x1="1005.3" y1="452.7" x2="1005.3" y2="448.7" stroke="#000" stroke-width="2.6" />
<line x1="1084.8" y1="452.7" x2="1084.8" y2="448.7" stroke="#000" stroke-width="2.6" />
<line x1="1164.2" y1="452.7" x2="1164.2" y2="448.7" stroke="#000" stroke-width="2.6" />
<line x1="1243.7" y1="452.7" x2="1243.7" y2="448.7" stroke="#000" stroke-width="2.6" />
<text x="806.7" y="481.2" font-size="25.5" text-anchor="middle">-0.3</text>
<text x="886.2" y="481.2" font-size="25.5" text-anchor="middle">-0.2</text>
<text x="965.6" y="481.2" font-size="25.5" text-anchor="middle">-0.1</text>
<text x="1045.1" y="481.2" font-size="25.5" text-anchor="middle">0.0</text>
<text x="1124.5" y="481.2" font-size="25.5" text-anchor="middle">0.1</text>
<text x="1204" y="481.2" font-size="25.5" text-anchor="middle">0.2</text>
<text x="1283.4" y="481.2" font-size="25.5" text-anchor="middle">0.3</text>
<line x1="783.3" y1="222.2" x2="824.4" y2="222.2" stroke="#42C0C0" stroke-width="3.0" />
<text x="835.1" y="229.9" font-size="23.4" text-anchor="start">Ni(OH)<tspan font-size="15.9" dy="6.3">2</tspan><tspan dy="-6.3">​</tspan>/CNT 3.6 wt.% NaCl</text>
<line x1="783.3" y1="256.1" x2="824.4" y2="256.1" stroke="#E47F71" stroke-width="3.0" />
<text x="835.1" y="264.1" font-size="23.4" text-anchor="start">NiO/CNT 3.6 wt.% NaCl</text>
<line x1="783.3" y1="284.5" x2="824.4" y2="284.5" stroke="#BEA2CB" stroke-width="3.0" />
<text x="835.1" y="291.4" font-size="23.4" text-anchor="start">Ni(OH)<tspan font-size="15.9" dy="6.3">2</tspan><tspan dy="-6.3">​</tspan> 3.6 wt.% NaCl</text>
<text x="872.8" y="529.1" font-size="32.3" text-anchor="start">Potential (V vs. RHE)</text>
<text x="700.6" y="236.6" font-size="32.7" text-anchor="start" transform="rotate(-90 700.6 236.6)">H<tspan font-size="22.2" dy="8.8">2</tspan><tspan dy="-8.8">​</tspan>O<tspan font-size="22.2" dy="8.8">2</tspan><tspan dy="-8.8">​</tspan> (%)</text>
<text x="691.7" y="372.8" font-size="31.9" text-anchor="start" transform="rotate(-90 691.7 372.8)">n</text>
<text x="666.7" y="41.7" font-size="59" text-anchor="start">b</text>
<rect x="1464.8" y="166.9" width="17" height="281.4" fill="#42C0C0"/>
<rect x="1481.4" y="183.2" width="17" height="265.1" fill="#E47F71"/>
<rect x="1498" y="193.8" width="16.6" height="254.5" fill="#BEA2CB"/>
<rect x="1525.6" y="179.4" width="17" height="268.9" fill="#42C0C0"/>
<rect x="1542.2" y="189.1" width="17" height="259.2" fill="#E47F71"/>
<rect x="1558.8" y="192.1" width="16.6" height="256.2" fill="#BEA2CB"/>
<rect x="1586.3" y="208" width="17" height="240.3" fill="#42C0C0"/>
<rect x="1602.9" y="206.1" width="17" height="242.2" fill="#E47F71"/>
<rect x="1619.5" y="206.1" width="16.6" height="242.2" fill="#BEA2CB"/>
<rect x="1647" y="251.3" width="17" height="197" fill="#42C0C0"/>
<rect x="1663.6" y="235.7" width="17" height="212.6" fill="#E47F71"/>
<rect x="1680.2" y="232.8" width="16.6" height="215.5" fill="#BEA2CB"/>
<rect x="1707.8" y="286.1" width="17" height="162.2" fill="#42C0C0"/>
<rect x="1724.4" y="265.5" width="17" height="182.8" fill="#E47F71"/>
<rect x="1741" y="254.6" width="16.6" height="193.7" fill="#BEA2CB"/>
<rect x="1768.5" y="282.8" width="17" height="165.5" fill="#42C0C0"/>
<rect x="1785.1" y="256" width="17" height="192.3" fill="#E47F71"/>
<rect x="1801.7" y="254.6" width="16.6" height="193.7" fill="#BEA2CB"/>
<rect x="1829.3" y="354.4" width="17" height="93.9" fill="#42C0C0"/>
<rect x="1845.9" y="300" width="17" height="148.3" fill="#E47F71"/>
<rect x="1862.5" y="328.2" width="16.6" height="120.1" fill="#BEA2CB"/>
<line x1="1429.5" y1="137.4" x2="1915.4" y2="137.4" stroke="#000" stroke-width="3" stroke-dasharray="14 13"/>
<line x1="1496.6" y1="90.6" x2="1543.8" y2="87.7" stroke="#E47F71" stroke-width="2.6" />
<line x1="1557.4" y1="87.1" x2="1604.5" y2="85.7" stroke="#E47F71" stroke-width="2.6" />
<line x1="1618.1" y1="85.2" x2="1665.3" y2="82.8" stroke="#E47F71" stroke-width="2.6" />
<line x1="1678.8" y1="82.2" x2="1726" y2="80.1" stroke="#E47F71" stroke-width="2.6" />
<line x1="1739.6" y1="79.6" x2="1786.7" y2="78.2" stroke="#E47F71" stroke-width="2.6" />
<line x1="1800.3" y1="78.6" x2="1847.5" y2="82.9" stroke="#E47F71" stroke-width="2.6" />
<line x1="1496.6" y1="100.5" x2="1543.8" y2="96.9" stroke="#42C0C0" stroke-width="2.6" />
<line x1="1557.4" y1="95.9" x2="1604.5" y2="92.5" stroke="#42C0C0" stroke-width="2.6" />
<line x1="1618.1" y1="91.7" x2="1665.3" y2="89.3" stroke="#42C0C0" stroke-width="2.6" />
<line x1="1678.8" y1="88.5" x2="1726" y2="85.3" stroke="#42C0C0" stroke-width="2.6" />
<line x1="1739.6" y1="84.5" x2="1786.7" y2="82.8" stroke="#42C0C0" stroke-width="2.6" />
<line x1="1800.3" y1="83" x2="1847.5" y2="86.3" stroke="#42C0C0" stroke-width="2.6" />
<line x1="1496.5" y1="122.7" x2="1543.9" y2="114.3" stroke="#BEA2CB" stroke-width="2.6" />
<line x1="1557.3" y1="112.1" x2="1604.6" y2="105.4" stroke="#BEA2CB" stroke-width="2.6" />
<line x1="1618.1" y1="103.6" x2="1665.3" y2="98.4" stroke="#BEA2CB" stroke-width="2.6" />
<line x1="1678.8" y1="96.9" x2="1726" y2="92.4" stroke="#BEA2CB" stroke-width="2.6" />
<line x1="1739.6" y1="91.2" x2="1786.7" y2="87.9" stroke="#BEA2CB" stroke-width="2.6" />
<line x1="1800.3" y1="87.9" x2="1847.5" y2="91.5" stroke="#BEA2CB" stroke-width="2.6" />
<polygon points="1489.8,85.7 1494.3,88.3 1494.3,93.7 1489.8,96.3 1485.3,93.7 1485.3,88.3" fill="#fff" stroke="#E47F71" stroke-width="1.3"/>
<polygon points="1489.8,85.7 1494.3,88.3 1494.3,93.7 1489.8,96.3" fill="#E47F71"/>
<polygon points="1550.6,82 1555.1,84.6 1555.1,90 1550.6,92.6 1546.1,90 1546.1,84.6" fill="#fff" stroke="#E47F71" stroke-width="1.3"/>
<polygon points="1550.6,82 1555.1,84.6 1555.1,90 1550.6,92.6" fill="#E47F71"/>
<polygon points="1611.3,80.2 1615.8,82.8 1615.8,88.2 1611.3,90.8 1606.8,88.2 1606.8,82.8" fill="#fff" stroke="#E47F71" stroke-width="1.3"/>
<polygon points="1611.3,80.2 1615.8,82.8 1615.8,88.2 1611.3,90.8" fill="#E47F71"/>
<polygon points="1672,77.2 1676.5,79.8 1676.5,85.2 1672,87.8 1667.5,85.2 1667.5,79.8" fill="#fff" stroke="#E47F71" stroke-width="1.3"/>
<polygon points="1672,77.2 1676.5,79.8 1676.5,85.2 1672,87.8" fill="#E47F71"/>
<polygon points="1732.8,74.5 1737.3,77.1 1737.3,82.5 1732.8,85.1 1728.3,82.5 1728.3,77.1" fill="#fff" stroke="#E47F71" stroke-width="1.3"/>
<polygon points="1732.8,74.5 1737.3,77.1 1737.3,82.5 1732.8,85.1" fill="#E47F71"/>
<polygon points="1793.5,72.7 1798,75.3 1798,80.7 1793.5,83.3 1789,80.7 1789,75.3" fill="#fff" stroke="#E47F71" stroke-width="1.3"/>
<polygon points="1793.5,72.7 1798,75.3 1798,80.7 1793.5,83.3" fill="#E47F71"/>
<polygon points="1854.3,78.2 1858.8,80.8 1858.8,86.2 1854.3,88.8 1849.8,86.2 1849.8,80.8" fill="#fff" stroke="#E47F71" stroke-width="1.3"/>
<polygon points="1854.3,78.2 1858.8,80.8 1858.8,86.2 1854.3,88.8" fill="#E47F71"/>
<polygon points="1489.8,95.7 1494.3,98.3 1494.3,103.7 1489.8,106.3 1485.3,103.7 1485.3,98.3" fill="#fff" stroke="#42C0C0" stroke-width="1.3"/>
<polygon points="1489.8,95.7 1494.3,98.3 1494.3,103.7 1489.8,106.3" fill="#42C0C0"/>
<polygon points="1550.6,91.1 1555.1,93.8 1555.1,99.1 1550.6,101.7 1546.1,99.1 1546.1,93.8" fill="#fff" stroke="#42C0C0" stroke-width="1.3"/>
<polygon points="1550.6,91.1 1555.1,93.8 1555.1,99.1 1550.6,101.7" fill="#42C0C0"/>
<polygon points="1611.3,86.7 1615.8,89.3 1615.8,94.7 1611.3,97.3 1606.8,94.7 1606.8,89.3" fill="#fff" stroke="#42C0C0" stroke-width="1.3"/>
<polygon points="1611.3,86.7 1615.8,89.3 1615.8,94.7 1611.3,97.3" fill="#42C0C0"/>
<polygon points="1672,83.7 1676.5,86.3 1676.5,91.7 1672,94.3 1667.5,91.7 1667.5,86.3" fill="#fff" stroke="#42C0C0" stroke-width="1.3"/>
<polygon points="1672,83.7 1676.5,86.3 1676.5,91.7 1672,94.3" fill="#42C0C0"/>
<polygon points="1732.8,79.5 1737.3,82.1 1737.3,87.5 1732.8,90.1 1728.3,87.5 1728.3,82.1" fill="#fff" stroke="#42C0C0" stroke-width="1.3"/>
<polygon points="1732.8,79.5 1737.3,82.1 1737.3,87.5 1732.8,90.1" fill="#42C0C0"/>
<polygon points="1793.5,77.2 1798,79.8 1798,85.2 1793.5,87.8 1789,85.2 1789,79.8" fill="#fff" stroke="#42C0C0" stroke-width="1.3"/>
<polygon points="1793.5,77.2 1798,79.8 1798,85.2 1793.5,87.8" fill="#42C0C0"/>
<polygon points="1854.3,81.5 1858.8,84.1 1858.8,89.5 1854.3,92.1 1849.8,89.5 1849.8,84.1" fill="#fff" stroke="#42C0C0" stroke-width="1.3"/>
<polygon points="1854.3,81.5 1858.8,84.1 1858.8,89.5 1854.3,92.1" fill="#42C0C0"/>
<polygon points="1489.8,118.6 1494.3,121.2 1494.3,126.6 1489.8,129.2 1485.3,126.6 1485.3,121.2" fill="#fff" stroke="#BEA2CB" stroke-width="1.3"/>
<polygon points="1489.8,118.6 1494.3,121.2 1494.3,126.6 1489.8,129.2" fill="#BEA2CB"/>
<polygon points="1550.6,107.8 1555.1,110.4 1555.1,115.8 1550.6,118.4 1546.1,115.8 1546.1,110.4" fill="#fff" stroke="#BEA2CB" stroke-width="1.3"/>
<polygon points="1550.6,107.8 1555.1,110.4 1555.1,115.8 1550.6,118.4" fill="#BEA2CB"/>
<polygon points="1611.3,99.1 1615.8,101.8 1615.8,107.1 1611.3,109.7 1606.8,107.1 1606.8,101.8" fill="#fff" stroke="#BEA2CB" stroke-width="1.3"/>
<polygon points="1611.3,99.1 1615.8,101.8 1615.8,107.1 1611.3,109.7" fill="#BEA2CB"/>
<polygon points="1672,92.3 1676.5,94.9 1676.5,100.2 1672,102.9 1667.5,100.2 1667.5,94.9" fill="#fff" stroke="#BEA2CB" stroke-width="1.3"/>
<polygon points="1672,92.3 1676.5,94.9 1676.5,100.2 1672,102.9" fill="#BEA2CB"/>
<polygon points="1732.8,86.4 1737.3,89 1737.3,94.4 1732.8,97 1728.3,94.4 1728.3,89" fill="#fff" stroke="#BEA2CB" stroke-width="1.3"/>
<polygon points="1732.8,86.4 1737.3,89 1737.3,94.4 1732.8,97" fill="#BEA2CB"/>
<polygon points="1793.5,82.1 1798,84.8 1798,90.1 1793.5,92.7 1789,90.1 1789,84.8" fill="#fff" stroke="#BEA2CB" stroke-width="1.3"/>
<polygon points="1793.5,82.1 1798,84.8 1798,90.1 1793.5,92.7" fill="#BEA2CB"/>
<polygon points="1854.3,86.7 1858.8,89.3 1858.8,94.7 1854.3,97.3 1849.8,94.7 1849.8,89.3" fill="#fff" stroke="#BEA2CB" stroke-width="1.3"/>
<polygon points="1854.3,86.7 1858.8,89.3 1858.8,94.7 1854.3,97.3" fill="#BEA2CB"/>
<rect x="1687" y="139.5" width="53.8" height="27" fill="#42C0C0"/>
<text x="1746.5" y="160.7" font-size="24.2" text-anchor="start">0.9 wt.% NaCl</text>
<rect x="1687" y="167.5" width="53.8" height="25.3" fill="#E47F71"/>
<text x="1746.5" y="187.6" font-size="24.2" text-anchor="start">3.6 wt.% NaCl</text>
<rect x="1687" y="194" width="53.8" height="25.5" fill="#BEA2CB"/>
<text x="1746.5" y="214.3" font-size="24.2" text-anchor="start">0.1 M Na<tspan font-size="16.4" dy="6.5">2</tspan><tspan dy="-6.5">​</tspan>SO<tspan font-size="16.4" dy="6.5">4</tspan><tspan dy="-6.5">​</tspan></text>
<rect x="1429.5" y="58.4" width="485.9" height="389.9" fill="none" stroke="#000" stroke-width="3.0" stroke-linejoin="miter"/>
<line x1="1429.5" y1="448.3" x2="1437" y2="448.3" stroke="#000" stroke-width="2.6" />
<line x1="1429.5" y1="370.3" x2="1437" y2="370.3" stroke="#000" stroke-width="2.6" />
<line x1="1429.5" y1="292.3" x2="1437" y2="292.3" stroke="#000" stroke-width="2.6" />
<line x1="1429.5" y1="214.4" x2="1437" y2="214.4" stroke="#000" stroke-width="2.6" />
<line x1="1429.5" y1="136.4" x2="1437" y2="136.4" stroke="#000" stroke-width="2.6" />
<line x1="1429.5" y1="58.4" x2="1437" y2="58.4" stroke="#000" stroke-width="2.6" />
<line x1="1429.5" y1="409.3" x2="1433.5" y2="409.3" stroke="#000" stroke-width="2.6" />
<line x1="1429.5" y1="331.3" x2="1433.5" y2="331.3" stroke="#000" stroke-width="2.6" />
<line x1="1429.5" y1="253.3" x2="1433.5" y2="253.3" stroke="#000" stroke-width="2.6" />
<line x1="1429.5" y1="175.4" x2="1433.5" y2="175.4" stroke="#000" stroke-width="2.6" />
<line x1="1429.5" y1="97.4" x2="1433.5" y2="97.4" stroke="#000" stroke-width="2.6" />
<text x="1421.6" y="455.5" font-size="26.1" text-anchor="end">0.00</text>
<text x="1421.6" y="377.5" font-size="26.1" text-anchor="end">0.05</text>
<text x="1421.6" y="299.5" font-size="26.1" text-anchor="end">0.10</text>
<text x="1421.6" y="221.6" font-size="26.1" text-anchor="end">0.15</text>
<text x="1421.6" y="143.6" font-size="26.1" text-anchor="end">0.20</text>
<text x="1421.6" y="65.6" font-size="26.1" text-anchor="end">0.25</text>
<line x1="1915.4" y1="448.3" x2="1907.9" y2="448.3" stroke="#000" stroke-width="2.6" />
<line x1="1915.4" y1="370.3" x2="1907.9" y2="370.3" stroke="#000" stroke-width="2.6" />
<line x1="1915.4" y1="292.3" x2="1907.9" y2="292.3" stroke="#000" stroke-width="2.6" />
<line x1="1915.4" y1="214.4" x2="1907.9" y2="214.4" stroke="#000" stroke-width="2.6" />
<line x1="1915.4" y1="136.4" x2="1907.9" y2="136.4" stroke="#000" stroke-width="2.6" />
<line x1="1915.4" y1="58.4" x2="1907.9" y2="58.4" stroke="#000" stroke-width="2.6" />
<line x1="1915.4" y1="409.3" x2="1911.4" y2="409.3" stroke="#000" stroke-width="2.6" />
<line x1="1915.4" y1="331.3" x2="1911.4" y2="331.3" stroke="#000" stroke-width="2.6" />
<line x1="1915.4" y1="253.4" x2="1911.4" y2="253.4" stroke="#000" stroke-width="2.6" />
<line x1="1915.4" y1="175.4" x2="1911.4" y2="175.4" stroke="#000" stroke-width="2.6" />
<line x1="1915.4" y1="97.4" x2="1911.4" y2="97.4" stroke="#000" stroke-width="2.6" />
<text x="1922.8" y="456.5" font-size="25.5" text-anchor="start">0</text>
<text x="1922.8" y="378.5" font-size="25.5" text-anchor="start">20</text>
<text x="1922.8" y="300.5" font-size="25.5" text-anchor="start">40</text>
<text x="1922.8" y="222.6" font-size="25.5" text-anchor="start">60</text>
<text x="1922.8" y="144.6" font-size="25.5" text-anchor="start">80</text>
<text x="1922.8" y="66.6" font-size="25.5" text-anchor="start">100</text>
<line x1="1429.5" y1="448.3" x2="1429.5" y2="440.8" stroke="#000" stroke-width="2.6" />
<line x1="1490.2" y1="448.3" x2="1490.2" y2="440.8" stroke="#000" stroke-width="2.6" />
<line x1="1551" y1="448.3" x2="1551" y2="440.8" stroke="#000" stroke-width="2.6" />
<line x1="1611.7" y1="448.3" x2="1611.7" y2="440.8" stroke="#000" stroke-width="2.6" />
<line x1="1672.5" y1="448.3" x2="1672.5" y2="440.8" stroke="#000" stroke-width="2.6" />
<line x1="1733.2" y1="448.3" x2="1733.2" y2="440.8" stroke="#000" stroke-width="2.6" />
<line x1="1793.9" y1="448.3" x2="1793.9" y2="440.8" stroke="#000" stroke-width="2.6" />
<line x1="1854.7" y1="448.3" x2="1854.7" y2="440.8" stroke="#000" stroke-width="2.6" />
<line x1="1915.4" y1="448.3" x2="1915.4" y2="440.8" stroke="#000" stroke-width="2.6" />
<line x1="1459.9" y1="448.3" x2="1459.9" y2="444.3" stroke="#000" stroke-width="2.6" />
<line x1="1520.6" y1="448.3" x2="1520.6" y2="444.3" stroke="#000" stroke-width="2.6" />
<line x1="1581.3" y1="448.3" x2="1581.3" y2="444.3" stroke="#000" stroke-width="2.6" />
<line x1="1642.1" y1="448.3" x2="1642.1" y2="444.3" stroke="#000" stroke-width="2.6" />
<line x1="1702.8" y1="448.3" x2="1702.8" y2="444.3" stroke="#000" stroke-width="2.6" />
<line x1="1763.6" y1="448.3" x2="1763.6" y2="444.3" stroke="#000" stroke-width="2.6" />
<line x1="1824.3" y1="448.3" x2="1824.3" y2="444.3" stroke="#000" stroke-width="2.6" />
<line x1="1885" y1="448.3" x2="1885" y2="444.3" stroke="#000" stroke-width="2.6" />
<text x="1427.7" y="481.6" font-size="25.5" text-anchor="middle">-0.4</text>
<text x="1488.4" y="481.6" font-size="25.5" text-anchor="middle">-0.3</text>
<text x="1549.2" y="481.6" font-size="25.5" text-anchor="middle">-0.2</text>
<text x="1609.9" y="481.6" font-size="25.5" text-anchor="middle">-0.1</text>
<text x="1670.7" y="481.6" font-size="25.5" text-anchor="middle">0.0</text>
<text x="1731.4" y="481.6" font-size="25.5" text-anchor="middle">0.1</text>
<text x="1792.1" y="481.6" font-size="25.5" text-anchor="middle">0.2</text>
<text x="1852.9" y="481.6" font-size="25.5" text-anchor="middle">0.3</text>
<text x="1913.6" y="481.6" font-size="25.5" text-anchor="middle">0.4</text>
<text x="1513.5" y="529.1" font-size="33.5" text-anchor="start">Potential (V vs. RHE)</text>
<text x="1352.4" y="317.4" font-size="33.4" text-anchor="start" transform="rotate(-90 1352.4 317.4)">I<tspan font-size="22.7" dy="9">ring</tspan><tspan dy="-9">​</tspan> (mA)</text>
<text x="1984.8" y="368.9" font-size="25.8" text-anchor="start" transform="rotate(-90 1984.8 368.9)">H<tspan font-size="17.6" dy="7">2</tspan><tspan dy="-7">​</tspan>O<tspan font-size="17.6" dy="7">2</tspan><tspan dy="-7">​</tspan> Selectivity (%)</text>
<text x="1326.7" y="44.2" font-size="59" text-anchor="start">c</text>
<path d="M100.9,607.1 L102.2,608.2 L103.4,609.3 L104.7,610.4 L105.9,611.5 L107.2,612.6 L108.4,613.7 L109.7,614.7 L110.9,615.8 L112.2,616.8 L113.4,617.9 L114.7,618.9 L115.9,619.9 L117.2,620.9 L118.4,621.9 L119.7,622.9 L120.9,623.9 L122.2,624.9 L123.4,625.8 L124.7,626.8 L125.9,627.7 L127.2,628.6 L128.4,629.5 L129.7,630.4 L130.9,631.2 L132.4,632.2 L133.9,633.2 L135.4,634.1 L136.9,634.9 L138.4,635.8 L139.9,636.6 L141.4,637.4 L142.9,638.2 L144.4,639 L145.9,639.7 L147.4,640.4 L148.9,641.1 L150.4,641.8 L151.9,642.5 L153.4,643.1 L154.9,643.7 L156.4,644.4 L157.9,645 L159.4,645.6 L160.9,646.2 L162.4,646.7 L163.9,647.3 L165.4,647.9 L166.9,648.4 L168.4,649 L169.9,649.5 L171.4,650 L172.9,650.6 L174.4,651.1 L175.9,651.6 L177.4,652.2 L178.9,652.7 L180.4,653.3 L181.9,653.8 L183.4,654.3 L184.9,654.9 L186.4,655.4 L187.9,656 L189.4,656.5 L190.9,657 L192.4,657.6 L193.9,658.1 L195.4,658.6 L196.9,659.2 L198.4,659.7 L199.9,660.2 L201.4,660.7 L202.9,661.2 L204.4,661.7 L205.9,662.2 L207.4,662.7 L208.9,663.2 L210.4,663.7 L211.9,664.1 L213.4,664.6 L214.9,665.1 L216.4,665.5 L217.9,666 L219.4,666.4 L220.9,666.9 L222.4,667.3 L223.9,667.7 L225.4,668.2 L226.9,668.6 L228.4,669 L229.9,669.4 L231.4,669.8 L232.9,670.2 L234.4,670.6 L235.9,671 L237.4,671.4 L238.9,671.8 L240.4,672.1 L241.9,672.5 L243.4,672.8 L244.9,673.2 L246.4,673.5 L247.9,673.9 L249.4,674.2 L250.9,674.6 L252.4,674.9 L253.9,675.2 L255.4,675.5 L256.9,675.8 L258.4,676.1 L259.9,676.4 L261.4,676.7 L262.9,677 L264.4,677.2 L265.9,677.5 L267.4,677.7 L268.9,677.9 L270.4,678.1 L271.9,678.3 L273.4,678.5 L274.9,678.7 L276.4,678.9 L277.9,679 L279.4,679.2 L280.9,679.3 L282.4,679.5 L283.9,679.6 L285.4,679.7 L286.9,679.9 L288.4,680 L289.9,680.1 L291.4,680.3 L292.9,680.4 L294.4,680.5 L295.9,680.6 L297.4,680.7 L298.9,680.9 L300.4,681 L301.9,681.1 L303.4,681.2 L304.9,681.3 L306.4,681.4 L307.9,681.5 L309.4,681.6 L310.9,681.7 L312.4,681.8 L313.9,681.9 L315.4,682 L316.9,682.1 L318.4,682.2 L319.9,682.3 L321.4,682.4 L322.9,682.6 L324.4,682.7 L325.9,682.8 L327.4,682.9 L328.9,683.1 L330.4,683.2 L331.9,683.4 L333.4,683.6 L334.9,683.8 L336.4,684 L337.9,684.2 L339.4,684.4 L340.9,684.6 L342.4,684.9 L343.9,685.1 L345.4,685.4 L346.9,685.6 L348.4,685.9 L349.9,686.2 L351.4,686.4 L352.9,686.7 L354.4,687 L355.9,687.3 L357.4,687.6 L358.9,687.9 L360.4,688.1 L361.9,688.4 L363.4,688.7 L364.9,689 L366.4,689.3 L367.9,689.6 L369.4,689.9 L370.9,690.2 L372.4,690.5 L373.9,690.9 L375.4,691.2 L376.9,691.6 L378.4,692 L379.9,692.4 L381.4,692.8 L382.9,693.2 L384.4,693.7 L385.9,694.2 L387.4,694.7 L388.9,695.2 L390.4,695.7 L391.9,696.3 L393.4,696.9 L394.9,697.5 L396.4,698.1 L397.9,698.7 L399.4,699.3 L400.9,699.9 L402.4,700.5 L403.9,701.2 L405.4,701.8 L406.9,702.4 L408.4,703 L409.9,703.7 L411.4,704.3 L412.9,704.9 L414.4,705.5 L415.9,706.2 L417.4,706.8 L418.9,707.4 L420.4,708.1 L421.9,708.7 L423.4,709.4 L424.9,710 L426.4,710.7 L427.9,711.3 L429.4,712 L430.9,712.6 L432.4,713.2 L433.9,713.8 L435.4,714.3 L436.9,714.9 L438.4,715.4 L439.9,715.9 L441.4,716.3 L442.9,716.8 L444.4,717.2 L445.9,717.6 L447.4,718 L448.9,718.3 L450.4,718.7 L451.9,719 L453.4,719.3 L454.9,719.6 L456.4,719.8 L457.9,720 L459.4,720.1 L460.9,720.3 L462.4,720.3 L463.9,720.3 L465.4,720.3 L466.9,720.3 L468.4,720.2 L469.9,720.1 L471.4,719.9 L472.9,719.8 L474.4,719.6 L475.9,719.4 L477.4,719.2 L478.9,719 L480.4,718.9 L481.9,718.7 L483.4,718.6 L484.9,718.5 L486.4,718.4 L487.9,718.4 L489.4,718.4 L490.9,718.5 L492.4,718.6 L493.9,718.9 L495.4,719.2 L496.9,719.6 L498.4,720.1 L499.9,720.6 L501.4,721.2 L502.9,721.8 L504.4,722.5 L505.9,723.1 L507.4,723.8 L508.9,724.5 L510.4,725.2 L511.9,725.9 L513.4,726.5 L514.9,727.2 L516.4,727.9 L517.9,728.6 L519.4,729.3 L520.9,730 L522.4,730.7 L523.9,731.4 L525.4,732.1 L526.9,732.7 L528.4,733.3 L529.9,733.8 L531.4,734.3 L532.9,734.8 L534.4,735.2 L535.9,735.5 L537.4,735.8 L538.9,736.1 L540.4,736.4 L541.9,736.6 L543.4,736.8 L544.9,737 L546.4,737.2 L547.9,737.3 L549.4,737.5 L550.9,737.6 L552.4,737.7 L553.9,737.9 L555.4,737.9 L556.9,738 L558.4,738.1 L559.9,738.1 L561.4,738.1 L562.9,738.2 L564.4,738.2 L565.9,738.2 L567.4,738.2 L568.9,738.2 L570.4,738.2 L571.9,738.2 L573.4,738.2 L574.9,738.2 L576.4,738.2 L577.9,738.2 L579.4,738.1 L580.9,738.1 L582.4,738.1 L583.9,738.1 L585.4,738.1 L586.9,738.1 L588.4,738 L589.9,738 L591.4,738 L592.9,738 L594.4,737.9 L595.9,737.9 L597.4,737.9 L598.9,737.8 L600.4,737.8 L601.9,737.7 L603.4,737.7 L604.9,737.6 L606.4,737.5 L607.9,737.5 L609.4,737.4 L610.9,737.4 L612,737.3" fill="none" stroke="#42C0C0" stroke-width="3.0" stroke-linejoin="round" stroke-linecap="butt"/>
<path d="M100.9,595.3 L102.2,596.2 L103.4,597.1 L104.7,598 L105.9,598.9 L107.2,599.9 L108.4,600.9 L109.7,601.9 L110.9,603 L112.2,604.2 L113.4,605.4 L114.7,606.7 L115.9,608 L117.2,609.4 L118.2,610.5 L119.2,611.7 L120.2,612.9 L121.2,614.2 L122.2,615.4 L123.2,616.7 L124.2,618 L125.2,619.3 L126.2,620.6 L127.2,622 L128.2,623.3 L129.2,624.6 L130.2,626 L131.2,627.3 L132.2,628.6 L133.2,629.9 L134.2,631.2 L135.2,632.5 L136.2,633.8 L137.2,635 L138.2,636.2 L139.2,637.4 L140.2,638.6 L141.2,639.7 L142.4,641.1 L143.7,642.4 L144.9,643.7 L146.2,644.9 L147.4,646.1 L148.7,647.2 L149.9,648.2 L151.2,649.2 L152.4,650.1 L153.7,650.9 L155.2,651.8 L156.7,652.7 L158.2,653.4 L159.7,654.2 L161.2,654.9 L162.7,655.5 L164.2,656.1 L165.7,656.7 L167.2,657.2 L168.7,657.7 L170.2,658.2 L171.7,658.7 L173.2,659.2 L174.7,659.6 L176.2,660 L177.7,660.5 L179.2,660.9 L180.7,661.3 L182.2,661.7 L183.7,662.1 L185.2,662.5 L186.7,662.9 L188.2,663.3 L189.7,663.7 L191.2,664.1 L192.7,664.5 L194.2,664.9 L195.7,665.3 L197.2,665.7 L198.7,666.1 L200.2,666.5 L201.7,666.9 L203.2,667.3 L204.7,667.7 L206.2,668.1 L207.7,668.5 L209.2,668.9 L210.7,669.3 L212.2,669.7 L213.7,670.1 L215.2,670.5 L216.7,670.9 L218.2,671.3 L219.7,671.7 L221.2,672.1 L222.7,672.5 L224.2,672.9 L225.7,673.4 L227.2,673.8 L228.7,674.2 L230.2,674.6 L231.7,675 L233.2,675.3 L234.7,675.7 L236.2,676.1 L237.7,676.5 L239.2,676.8 L240.7,677.2 L242.2,677.5 L243.7,677.9 L245.2,678.2 L246.7,678.6 L248.2,678.9 L249.7,679.2 L251.2,679.6 L252.7,679.9 L254.2,680.2 L255.7,680.5 L257.1,680.9 L258.6,681.2 L260.1,681.4 L261.6,681.7 L263.1,682 L264.6,682.3 L266.1,682.5 L267.6,682.7 L269.1,683 L270.6,683.2 L272.1,683.4 L273.6,683.6 L275.1,683.8 L276.6,683.9 L278.1,684.1 L279.6,684.3 L281.1,684.4 L282.6,684.6 L284.1,684.7 L285.6,684.9 L287.1,685 L288.6,685.1 L290.1,685.3 L291.6,685.4 L293.1,685.5 L294.6,685.7 L296.1,685.8 L297.6,685.9 L299.1,686.1 L300.6,686.2 L302.1,686.3 L303.6,686.5 L305.1,686.6 L306.6,686.7 L308.1,686.8 L309.6,687 L311.1,687.1 L312.6,687.2 L314.1,687.3 L315.6,687.5 L317.1,687.6 L318.6,687.7 L320.1,687.8 L321.6,687.9 L323.1,688.1 L324.6,688.2 L326.1,688.3 L327.6,688.5 L329.1,688.6 L330.6,688.7 L332.1,688.8 L333.6,689 L335.1,689.1 L336.6,689.3 L338.1,689.4 L339.6,689.5 L341.1,689.7 L342.6,689.8 L344.1,690 L345.6,690.1 L347.1,690.3 L348.6,690.4 L350.1,690.6 L351.6,690.7 L353.1,690.9 L354.6,691 L356.1,691.2 L357.6,691.4 L359.1,691.5 L360.6,691.7 L362.1,691.9 L363.6,692.1 L365.1,692.2 L366.6,692.4 L368.1,692.6 L369.6,692.8 L371.1,693 L372.6,693.2 L374.1,693.4 L375.6,693.6 L377.1,693.8 L378.6,694.1 L380.1,694.3 L381.6,694.6 L383.1,694.9 L384.6,695.2 L386.1,695.5 L387.6,695.8 L389.1,696.1 L390.6,696.4 L392.1,696.8 L393.6,697.1 L395.1,697.5 L396.6,697.9 L398.1,698.2 L399.6,698.6 L401.1,699 L402.6,699.4 L404.1,699.8 L405.6,700.2 L407.1,700.6 L408.6,700.9 L410.1,701.3 L411.6,701.7 L413.1,702.1 L414.6,702.5 L416.1,703 L417.6,703.4 L419.1,703.8 L420.6,704.3 L422.1,704.7 L423.6,705.1 L425.1,705.6 L426.6,706 L428.1,706.5 L429.6,706.9 L431.1,707.4 L432.6,707.8 L434.1,708.2 L435.6,708.5 L437.1,708.9 L438.6,709.2 L440.1,709.5 L441.6,709.8 L443.1,710.1 L444.6,710.3 L446.1,710.5 L447.6,710.7 L449.1,710.9 L450.6,711.1 L452.1,711.3 L453.6,711.5 L455.1,711.6 L456.6,711.7 L458.1,711.8 L459.6,711.9 L461.1,711.9 L462.6,712 L464.1,712 L465.6,712 L467.1,712 L468.6,711.9 L470.1,711.9 L471.6,711.8 L473.1,711.8 L474.6,711.7 L476.1,711.6 L477.6,711.6 L479.1,711.5 L480.6,711.4 L482.1,711.4 L483.6,711.4 L485.1,711.3 L486.6,711.3 L488.1,711.4 L489.6,711.4 L491.1,711.5 L492.6,711.6 L494.1,711.7 L495.6,711.9 L497.1,712.1 L498.6,712.3 L500.1,712.6 L501.6,712.8 L503.1,713.1 L504.6,713.5 L506.1,713.8 L507.6,714.2 L509.1,714.6 L510.6,715.1 L512.1,715.6 L513.6,716.2 L515.1,716.8 L516.6,717.4 L518.1,718.1 L519.6,718.8 L521.1,719.6 L522.6,720.3 L524.1,721.1 L525.6,721.8 L527.1,722.6 L528.6,723.4 L530.1,724.1 L531.6,724.8 L533.1,725.6 L534.6,726.3 L536.1,727.1 L537.6,727.8 L539.1,728.5 L540.6,729.2 L542.1,729.9 L543.6,730.6 L545.1,731.2 L546.6,731.8 L548.1,732.4 L549.6,733 L551.1,733.5 L552.6,734 L554.1,734.4 L555.6,734.9 L557.1,735.3 L558.6,735.6 L560.1,736 L561.6,736.3 L563.1,736.6 L564.6,736.9 L566.1,737.1 L567.6,737.3 L569.1,737.4 L570.6,737.5 L572.1,737.6 L573.6,737.6 L575.1,737.7 L576.6,737.7 L578.1,737.7 L579.6,737.7 L581.1,737.7 L582.6,737.7 L584.1,737.7 L585.6,737.7 L587.1,737.7 L588.6,737.7 L590.1,737.7 L591.6,737.6 L593.1,737.6 L594.6,737.6 L596.1,737.6 L597.6,737.6 L599.1,737.6 L600.6,737.5 L602.1,737.5 L603.6,737.5 L605.1,737.5 L606.6,737.4 L608.1,737.4 L609.6,737.4 L611.1,737.3 L612,737.3" fill="none" stroke="#E47F71" stroke-width="3.0" stroke-linejoin="round" stroke-linecap="butt"/>
<path d="M100.9,649.3 L102.2,650.1 L103.4,651 L104.7,651.8 L106.2,652.8 L107.7,653.8 L109.2,654.7 L110.7,655.7 L112.2,656.6 L113.7,657.6 L115.2,658.5 L116.7,659.4 L118.2,660.3 L119.7,661.2 L121.2,662 L122.7,662.9 L124.2,663.7 L125.7,664.6 L127.2,665.4 L128.7,666.2 L130.2,666.9 L131.7,667.6 L133.2,668.3 L134.7,669 L136.2,669.6 L137.7,670.3 L139.2,670.9 L140.7,671.4 L142.2,672 L143.7,672.5 L145.2,673.1 L146.7,673.6 L148.2,674 L149.7,674.5 L151.2,674.9 L152.7,675.4 L154.2,675.8 L155.7,676.2 L157.2,676.6 L158.7,676.9 L160.2,677.3 L161.7,677.7 L163.2,678 L164.7,678.3 L166.2,678.6 L167.7,679 L169.2,679.3 L170.7,679.6 L172.2,679.8 L173.7,680.1 L175.2,680.4 L176.7,680.6 L178.2,680.9 L179.7,681.1 L181.2,681.3 L182.7,681.6 L184.2,681.8 L185.7,682 L187.2,682.2 L188.7,682.4 L190.2,682.6 L191.7,682.7 L193.2,682.9 L194.7,683.1 L196.2,683.3 L197.7,683.4 L199.2,683.6 L200.7,683.8 L202.2,683.9 L203.7,684.1 L205.2,684.2 L206.7,684.4 L208.2,684.5 L209.7,684.6 L211.2,684.8 L212.7,684.9 L214.2,685.1 L215.7,685.2 L217.2,685.3 L218.7,685.5 L220.2,685.6 L221.7,685.7 L223.2,685.8 L224.7,686 L226.2,686.1 L227.7,686.2 L229.2,686.3 L230.7,686.4 L232.2,686.5 L233.7,686.6 L235.2,686.7 L236.7,686.8 L238.2,686.9 L239.7,686.9 L241.2,687 L242.7,687.1 L244.2,687.1 L245.7,687.2 L247.2,687.3 L248.7,687.3 L250.2,687.4 L251.7,687.4 L253.2,687.5 L254.7,687.5 L256.1,687.6 L257.6,687.6 L259.1,687.6 L260.6,687.7 L262.1,687.7 L263.6,687.8 L265.1,687.8 L266.6,687.9 L268.1,687.9 L269.6,688 L271.1,688 L272.6,688.1 L274.1,688.1 L275.6,688.2 L277.1,688.3 L278.6,688.3 L280.1,688.4 L281.6,688.4 L283.1,688.5 L284.6,688.5 L286.1,688.6 L287.6,688.7 L289.1,688.7 L290.6,688.8 L292.1,688.8 L293.6,688.9 L295.1,689 L296.6,689 L298.1,689.1 L299.6,689.2 L301.1,689.2 L302.6,689.3 L304.1,689.4 L305.6,689.4 L307.1,689.5 L308.6,689.6 L310.1,689.6 L311.6,689.7 L313.1,689.8 L314.6,689.8 L316.1,689.9 L317.6,690 L319.1,690 L320.6,690.1 L322.1,690.2 L323.6,690.3 L325.1,690.4 L326.6,690.5 L328.1,690.6 L329.6,690.7 L331.1,690.8 L332.6,690.9 L334.1,691 L335.6,691.1 L337.1,691.3 L338.6,691.4 L340.1,691.6 L341.6,691.7 L343.1,691.9 L344.6,692.1 L346.1,692.3 L347.6,692.4 L349.1,692.6 L350.6,692.8 L352.1,693 L353.6,693.2 L355.1,693.4 L356.6,693.6 L358.1,693.9 L359.6,694.1 L361.1,694.3 L362.6,694.5 L364.1,694.8 L365.6,695 L367.1,695.3 L368.6,695.5 L370.1,695.8 L371.6,696.1 L373.1,696.4 L374.6,696.7 L376.1,697 L377.6,697.3 L379.1,697.6 L380.6,697.9 L382.1,698.3 L383.6,698.6 L385.1,698.9 L386.6,699.3 L388.1,699.7 L389.6,700 L391.1,700.4 L392.6,700.8 L394.1,701.2 L395.6,701.6 L397.1,702 L398.6,702.4 L400.1,702.8 L401.6,703.2 L403.1,703.7 L404.6,704.1 L406.1,704.5 L407.6,705 L409.1,705.4 L410.6,705.9 L412.1,706.3 L413.6,706.8 L415.1,707.3 L416.6,707.8 L418.1,708.3 L419.6,708.9 L421.1,709.4 L422.6,710 L424.1,710.6 L425.6,711.2 L427.1,711.8 L428.6,712.3 L430.1,712.9 L431.6,713.5 L433.1,714 L434.6,714.5 L436.1,715 L437.6,715.4 L439.1,715.9 L440.6,716.2 L442.1,716.6 L443.6,716.9 L445.1,717.2 L446.6,717.5 L448.1,717.8 L449.6,718 L451.1,718.2 L452.6,718.5 L454.1,718.6 L455.6,718.8 L457.1,718.9 L458.6,719.1 L460.1,719.1 L461.6,719.2 L463.1,719.2 L464.6,719.2 L466.1,719.1 L467.6,719.1 L469.1,719 L470.6,718.8 L472.1,718.7 L473.6,718.5 L475.1,718.4 L476.6,718.2 L478.1,718 L479.6,717.9 L481.1,717.7 L482.6,717.6 L484.1,717.5 L485.6,717.4 L487.1,717.3 L488.6,717.3 L490.1,717.4 L491.6,717.5 L493.1,717.7 L494.6,718 L496.1,718.3 L497.6,718.7 L499.1,719.2 L500.6,719.7 L502.1,720.3 L503.6,720.9 L505.1,721.5 L506.6,722.2 L508.1,722.8 L509.6,723.5 L511.1,724.2 L512.6,724.8 L514.1,725.5 L515.6,726.2 L517.1,726.9 L518.6,727.6 L520.1,728.3 L521.6,729.1 L523.1,729.8 L524.6,730.5 L526.1,731.2 L527.6,731.8 L529.1,732.4 L530.6,733 L532.1,733.5 L533.6,733.9 L535.1,734.3 L536.6,734.7 L538.1,735 L539.6,735.3 L541.1,735.6 L542.6,735.9 L544.1,736.1 L545.6,736.3 L547.1,736.5 L548.6,736.7 L550.1,736.9 L551.6,737.1 L553.1,737.2 L554.6,737.3 L556.1,737.4 L557.6,737.5 L559.1,737.6 L560.6,737.6 L562.1,737.6 L563.6,737.7 L565.1,737.7 L566.6,737.7 L568.1,737.7 L569.6,737.7 L571.1,737.7 L572.6,737.7 L574.1,737.7 L575.6,737.7 L577.1,737.7 L578.6,737.7 L580.1,737.7 L581.6,737.7 L583.1,737.7 L584.6,737.7 L586.1,737.6 L587.6,737.6 L589.1,737.6 L590.6,737.6 L592.1,737.6 L593.6,737.6 L595.1,737.6 L596.6,737.6 L598.1,737.5 L599.6,737.5 L601.1,737.5 L602.6,737.5 L604.1,737.4 L605.6,737.4 L607.1,737.4 L608.6,737.4 L610.1,737.3 L611.6,737.3 L612,737.3" fill="none" stroke="#BEA2CB" stroke-width="3.0" stroke-linejoin="round" stroke-linecap="butt"/>
<path d="M100.9,941.6 L101.7,940 L102.4,938.4 L103.2,936.9 L103.9,935.3 L104.7,933.7 L105.4,932.1 L106.2,930.6 L106.9,929 L107.7,927.4 L108.4,925.8 L109.2,924.2 L109.9,922.6 L110.7,921 L111.4,919.4 L112.2,917.8 L112.9,916.1 L113.7,914.5 L114.4,912.8 L115.2,911.2 L115.9,909.6 L116.7,908 L117.4,906.4 L118.2,904.9 L118.9,903.5 L119.7,902.1 L120.4,900.8 L121.4,899.1 L122.4,897.6 L123.4,896.1 L124.4,894.6 L125.4,893.2 L126.4,891.9 L127.4,890.6 L128.4,889.3 L129.4,888.1 L130.4,887 L131.4,885.8 L132.7,884.5 L133.9,883.2 L135.2,881.9 L136.4,880.7 L137.7,879.5 L138.9,878.3 L140.2,877.2 L141.4,876.1 L142.7,875 L143.9,874 L145.2,872.9 L146.4,872 L147.7,871.1 L148.9,870.2 L150.2,869.3 L151.7,868.4 L153.2,867.5 L154.7,866.6 L156.2,865.9 L157.7,865.1 L159.2,864.4 L160.7,863.7 L162.2,863.1 L163.7,862.4 L165.2,861.8 L166.7,861.3 L168.2,860.7 L169.7,860.1 L171.2,859.6 L172.7,859.1 L174.2,858.5 L175.7,858 L177.2,857.5 L178.7,856.9 L180.2,856.4 L181.7,855.8 L183.2,855.2 L184.7,854.7 L186.2,854.1 L187.7,853.5 L189.2,852.9 L190.7,852.3 L192.2,851.7 L193.7,851.1 L195.2,850.5 L196.7,849.9 L198.2,849.3 L199.7,848.8 L201.2,848.2 L202.7,847.6 L204.2,847.1 L205.7,846.5 L207.2,846 L208.7,845.4 L210.2,844.9 L211.7,844.4 L213.2,843.9 L214.7,843.4 L216.2,842.9 L217.7,842.4 L219.2,841.9 L220.7,841.4 L222.2,840.9 L223.7,840.4 L225.2,839.9 L226.7,839.4 L228.2,838.9 L229.7,838.5 L231.2,838 L232.7,837.5 L234.2,837.1 L235.7,836.6 L237.2,836.2 L238.7,835.8 L240.2,835.4 L241.7,835 L243.2,834.6 L244.7,834.2 L246.2,833.9 L247.7,833.5 L249.2,833.2 L250.7,832.9 L252.2,832.6 L253.7,832.3 L255.2,832 L256.6,831.8 L258.1,831.5 L259.6,831.3 L261.1,831 L262.6,830.8 L264.1,830.6 L265.6,830.3 L267.1,830.1 L268.6,829.9 L270.1,829.7 L271.6,829.5 L273.1,829.3 L274.6,829.1 L276.1,828.9 L277.6,828.8 L279.1,828.6 L280.6,828.4 L282.1,828.2 L283.6,828.1 L285.1,827.9 L286.6,827.7 L288.1,827.6 L289.6,827.4 L291.1,827.3 L292.6,827.1 L294.1,827 L295.6,826.8 L297.1,826.7 L298.6,826.6 L300.1,826.4 L301.6,826.3 L303.1,826.1 L304.6,826 L306.1,825.9 L307.6,825.7 L309.1,825.6 L310.6,825.4 L312.1,825.3 L313.6,825.1 L315.1,825 L316.6,824.8 L318.1,824.7 L319.6,824.5 L321.1,824.4 L322.6,824.2 L324.1,824.1 L325.6,823.9 L327.1,823.8 L328.6,823.7 L330.1,823.5 L331.6,823.4 L333.1,823.2 L334.6,823.1 L336.1,822.9 L337.6,822.7 L339.1,822.6 L340.6,822.4 L342.1,822.3 L343.6,822.1 L345.1,822 L346.6,821.8 L348.1,821.7 L349.6,821.5 L351.1,821.3 L352.6,821.2 L354.1,821 L355.6,820.8 L357.1,820.7 L358.6,820.5 L360.1,820.3 L361.6,820.1 L363.1,820 L364.6,819.8 L366.1,819.6 L367.6,819.4 L369.1,819.2 L370.6,819 L372.1,818.8 L373.6,818.6 L375.1,818.4 L376.6,818.2 L378.1,818 L379.6,817.7 L381.1,817.5 L382.6,817.2 L384.1,816.9 L385.6,816.7 L387.1,816.4 L388.6,816.1 L390.1,815.8 L391.6,815.5 L393.1,815.2 L394.6,814.9 L396.1,814.6 L397.6,814.3 L399.1,814 L400.6,813.7 L402.1,813.4 L403.6,813.1 L405.1,812.8 L406.6,812.4 L408.1,812.1 L409.6,811.8 L411.1,811.4 L412.6,811 L414.1,810.7 L415.6,810.3 L417.1,809.9 L418.6,809.5 L420.1,809.2 L421.6,808.8 L423.1,808.4 L424.6,808.1 L426.1,807.7 L427.6,807.3 L429.1,807 L430.6,806.7 L432.1,806.4 L433.6,806.1 L435.1,805.8 L436.6,805.4 L438.1,805.1 L439.6,804.8 L441.1,804.5 L442.6,804.1 L444.1,803.8 L445.6,803.5 L447.1,803.2 L448.6,803 L450.1,802.8 L451.6,802.6 L453.1,802.4 L454.6,802.3 L456.1,802.3 L457.6,802.2 L459.1,802.3 L460.6,802.3 L462.1,802.4 L463.6,802.6 L465.1,802.7 L466.6,802.9 L468.1,803.1 L469.6,803.2 L471.1,803.5 L472.6,803.7 L474.1,803.9 L475.6,804.1 L477.1,804.3 L478.6,804.5 L480.1,804.8 L481.6,805.1 L483.1,805.4 L484.6,805.7 L486.1,806.1 L487.6,806.4 L489.1,806.7 L490.6,806.9 L492.1,807.2 L493.6,807.3 L495.1,807.4 L496.6,807.4 L498.1,807.4 L499.6,807.3 L501.1,807.2 L502.6,807 L504.1,806.8 L505.6,806.5 L507.1,806.3 L508.6,805.9 L510.1,805.6 L511.6,805.2 L513.1,804.7 L514.6,804.1 L516.1,803.4 L517.6,802.5 L519.1,801.5 L520.4,800.6 L521.6,799.7 L522.9,798.8 L524.1,797.9 L525.4,797 L526.6,796.1 L527.9,795.2 L529.1,794.4 L530.4,793.6 L531.6,792.7 L532.9,791.8 L534.1,791 L535.4,790.1 L536.6,789.3 L538.1,788.3 L539.6,787.5 L541.1,786.7 L542.6,785.9 L544.1,785.3 L545.6,784.7 L547.1,784.1 L548.6,783.6 L550.1,783 L551.6,782.5 L553.1,782.1 L554.6,781.7 L556.1,781.3 L557.6,781 L559.1,780.8 L560.6,780.7 L562.1,780.6 L563.6,780.5 L565.1,780.4 L566.6,780.4 L568.1,780.3 L569.6,780.3 L571.1,780.2 L572.6,780.2 L574.1,780.1 L575.6,780.1 L577.1,780 L578.6,780 L580.1,780 L581.6,779.9 L583.1,779.9 L584.6,779.9 L586.1,779.8 L587.6,779.8 L589.1,779.8 L590.6,779.8 L592.1,779.7 L593.6,779.7 L595.1,779.7 L596.6,779.7 L598.1,779.7 L599.6,779.7 L601.1,779.6 L602.6,779.6 L604.1,779.6 L605.6,779.6 L607.1,779.6 L608.6,779.6 L610.1,779.6 L611.6,779.6 L612,779.6" fill="none" stroke="#E47F71" stroke-width="3.0" stroke-linejoin="round" stroke-linecap="butt"/>
<path d="M100.9,911.2 L102.2,910.1 L103.4,909.1 L104.7,908 L105.9,906.9 L107.2,905.8 L108.4,904.8 L109.7,903.7 L110.9,902.6 L112.2,901.5 L113.4,900.4 L114.7,899.3 L115.9,898.1 L117.2,897 L118.4,895.9 L119.7,894.7 L120.9,893.6 L122.2,892.4 L123.4,891.3 L124.7,890.1 L125.9,889 L127.2,887.9 L128.4,886.8 L129.7,885.7 L130.9,884.7 L132.2,883.6 L133.4,882.6 L134.7,881.6 L135.9,880.7 L137.2,879.7 L138.4,878.8 L139.7,877.9 L140.9,877 L142.2,876.2 L143.4,875.4 L144.9,874.4 L146.4,873.4 L147.9,872.5 L149.4,871.6 L150.9,870.8 L152.4,870 L153.9,869.2 L155.4,868.4 L156.9,867.7 L158.4,867 L159.9,866.3 L161.4,865.7 L162.9,865 L164.4,864.4 L165.9,863.8 L167.4,863.2 L168.9,862.7 L170.4,862.1 L171.9,861.5 L173.4,860.9 L174.9,860.4 L176.4,859.8 L177.9,859.2 L179.4,858.7 L180.9,858.1 L182.4,857.5 L183.9,856.9 L185.4,856.3 L186.9,855.7 L188.4,855.1 L189.9,854.5 L191.4,853.8 L192.9,853.2 L194.4,852.6 L195.9,852 L197.4,851.3 L198.9,850.7 L200.4,850.1 L201.9,849.5 L203.4,848.9 L204.9,848.3 L206.4,847.8 L207.9,847.2 L209.4,846.7 L210.9,846.1 L212.4,845.6 L213.9,845.1 L215.4,844.6 L216.9,844.1 L218.4,843.6 L219.9,843.1 L221.4,842.7 L222.9,842.2 L224.4,841.8 L225.9,841.3 L227.4,840.9 L228.9,840.4 L230.4,840 L231.9,839.6 L233.4,839.2 L234.9,838.7 L236.4,838.3 L237.9,837.9 L239.4,837.6 L240.9,837.2 L242.4,836.8 L243.9,836.4 L245.4,836.1 L246.9,835.8 L248.4,835.4 L249.9,835.1 L251.4,834.8 L252.9,834.5 L254.4,834.2 L255.9,833.9 L257.4,833.6 L258.9,833.3 L260.4,833 L261.9,832.7 L263.4,832.5 L264.9,832.2 L266.4,832 L267.9,831.7 L269.4,831.5 L270.9,831.2 L272.4,831 L273.9,830.8 L275.4,830.6 L276.9,830.3 L278.4,830.1 L279.9,829.9 L281.4,829.7 L282.9,829.6 L284.4,829.4 L285.9,829.2 L287.4,829 L288.9,828.8 L290.4,828.7 L291.9,828.5 L293.4,828.3 L294.9,828.2 L296.4,828 L297.9,827.9 L299.4,827.7 L300.9,827.6 L302.4,827.5 L303.9,827.3 L305.4,827.2 L306.9,827.1 L308.4,826.9 L309.9,826.8 L311.4,826.7 L312.9,826.6 L314.4,826.5 L315.9,826.4 L317.4,826.3 L318.9,826.2 L320.4,826.1 L321.9,826 L323.4,825.9 L324.9,825.9 L326.4,825.8 L327.9,825.7 L329.4,825.6 L330.9,825.5 L332.4,825.5 L333.9,825.4 L335.4,825.3 L336.9,825.2 L338.4,825.1 L339.9,825.1 L341.4,825 L342.9,824.9 L344.4,824.7 L345.9,824.6 L347.4,824.5 L348.9,824.4 L350.4,824.2 L351.9,824 L353.4,823.8 L354.9,823.6 L356.4,823.3 L357.9,823 L359.4,822.7 L360.9,822.3 L362.4,821.9 L363.9,821.5 L365.4,821 L366.9,820.5 L368.4,820 L369.9,819.5 L371.4,819 L372.9,818.5 L374.4,818 L375.9,817.5 L377.4,817 L378.9,816.5 L380.4,816 L381.9,815.5 L383.4,815 L384.9,814.5 L386.4,814 L387.9,813.5 L389.4,813 L390.9,812.5 L392.4,812 L393.9,811.5 L395.4,811 L396.9,810.5 L398.4,810 L399.9,809.5 L401.4,809 L402.9,808.5 L404.4,808 L405.9,807.5 L407.4,806.9 L408.9,806.4 L410.4,805.9 L411.9,805.3 L413.4,804.8 L414.9,804.3 L416.4,803.7 L417.9,803.2 L419.4,802.7 L420.9,802.2 L422.4,801.7 L423.9,801.2 L425.4,800.7 L426.9,800.2 L428.4,799.8 L429.9,799.3 L431.4,798.9 L432.9,798.5 L434.4,798.1 L435.9,797.7 L437.4,797.3 L438.9,797 L440.4,796.6 L441.9,796.2 L443.4,795.9 L444.9,795.6 L446.4,795.2 L447.9,795 L449.4,794.7 L450.9,794.5 L452.4,794.3 L453.9,794.2 L455.4,794.1 L456.9,794 L458.4,793.9 L459.9,793.9 L461.4,793.9 L462.9,793.9 L464.4,793.9 L465.9,794 L467.4,794 L468.9,794.1 L470.4,794.1 L471.9,794.2 L473.4,794.3 L474.9,794.4 L476.4,794.5 L477.9,794.6 L479.4,794.7 L480.9,794.9 L482.4,795.1 L483.9,795.2 L485.4,795.4 L486.9,795.6 L488.4,795.7 L489.9,795.8 L491.4,795.9 L492.9,795.9 L494.4,795.9 L495.9,795.8 L497.4,795.6 L498.9,795.4 L500.4,795.1 L501.9,794.7 L503.4,794.3 L504.9,793.8 L506.4,793.3 L507.9,792.8 L509.4,792.3 L510.9,791.7 L512.4,791.1 L513.9,790.5 L515.4,789.9 L516.9,789.2 L518.4,788.6 L519.9,787.9 L521.4,787.3 L522.9,786.6 L524.4,786 L525.9,785.4 L527.4,784.8 L528.9,784.3 L530.4,783.8 L531.9,783.3 L533.4,782.8 L534.9,782.4 L536.4,782 L537.9,781.7 L539.4,781.4 L540.9,781.2 L542.4,781 L543.9,780.8 L545.4,780.7 L546.9,780.6 L548.4,780.5 L549.9,780.4 L551.4,780.4 L552.9,780.3 L554.4,780.3 L555.9,780.2 L557.4,780.2 L558.9,780.2 L560.4,780.1 L561.9,780.1 L563.4,780.1 L564.9,780 L566.4,780 L567.9,780 L569.4,779.9 L570.9,779.9 L572.4,779.9 L573.9,779.9 L575.4,779.8 L576.9,779.8 L578.4,779.8 L579.9,779.8 L581.4,779.8 L582.9,779.8 L584.4,779.7 L585.9,779.7 L587.4,779.7 L588.9,779.7 L590.4,779.7 L591.9,779.7 L593.4,779.7 L594.9,779.7 L596.4,779.6 L597.9,779.6 L599.4,779.6 L600.9,779.6 L602.4,779.6 L603.9,779.6 L605.4,779.6 L606.9,779.6 L608.4,779.6 L609.9,779.6 L611.4,779.6 L612,779.6" fill="none" stroke="#42C0C0" stroke-width="3.0" stroke-linejoin="round" stroke-linecap="butt"/>
<path d="M100.9,884.7 L101.9,883.5 L102.9,882.4 L103.9,881.2 L104.9,880.1 L105.9,879 L107.2,877.6 L108.4,876.3 L109.7,875 L110.9,873.7 L112.2,872.5 L113.4,871.3 L114.7,870.2 L115.9,869.1 L117.2,868.1 L118.4,867 L119.7,866.1 L120.9,865.1 L122.2,864.2 L123.4,863.3 L124.7,862.4 L125.9,861.6 L127.2,860.7 L128.7,859.8 L130.2,858.8 L131.7,857.9 L133.2,857 L134.7,856.1 L136.2,855.2 L137.7,854.4 L139.2,853.5 L140.7,852.7 L142.2,851.9 L143.7,851.1 L145.2,850.4 L146.7,849.6 L148.2,848.9 L149.7,848.3 L151.2,847.6 L152.7,847 L154.2,846.5 L155.7,845.9 L157.2,845.4 L158.7,844.9 L160.2,844.4 L161.7,844 L163.2,843.5 L164.7,843.1 L166.2,842.7 L167.7,842.3 L169.2,841.9 L170.7,841.5 L172.2,841.1 L173.7,840.7 L175.2,840.4 L176.7,840 L178.2,839.7 L179.7,839.3 L181.2,839 L182.7,838.7 L184.2,838.3 L185.7,838 L187.2,837.7 L188.7,837.4 L190.2,837 L191.7,836.7 L193.2,836.4 L194.7,836.1 L196.2,835.8 L197.7,835.5 L199.2,835.3 L200.7,835 L202.2,834.7 L203.7,834.4 L205.2,834.2 L206.7,834 L208.2,833.7 L209.7,833.5 L211.2,833.3 L212.7,833.1 L214.2,832.9 L215.7,832.7 L217.2,832.5 L218.7,832.3 L220.2,832.1 L221.7,831.9 L223.2,831.7 L224.7,831.5 L226.2,831.4 L227.7,831.2 L229.2,831 L230.7,830.9 L232.2,830.7 L233.7,830.6 L235.2,830.4 L236.7,830.3 L238.2,830.1 L239.7,830 L241.2,829.9 L242.7,829.8 L244.2,829.6 L245.7,829.5 L247.2,829.4 L248.7,829.3 L250.2,829.2 L251.7,829.2 L253.2,829.1 L254.7,829 L256.1,828.9 L257.6,828.9 L259.1,828.8 L260.6,828.7 L262.1,828.7 L263.6,828.6 L265.1,828.6 L266.6,828.5 L268.1,828.5 L269.6,828.4 L271.1,828.4 L272.6,828.3 L274.1,828.3 L275.6,828.2 L277.1,828.2 L278.6,828.2 L280.1,828.1 L281.6,828.1 L283.1,828 L284.6,828 L286.1,827.9 L287.6,827.8 L289.1,827.8 L290.6,827.7 L292.1,827.6 L293.6,827.6 L295.1,827.5 L296.6,827.4 L298.1,827.4 L299.6,827.3 L301.1,827.2 L302.6,827.1 L304.1,827 L305.6,826.9 L307.1,826.8 L308.6,826.7 L310.1,826.7 L311.6,826.6 L313.1,826.5 L314.6,826.4 L316.1,826.3 L317.6,826.2 L319.1,826 L320.6,825.9 L322.1,825.8 L323.6,825.7 L325.1,825.6 L326.6,825.5 L328.1,825.4 L329.6,825.3 L331.1,825.1 L332.6,825 L334.1,824.9 L335.6,824.8 L337.1,824.7 L338.6,824.5 L340.1,824.4 L341.6,824.3 L343.1,824.1 L344.6,824 L346.1,823.8 L347.6,823.7 L349.1,823.5 L350.6,823.3 L352.1,823.1 L353.6,822.9 L355.1,822.7 L356.6,822.4 L358.1,822.2 L359.6,821.9 L361.1,821.6 L362.6,821.3 L364.1,821 L365.6,820.7 L367.1,820.3 L368.6,820 L370.1,819.6 L371.6,819.2 L373.1,818.8 L374.6,818.5 L376.1,818.1 L377.6,817.7 L379.1,817.3 L380.6,816.9 L382.1,816.5 L383.6,816.1 L385.1,815.7 L386.6,815.3 L388.1,814.8 L389.6,814.4 L391.1,814 L392.6,813.5 L394.1,813.1 L395.6,812.7 L397.1,812.2 L398.6,811.7 L400.1,811.3 L401.6,810.8 L403.1,810.3 L404.6,809.9 L406.1,809.4 L407.6,808.9 L409.1,808.4 L410.6,807.8 L412.1,807.3 L413.6,806.8 L415.1,806.2 L416.6,805.7 L418.1,805.2 L419.6,804.6 L421.1,804.1 L422.6,803.6 L424.1,803.1 L425.6,802.6 L427.1,802.1 L428.6,801.6 L430.1,801.2 L431.6,800.8 L433.1,800.4 L434.6,799.9 L436.1,799.6 L437.6,799.2 L439.1,798.8 L440.6,798.4 L442.1,798.1 L443.6,797.7 L445.1,797.4 L446.6,797.1 L448.1,796.8 L449.6,796.6 L451.1,796.4 L452.6,796.2 L454.1,796 L455.6,795.9 L457.1,795.9 L458.6,795.8 L460.1,795.8 L461.6,795.8 L463.1,795.8 L464.6,795.9 L466.1,795.9 L467.6,795.9 L469.1,796 L470.6,796.1 L472.1,796.1 L473.6,796.2 L475.1,796.3 L476.6,796.4 L478.1,796.6 L479.6,796.7 L481.1,796.9 L482.6,797.1 L484.1,797.3 L485.6,797.5 L487.1,797.6 L488.6,797.8 L490.1,797.9 L491.6,797.9 L493.1,797.9 L494.6,797.8 L496.1,797.6 L497.6,797.4 L499.1,797.1 L500.6,796.8 L502.1,796.4 L503.6,796 L505.1,795.6 L506.6,795.1 L508.1,794.6 L509.6,794.1 L511.1,793.6 L512.6,793 L514.1,792.4 L515.6,791.8 L517.1,791.2 L518.6,790.6 L520.1,789.9 L521.6,789.2 L523.1,788.6 L524.6,787.9 L526.1,787.3 L527.6,786.6 L529.1,786 L530.6,785.4 L532.1,784.7 L533.6,784.2 L535.1,783.6 L536.6,783.1 L538.1,782.7 L539.6,782.3 L541.1,781.9 L542.6,781.7 L544.1,781.5 L545.6,781.3 L547.1,781.2 L548.6,781.1 L550.1,781 L551.6,780.9 L553.1,780.9 L554.6,780.8 L556.1,780.8 L557.6,780.7 L559.1,780.7 L560.6,780.6 L562.1,780.6 L563.6,780.5 L565.1,780.5 L566.6,780.5 L568.1,780.4 L569.6,780.4 L571.1,780.4 L572.6,780.3 L574.1,780.3 L575.6,780.3 L577.1,780.3 L578.6,780.2 L580.1,780.2 L581.6,780.2 L583.1,780.2 L584.6,780.2 L586.1,780.1 L587.6,780.1 L589.1,780.1 L590.6,780.1 L592.1,780.1 L593.6,780.1 L595.1,780.1 L596.6,780 L598.1,780 L599.6,780 L601.1,780 L602.6,780 L604.1,780 L605.6,780 L607.1,780 L608.6,780 L610.1,780 L611.6,780 L612,780" fill="none" stroke="#BEA2CB" stroke-width="3.0" stroke-linejoin="round" stroke-linecap="butt"/>
<line x1="100" y1="762" x2="613.4" y2="762" stroke="#000" stroke-width="3.0" />
<rect x="100" y="565.9" width="513.4" height="392.3" fill="none" stroke="#000" stroke-width="3.0" stroke-linejoin="miter"/>
<line x1="100" y1="737.4" x2="107.5" y2="737.4" stroke="#000" stroke-width="2.6" />
<line x1="100" y1="688.4" x2="107.5" y2="688.4" stroke="#000" stroke-width="2.6" />
<line x1="100" y1="639.5" x2="107.5" y2="639.5" stroke="#000" stroke-width="2.6" />
<line x1="100" y1="590.5" x2="107.5" y2="590.5" stroke="#000" stroke-width="2.6" />
<line x1="100" y1="712.9" x2="104" y2="712.9" stroke="#000" stroke-width="2.6" />
<line x1="100" y1="664" x2="104" y2="664" stroke="#000" stroke-width="2.6" />
<line x1="100" y1="615" x2="104" y2="615" stroke="#000" stroke-width="2.6" />
<text x="92.7" y="744.8" font-size="25.5" text-anchor="end">0.0</text>
<text x="92.7" y="695.8" font-size="25.5" text-anchor="end">0.2</text>
<text x="92.7" y="646.9" font-size="25.5" text-anchor="end">0.4</text>
<text x="92.7" y="597.9" font-size="25.5" text-anchor="end">0.6</text>
<line x1="100" y1="958.2" x2="107.5" y2="958.2" stroke="#000" stroke-width="2.6" />
<line x1="100" y1="922.5" x2="107.5" y2="922.5" stroke="#000" stroke-width="2.6" />
<line x1="100" y1="886.8" x2="107.5" y2="886.8" stroke="#000" stroke-width="2.6" />
<line x1="100" y1="851.1" x2="107.5" y2="851.1" stroke="#000" stroke-width="2.6" />
<line x1="100" y1="815.4" x2="107.5" y2="815.4" stroke="#000" stroke-width="2.6" />
<line x1="100" y1="779.7" x2="107.5" y2="779.7" stroke="#000" stroke-width="2.6" />
<text x="92.7" y="965.6" font-size="25.5" text-anchor="end">-10</text>
<text x="92.7" y="929.9" font-size="25.5" text-anchor="end">-8</text>
<text x="92.7" y="894.2" font-size="25.5" text-anchor="end">-6</text>
<text x="92.7" y="858.5" font-size="25.5" text-anchor="end">-4</text>
<text x="92.7" y="822.8" font-size="25.5" text-anchor="end">-2</text>
<text x="92.7" y="787.1" font-size="25.5" text-anchor="end">0</text>
<line x1="130.2" y1="958.2" x2="130.2" y2="950.7" stroke="#000" stroke-width="2.6" />
<line x1="190.6" y1="958.2" x2="190.6" y2="950.7" stroke="#000" stroke-width="2.6" />
<line x1="251" y1="958.2" x2="251" y2="950.7" stroke="#000" stroke-width="2.6" />
<line x1="311.4" y1="958.2" x2="311.4" y2="950.7" stroke="#000" stroke-width="2.6" />
<line x1="371.8" y1="958.2" x2="371.8" y2="950.7" stroke="#000" stroke-width="2.6" />
<line x1="432.2" y1="958.2" x2="432.2" y2="950.7" stroke="#000" stroke-width="2.6" />
<line x1="492.6" y1="958.2" x2="492.6" y2="950.7" stroke="#000" stroke-width="2.6" />
<line x1="553" y1="958.2" x2="553" y2="950.7" stroke="#000" stroke-width="2.6" />
<line x1="613.4" y1="958.2" x2="613.4" y2="950.7" stroke="#000" stroke-width="2.6" />
<line x1="160.4" y1="958.2" x2="160.4" y2="954.2" stroke="#000" stroke-width="2.6" />
<line x1="220.8" y1="958.2" x2="220.8" y2="954.2" stroke="#000" stroke-width="2.6" />
<line x1="281.2" y1="958.2" x2="281.2" y2="954.2" stroke="#000" stroke-width="2.6" />
<line x1="341.6" y1="958.2" x2="341.6" y2="954.2" stroke="#000" stroke-width="2.6" />
<line x1="402" y1="958.2" x2="402" y2="954.2" stroke="#000" stroke-width="2.6" />
<line x1="462.4" y1="958.2" x2="462.4" y2="954.2" stroke="#000" stroke-width="2.6" />
<line x1="522.8" y1="958.2" x2="522.8" y2="954.2" stroke="#000" stroke-width="2.6" />
<line x1="583.2" y1="958.2" x2="583.2" y2="954.2" stroke="#000" stroke-width="2.6" />
<text x="130.2" y="986" font-size="25.5" text-anchor="middle">-1.0</text>
<text x="190.6" y="986" font-size="25.5" text-anchor="middle">-0.8</text>
<text x="251" y="986" font-size="25.5" text-anchor="middle">-0.6</text>
<text x="311.4" y="986" font-size="25.5" text-anchor="middle">-0.4</text>
<text x="371.8" y="986" font-size="25.5" text-anchor="middle">-0.2</text>
<text x="432.2" y="986" font-size="25.5" text-anchor="middle">0.0</text>
<text x="492.6" y="986" font-size="25.5" text-anchor="middle">0.2</text>
<text x="553" y="986" font-size="25.5" text-anchor="middle">0.4</text>
<text x="613.4" y="986" font-size="25.5" text-anchor="middle">0.6</text>
<line x1="371.7" y1="854.2" x2="426.7" y2="854.2" stroke="#42C0C0" stroke-width="3.0" />
<text x="433.5" y="862.5" font-size="25" text-anchor="start">0.9 wt.% NaCl</text>
<line x1="371.7" y1="884.3" x2="426.7" y2="884.3" stroke="#E47F71" stroke-width="3.0" />
<text x="433.5" y="892.9" font-size="25" text-anchor="start">3.6 wt.% NaCl</text>
<line x1="371.7" y1="915.1" x2="426.7" y2="915.1" stroke="#BEA2CB" stroke-width="3.0" />
<text x="433.5" y="922.9" font-size="25" text-anchor="start">0.1 M Na<tspan font-size="17" dy="6.7">2</tspan><tspan dy="-6.7">​</tspan>SO<tspan font-size="17" dy="6.7">4</tspan><tspan dy="-6.7">​</tspan></text>
<text x="463.9" y="594.4" font-size="24.9" text-anchor="start">Ni(OH)<tspan font-size="16.9" dy="6.7">2</tspan><tspan dy="-6.7">​</tspan>/CNT</text>
<text x="205.3" y="1031.6" font-size="32.1" text-anchor="start">Potential (V vs. RHE)</text>
<text x="40.3" y="739.1" font-size="32.6" text-anchor="start" transform="rotate(-90 40.3 739.1)">I<tspan font-size="22.2" dy="8.8">ring</tspan><tspan dy="-8.8">​</tspan> (mA)</text>
<text x="46.2" y="942" font-size="32.3" text-anchor="start" transform="rotate(-90 46.2 942)">J (mA cm<tspan font-size="22" dy="-12.9">-2</tspan><tspan dy="12.9">​</tspan>)</text>
<text x="-1.9" y="563.7" font-size="57" text-anchor="start">d</text>
<path d="M763.3,585.8 L764.8,585.7 L766.3,585.5 L767.8,585.4 L769.3,585.3 L770.8,585.2 L772.3,585 L773.8,584.9 L775.3,584.8 L776.8,584.7 L778.3,584.5 L779.8,584.4 L781.3,584.3 L782.8,584.2 L784.3,584 L785.8,583.9 L787.3,583.8 L788.8,583.7 L790.3,583.6 L791.8,583.4 L793.3,583.3 L794.8,583.2 L796.3,583.1 L797.8,583 L799.3,582.8 L800.8,582.7 L802.3,582.6 L803.8,582.5 L805.3,582.4 L806.8,582.2 L808.3,582.1 L809.8,582 L811.3,581.9 L812.8,581.8 L814.3,581.6 L815.8,581.5 L817.3,581.4 L818.8,581.3 L820.3,581.2 L821.8,581.1 L823.3,580.9 L824.8,580.8 L826.3,580.7 L827.8,580.6 L829.3,580.5 L830.8,580.4 L832.3,580.3 L833.8,580.1 L835.3,580 L836.8,579.9 L838.3,579.8 L839.8,579.7 L841.3,579.6 L842.8,579.5 L844.3,579.3 L845.8,579.2 L847.3,579.1 L848.8,579 L850.3,578.9 L851.8,578.8 L853.3,578.7 L854.8,578.6 L856.3,578.5 L857.8,578.3 L859.3,578.2 L860.8,578.1 L862.3,578 L863.8,577.9 L865.3,577.8 L866.8,577.7 L868.3,577.6 L869.8,577.5 L871.3,577.4 L872.8,577.2 L874.3,577.1 L875.8,577 L877.3,576.9 L878.8,576.8 L880.3,576.7 L881.8,576.5 L883.3,576.4 L884.8,576.3 L886.3,576.2 L887.8,576.1 L889.3,576 L890.8,575.9 L892.3,575.7 L893.8,575.6 L895.3,575.5 L896.8,575.4 L898.3,575.3 L899.8,575.2 L901.3,575.1 L902.8,575 L904.3,574.9 L905.8,574.9 L907.3,574.8 L908.8,574.7 L910.3,574.6 L911.8,574.5 L913.3,574.5 L914.8,574.4 L916.3,574.3 L917.8,574.3 L919.3,574.2 L920.8,574.2 L922.3,574.1 L923.8,574.1 L925.3,574 L926.8,574 L928.3,573.9 L929.8,573.9 L931.3,573.8 L932.8,573.8 L934.3,573.7 L935.8,573.7 L937.3,573.6 L938.8,573.6 L940.3,573.6 L941.8,573.5 L943.3,573.5 L944.8,573.4 L946.3,573.4 L947.8,573.4 L949.3,573.3 L950.8,573.3 L952.3,573.3 L953.8,573.2 L955.3,573.2 L956.8,573.2 L958.3,573.2 L959.8,573.1 L961.3,573.1 L962.8,573.1 L964.3,573.1 L965.8,573 L967.3,573 L968.8,573 L970.3,573 L971.8,573 L973.3,573 L974.8,573 L976.3,573 L977.8,573 L979.3,572.9 L980.8,572.9 L982.3,572.9 L983.8,572.9 L985.3,572.9 L986.8,572.9 L988.3,572.9 L989.8,572.9 L991.3,572.9 L992.8,572.9 L994.3,572.9 L995.8,572.9 L997.3,572.9 L998.8,572.9 L1000.3,572.9 L1001.8,572.9 L1003.3,572.8 L1004.8,572.8 L1006.3,572.8 L1007.8,572.8 L1009.3,572.8 L1010.8,572.8 L1012.3,572.8 L1013.8,572.8 L1015.3,572.8 L1016.8,572.8 L1018.3,572.8 L1019.8,572.8 L1021.3,572.8 L1022.8,572.8 L1024.3,572.8 L1025.8,572.8 L1027.3,572.8 L1028.8,572.8 L1030.3,572.8 L1031.8,572.7 L1033.3,572.7 L1034.8,572.7 L1036.3,572.7 L1037.8,572.7 L1039.3,572.7 L1040.8,572.7 L1042.3,572.7 L1043.8,572.7 L1045.3,572.7 L1046.8,572.7 L1048.3,572.7 L1049.8,572.7 L1051.3,572.7 L1052.8,572.7 L1054.3,572.7 L1055.8,572.7 L1057.3,572.7 L1058.8,572.6 L1060.3,572.6 L1061.8,572.6 L1063.3,572.6 L1064.8,572.6 L1066.3,572.6 L1067.8,572.6 L1069.3,572.6 L1070.8,572.6 L1072.3,572.6 L1073.8,572.6 L1075.3,572.6 L1076.8,572.6 L1078.3,572.6 L1079.8,572.6 L1081.3,572.6 L1082.8,572.6 L1084.3,572.6 L1085.8,572.6 L1087.3,572.6 L1088.8,572.6 L1090.3,572.6 L1091.8,572.6 L1093.3,572.6 L1094.8,572.6 L1096.3,572.6 L1097.8,572.6 L1099.3,572.6 L1100.8,572.6 L1102.3,572.6 L1103.8,572.6 L1105.3,572.6 L1106.8,572.6 L1108.3,572.6 L1109.8,572.6 L1111.3,572.6 L1112.8,572.6 L1114.3,572.6 L1115.8,572.6 L1117.3,572.6 L1118.8,572.6 L1120.3,572.6 L1121.8,572.6 L1123.3,572.6 L1124.8,572.6 L1126.3,572.6 L1127.8,572.6 L1129.3,572.6 L1130.8,572.6 L1132.3,572.6 L1133.8,572.6 L1135.3,572.6 L1136.8,572.6 L1138.3,572.6 L1139.8,572.6 L1141.3,572.6 L1142.8,572.6 L1144.3,572.6 L1145.8,572.6 L1147.3,572.6 L1148.8,572.6 L1150.3,572.6 L1151.8,572.5 L1153.3,572.5 L1154.8,572.5 L1156.3,572.4 L1157.8,572.4 L1159.3,572.3 L1160.8,572.3 L1162.3,572.2 L1163.8,572.1 L1165.3,572 L1166.8,572 L1168.3,571.9 L1169.8,571.8 L1171.3,571.7 L1172.8,571.6 L1174.3,571.5 L1175.8,571.3 L1177.3,571.2 L1178.8,571.1 L1180.3,571 L1181.8,570.8 L1183.3,570.7 L1184.8,570.5 L1186.3,570.4 L1187.8,570.2 L1189.3,570.1 L1190.8,569.9 L1192.3,569.8 L1193.8,569.6 L1195.3,569.5 L1196.8,569.4 L1198.3,569.3 L1199.8,569.2 L1201.3,569.1 L1202.8,569.1 L1204.3,569.1 L1205.8,569 L1207.3,569 L1208.8,569 L1210.3,569 L1211.8,569 L1213.3,569 L1214.8,569 L1216.3,569 L1217.8,569 L1219.3,569 L1220.8,569 L1222.3,569 L1223.8,569 L1225.3,569 L1226.8,569 L1228.3,569.1 L1229.8,569.1 L1231.3,569.1 L1232.8,569.2 L1234.3,569.3 L1235.8,569.4 L1237.3,569.6 L1238.8,569.7 L1240.3,569.9 L1241.8,570.1 L1243.3,570.3 L1244.8,570.5 L1246.3,570.7 L1247.8,571 L1249.3,571.2 L1250.8,571.5 L1252.3,571.7 L1253.8,572 L1255.3,572.2 L1256.8,572.5 L1258.3,572.8 L1259.8,573.1 L1261.3,573.4 L1262.8,573.7 L1264.3,574 L1265.8,574.4 L1267.3,574.7 L1268.8,575 L1270.3,575.4 L1271.8,575.8 L1273.3,576.1 L1274.8,576.5 L1275.1,576.6" fill="none" stroke="#42C0C0" stroke-width="3.0" stroke-linejoin="round" stroke-linecap="butt"/>
<path d="M763.3,588.9 L764.8,589 L766.3,589.1 L767.8,589.2 L769.3,589.2 L770.8,589.3 L772.3,589.4 L773.8,589.5 L775.3,589.5 L776.8,589.6 L778.3,589.6 L779.8,589.6 L781.3,589.7 L782.8,589.7 L784.3,589.7 L785.8,589.7 L787.3,589.8 L788.8,589.8 L790.3,589.8 L791.8,589.8 L793.3,589.8 L794.8,589.8 L796.3,589.8 L797.8,589.7 L799.3,589.7 L800.8,589.7 L802.3,589.6 L803.8,589.6 L805.3,589.5 L806.8,589.4 L808.3,589.3 L809.8,589.2 L811.3,589.1 L812.8,589 L814.3,588.9 L815.8,588.8 L817.3,588.6 L818.8,588.4 L820.3,588.3 L821.8,588.1 L823.3,587.9 L824.8,587.7 L826.3,587.5 L827.8,587.3 L829.3,587.1 L830.8,586.9 L832.3,586.7 L833.8,586.5 L835.3,586.3 L836.8,586.1 L838.3,585.9 L839.8,585.7 L841.3,585.5 L842.8,585.3 L844.3,585.2 L845.8,585 L847.3,584.9 L848.8,584.7 L850.3,584.6 L851.8,584.5 L853.3,584.4 L854.8,584.3 L856.3,584.2 L857.8,584.1 L859.3,584 L860.8,583.9 L862.3,583.8 L863.8,583.8 L865.3,583.7 L866.8,583.6 L868.3,583.5 L869.8,583.5 L871.3,583.4 L872.8,583.3 L874.3,583.3 L875.8,583.2 L877.3,583.1 L878.8,583.1 L880.3,583 L881.8,582.9 L883.3,582.9 L884.8,582.8 L886.3,582.7 L887.8,582.6 L889.3,582.5 L890.8,582.5 L892.3,582.4 L893.8,582.3 L895.3,582.2 L896.8,582.1 L898.3,582 L899.8,581.9 L901.3,581.8 L902.8,581.7 L904.3,581.6 L905.8,581.5 L907.3,581.3 L908.8,581.2 L910.3,581.1 L911.8,581 L913.3,580.9 L914.8,580.8 L916.3,580.7 L917.8,580.6 L919.3,580.5 L920.8,580.4 L922.3,580.3 L923.8,580.2 L925.3,580.2 L926.8,580.1 L928.3,580 L929.8,579.9 L931.3,579.9 L932.8,579.8 L934.3,579.8 L935.8,579.7 L937.3,579.7 L938.8,579.6 L940.3,579.6 L941.8,579.5 L943.3,579.5 L944.8,579.4 L946.3,579.4 L947.8,579.3 L949.3,579.3 L950.8,579.3 L952.3,579.2 L953.8,579.2 L955.3,579.1 L956.8,579.1 L958.3,579.1 L959.8,579 L961.3,579 L962.8,579 L964.3,578.9 L965.8,578.9 L967.3,578.9 L968.8,578.8 L970.3,578.8 L971.8,578.8 L973.3,578.7 L974.8,578.7 L976.3,578.7 L977.8,578.6 L979.3,578.6 L980.8,578.6 L982.3,578.5 L983.8,578.5 L985.3,578.5 L986.8,578.4 L988.3,578.4 L989.8,578.4 L991.3,578.4 L992.8,578.3 L994.3,578.3 L995.8,578.3 L997.3,578.2 L998.8,578.2 L1000.3,578.2 L1001.8,578.2 L1003.3,578.1 L1004.8,578.1 L1006.3,578.1 L1007.8,578.1 L1009.3,578 L1010.8,578 L1012.3,578 L1013.8,578 L1015.3,577.9 L1016.8,577.9 L1018.3,577.9 L1019.8,577.9 L1021.3,577.9 L1022.8,577.8 L1024.3,577.8 L1025.8,577.8 L1027.3,577.8 L1028.8,577.7 L1030.3,577.7 L1031.8,577.7 L1033.3,577.7 L1034.8,577.7 L1036.3,577.6 L1037.8,577.6 L1039.3,577.6 L1040.8,577.6 L1042.3,577.6 L1043.8,577.5 L1045.3,577.5 L1046.8,577.5 L1048.3,577.5 L1049.8,577.5 L1051.3,577.4 L1052.8,577.4 L1054.3,577.4 L1055.8,577.4 L1057.3,577.4 L1058.8,577.4 L1060.3,577.3 L1061.8,577.3 L1063.3,577.3 L1064.8,577.3 L1066.3,577.3 L1067.8,577.3 L1069.3,577.3 L1070.8,577.3 L1072.3,577.2 L1073.8,577.2 L1075.3,577.2 L1076.8,577.2 L1078.3,577.2 L1079.8,577.2 L1081.3,577.2 L1082.8,577.2 L1084.3,577.2 L1085.8,577.2 L1087.3,577.2 L1088.8,577.2 L1090.3,577.2 L1091.8,577.3 L1093.3,577.3 L1094.8,577.3 L1096.3,577.3 L1097.8,577.4 L1099.3,577.4 L1100.8,577.4 L1102.3,577.4 L1103.8,577.5 L1105.3,577.5 L1106.8,577.5 L1108.3,577.6 L1109.8,577.6 L1111.3,577.6 L1112.8,577.7 L1114.3,577.7 L1115.8,577.7 L1117.3,577.7 L1118.8,577.8 L1120.3,577.8 L1121.8,577.8 L1123.3,577.8 L1124.8,577.8 L1126.3,577.8 L1127.8,577.8 L1129.3,577.7 L1130.8,577.6 L1132.3,577.5 L1133.8,577.4 L1135.3,577.3 L1136.8,577.2 L1138.3,577.1 L1139.8,577 L1141.3,577 L1142.8,577 L1144.3,577.1 L1145.8,577.3 L1147.3,577.5 L1148.8,577.7 L1150.3,577.9 L1151.8,578.2 L1153.3,578.5 L1154.8,578.8 L1156.3,579.1 L1157.8,579.4 L1159.3,579.7 L1160.8,580 L1162.3,580.4 L1163.8,580.7 L1165.3,581.1 L1166.8,581.5 L1168.3,581.8 L1169.8,582.2 L1171.3,582.6 L1172.8,582.9 L1174.3,583.3 L1175.8,583.6 L1177.3,583.9 L1178.8,584.3 L1180.3,584.6 L1181.8,584.9 L1183.3,585.2 L1184.8,585.5 L1186.3,585.8 L1187.8,586.1 L1189.3,586.3 L1190.8,586.5 L1192.3,586.7 L1193.8,586.8 L1195.3,586.9 L1196.8,586.9 L1198.3,586.9 L1199.8,586.9 L1201.3,586.8 L1202.8,586.7 L1204.3,586.6 L1205.8,586.6 L1207.3,586.5 L1208.8,586.4 L1210.3,586.3 L1211.8,586.3 L1213.3,586.3 L1214.8,586.3 L1216.3,586.3 L1217.8,586.4 L1219.3,586.4 L1220.8,586.5 L1222.3,586.5 L1223.8,586.6 L1225.3,586.6 L1226.8,586.7 L1228.3,586.8 L1229.8,586.9 L1231.3,586.9 L1232.8,587 L1234.3,587.1 L1235.8,587.2 L1237.3,587.3 L1238.8,587.3 L1240.3,587.4 L1241.8,587.5 L1243.3,587.6 L1244.8,587.7 L1246.3,587.8 L1247.8,587.8 L1249.3,587.9 L1250.8,588 L1252.3,588.1 L1253.8,588.2 L1255.3,588.3 L1256.8,588.4 L1258.3,588.5 L1259.8,588.7 L1261.3,588.8 L1262.8,589 L1264.3,589.2 L1265.8,589.4 L1267.3,589.6 L1268.8,589.9 L1270.3,590.1 L1271.8,590.4 L1273.3,590.7 L1274.8,591 L1275.1,591.1" fill="none" stroke="#E47F71" stroke-width="3.0" stroke-linejoin="round" stroke-linecap="butt"/>
<path d="M763.3,601.4 L764.8,601.2 L766.3,601 L767.8,600.7 L769.3,600.5 L770.8,600.3 L772.3,600.1 L773.8,599.9 L775.3,599.7 L776.8,599.5 L778.3,599.3 L779.8,599.1 L781.3,598.8 L782.8,598.6 L784.3,598.4 L785.8,598.2 L787.3,598 L788.8,597.8 L790.3,597.6 L791.8,597.5 L793.3,597.3 L794.8,597.1 L796.3,596.9 L797.8,596.7 L799.3,596.5 L800.8,596.3 L802.3,596.1 L803.8,596 L805.3,595.8 L806.8,595.6 L808.3,595.4 L809.8,595.2 L811.3,595.1 L812.8,594.9 L814.3,594.7 L815.8,594.6 L817.3,594.4 L818.8,594.2 L820.3,594 L821.8,593.9 L823.3,593.7 L824.8,593.5 L826.3,593.4 L827.8,593.2 L829.3,593.1 L830.8,592.9 L832.3,592.7 L833.8,592.6 L835.3,592.4 L836.8,592.3 L838.3,592.1 L839.8,591.9 L841.3,591.8 L842.8,591.6 L844.3,591.5 L845.8,591.4 L847.3,591.2 L848.8,591.1 L850.3,590.9 L851.8,590.8 L853.3,590.7 L854.8,590.5 L856.3,590.4 L857.8,590.3 L859.3,590.2 L860.8,590.1 L862.3,589.9 L863.8,589.8 L865.3,589.7 L866.8,589.6 L868.3,589.5 L869.8,589.4 L871.3,589.3 L872.8,589.2 L874.3,589.1 L875.8,589 L877.3,588.9 L878.8,588.8 L880.3,588.7 L881.8,588.6 L883.3,588.5 L884.8,588.4 L886.3,588.3 L887.8,588.2 L889.3,588.1 L890.8,588.1 L892.3,588 L893.8,587.9 L895.3,587.8 L896.8,587.7 L898.3,587.6 L899.8,587.6 L901.3,587.5 L902.8,587.4 L904.3,587.3 L905.8,587.3 L907.3,587.2 L908.8,587.1 L910.3,587.1 L911.8,587 L913.3,587 L914.8,586.9 L916.3,586.8 L917.8,586.8 L919.3,586.7 L920.8,586.7 L922.3,586.6 L923.8,586.6 L925.3,586.5 L926.8,586.5 L928.3,586.4 L929.8,586.4 L931.3,586.3 L932.8,586.3 L934.3,586.3 L935.8,586.2 L937.3,586.2 L938.8,586.1 L940.3,586.1 L941.8,586.1 L943.3,586 L944.8,586 L946.3,586 L947.8,585.9 L949.3,585.9 L950.8,585.9 L952.3,585.8 L953.8,585.8 L955.3,585.7 L956.8,585.7 L958.3,585.7 L959.8,585.6 L961.3,585.6 L962.8,585.6 L964.3,585.5 L965.8,585.5 L967.3,585.5 L968.8,585.4 L970.3,585.4 L971.8,585.4 L973.3,585.3 L974.8,585.3 L976.3,585.2 L977.8,585.2 L979.3,585.2 L980.8,585.1 L982.3,585.1 L983.8,585.1 L985.3,585 L986.8,585 L988.3,584.9 L989.8,584.9 L991.3,584.9 L992.8,584.8 L994.3,584.8 L995.8,584.8 L997.3,584.7 L998.8,584.7 L1000.3,584.6 L1001.8,584.6 L1003.3,584.6 L1004.8,584.5 L1006.3,584.5 L1007.8,584.5 L1009.3,584.5 L1010.8,584.4 L1012.3,584.4 L1013.8,584.4 L1015.3,584.3 L1016.8,584.3 L1018.3,584.3 L1019.8,584.3 L1021.3,584.3 L1022.8,584.2 L1024.3,584.2 L1025.8,584.2 L1027.3,584.2 L1028.8,584.2 L1030.3,584.1 L1031.8,584.1 L1033.3,584.1 L1034.8,584.1 L1036.3,584.1 L1037.8,584 L1039.3,584 L1040.8,584 L1042.3,584 L1043.8,584 L1045.3,584 L1046.8,583.9 L1048.3,583.9 L1049.8,583.9 L1051.3,583.9 L1052.8,583.9 L1054.3,583.9 L1055.8,583.8 L1057.3,583.8 L1058.8,583.8 L1060.3,583.8 L1061.8,583.8 L1063.3,583.8 L1064.8,583.8 L1066.3,583.7 L1067.8,583.7 L1069.3,583.7 L1070.8,583.7 L1072.3,583.7 L1073.8,583.7 L1075.3,583.7 L1076.8,583.7 L1078.3,583.6 L1079.8,583.6 L1081.3,583.6 L1082.8,583.6 L1084.3,583.6 L1085.8,583.6 L1087.3,583.6 L1088.8,583.6 L1090.3,583.6 L1091.8,583.6 L1093.3,583.5 L1094.8,583.5 L1096.3,583.5 L1097.8,583.5 L1099.3,583.5 L1100.8,583.5 L1102.3,583.5 L1103.8,583.5 L1105.3,583.5 L1106.8,583.5 L1108.3,583.5 L1109.8,583.5 L1111.3,583.5 L1112.8,583.5 L1114.3,583.5 L1115.8,583.4 L1117.3,583.4 L1118.8,583.4 L1120.3,583.4 L1121.8,583.4 L1123.3,583.4 L1124.8,583.4 L1126.3,583.4 L1127.8,583.4 L1129.3,583.4 L1130.8,583.4 L1132.3,583.4 L1133.8,583.4 L1135.3,583.3 L1136.8,583.3 L1138.3,583.3 L1139.8,583.3 L1141.3,583.3 L1142.8,583.3 L1144.3,583.3 L1145.8,583.2 L1147.3,583.2 L1148.8,583.2 L1150.3,583.2 L1151.8,583.1 L1153.3,583.1 L1154.8,583 L1156.3,582.9 L1157.8,582.8 L1159.3,582.7 L1160.8,582.6 L1162.3,582.5 L1163.8,582.4 L1165.3,582.3 L1166.8,582.1 L1168.3,582 L1169.8,581.9 L1171.3,581.7 L1172.8,581.6 L1174.3,581.4 L1175.8,581.3 L1177.3,581.2 L1178.8,581 L1180.3,580.9 L1181.8,580.7 L1183.3,580.6 L1184.8,580.4 L1186.3,580.3 L1187.8,580.1 L1189.3,580 L1190.8,579.8 L1192.3,579.7 L1193.8,579.5 L1195.3,579.4 L1196.8,579.3 L1198.3,579.2 L1199.8,579.1 L1201.3,579 L1202.8,578.9 L1204.3,578.8 L1205.8,578.8 L1207.3,578.7 L1208.8,578.7 L1210.3,578.6 L1211.8,578.6 L1213.3,578.5 L1214.8,578.5 L1216.3,578.5 L1217.8,578.4 L1219.3,578.4 L1220.8,578.4 L1222.3,578.4 L1223.8,578.4 L1225.3,578.4 L1226.8,578.3 L1228.3,578.4 L1229.8,578.4 L1231.3,578.4 L1232.8,578.4 L1234.3,578.5 L1235.8,578.6 L1237.3,578.7 L1238.8,578.8 L1240.3,578.9 L1241.8,579 L1243.3,579.2 L1244.8,579.3 L1246.3,579.5 L1247.8,579.7 L1249.3,579.9 L1250.8,580.1 L1252.3,580.3 L1253.8,580.5 L1255.3,580.8 L1256.8,581 L1258.3,581.3 L1259.8,581.6 L1261.3,581.9 L1262.8,582.3 L1264.3,582.6 L1265.8,583 L1267.3,583.4 L1268.8,583.9 L1270.3,584.3 L1271.8,584.7 L1273.3,585.2 L1274.8,585.6 L1275.1,585.8" fill="none" stroke="#BEA2CB" stroke-width="3.0" stroke-linejoin="round" stroke-linecap="butt"/>
<path d="M763.3,907.6 L764.8,907.9 L766.3,908.2 L767.8,908.5 L769.3,908.8 L770.8,909.1 L772.3,909.4 L773.8,909.7 L775.3,910 L776.8,910.3 L778.3,910.6 L779.8,910.9 L781.3,911.2 L782.8,911.5 L784.3,911.7 L785.8,912 L787.3,912.3 L788.8,912.6 L790.3,912.8 L791.8,913.1 L793.3,913.4 L794.8,913.6 L796.3,913.9 L797.8,914.1 L799.3,914.4 L800.8,914.7 L802.3,914.9 L803.8,915.2 L805.3,915.5 L806.8,915.7 L808.3,916 L809.8,916.3 L811.3,916.6 L812.8,916.9 L814.3,917.1 L815.8,917.4 L817.3,917.7 L818.8,918 L820.3,918.3 L821.8,918.6 L823.3,918.9 L824.8,919.2 L826.3,919.5 L827.8,919.8 L829.3,920 L830.8,920.3 L832.3,920.5 L833.8,920.8 L835.3,921 L836.8,921.2 L838.3,921.5 L839.8,921.7 L841.3,921.9 L842.8,922.1 L844.3,922.3 L845.8,922.5 L847.3,922.7 L848.8,922.8 L850.3,923 L851.8,923.2 L853.3,923.4 L854.8,923.5 L856.3,923.7 L857.8,923.8 L859.3,924 L860.8,924.2 L862.3,924.3 L863.8,924.5 L865.3,924.6 L866.8,924.8 L868.3,924.9 L869.8,925 L871.3,925.2 L872.8,925.3 L874.3,925.4 L875.8,925.6 L877.3,925.7 L878.8,925.8 L880.3,925.9 L881.8,926.1 L883.3,926.2 L884.8,926.3 L886.3,926.4 L887.8,926.5 L889.3,926.6 L890.8,926.7 L892.3,926.9 L893.8,927 L895.3,927.1 L896.8,927.2 L898.3,927.3 L899.8,927.4 L901.3,927.5 L902.8,927.6 L904.3,927.7 L905.8,927.8 L907.3,927.8 L908.8,927.9 L910.3,928 L911.8,928.1 L913.3,928.2 L914.8,928.3 L916.3,928.4 L917.8,928.4 L919.3,928.5 L920.8,928.6 L922.3,928.7 L923.8,928.7 L925.3,928.8 L926.8,928.9 L928.3,928.9 L929.8,929 L931.3,929.1 L932.8,929.1 L934.3,929.2 L935.8,929.3 L937.3,929.3 L938.8,929.4 L940.3,929.5 L941.8,929.5 L943.3,929.6 L944.8,929.6 L946.3,929.7 L947.8,929.7 L949.3,929.8 L950.8,929.9 L952.3,929.9 L953.8,930 L955.3,930 L956.8,930.1 L958.3,930.1 L959.8,930.2 L961.3,930.3 L962.8,930.3 L964.3,930.4 L965.8,930.4 L967.3,930.5 L968.8,930.6 L970.3,930.6 L971.8,930.7 L973.3,930.7 L974.8,930.8 L976.3,930.8 L977.8,930.9 L979.3,931 L980.8,931 L982.3,931.1 L983.8,931.1 L985.3,931.2 L986.8,931.3 L988.3,931.3 L989.8,931.4 L991.3,931.4 L992.8,931.5 L994.3,931.6 L995.8,931.6 L997.3,931.7 L998.8,931.7 L1000.3,931.8 L1001.8,931.8 L1003.3,931.9 L1004.8,932 L1006.3,932 L1007.8,932.1 L1009.3,932.1 L1010.8,932.2 L1012.3,932.2 L1013.8,932.3 L1015.3,932.3 L1016.8,932.4 L1018.3,932.4 L1019.8,932.5 L1021.3,932.5 L1022.8,932.5 L1024.3,932.6 L1025.8,932.6 L1027.3,932.7 L1028.8,932.7 L1030.3,932.8 L1031.8,932.8 L1033.3,932.9 L1034.8,932.9 L1036.3,932.9 L1037.8,933 L1039.3,933 L1040.8,933.1 L1042.3,933.1 L1043.8,933.1 L1045.3,933.2 L1046.8,933.2 L1048.3,933.3 L1049.8,933.3 L1051.3,933.3 L1052.8,933.4 L1054.3,933.4 L1055.8,933.4 L1057.3,933.5 L1058.8,933.5 L1060.3,933.5 L1061.8,933.6 L1063.3,933.6 L1064.8,933.6 L1066.3,933.6 L1067.8,933.7 L1069.3,933.7 L1070.8,933.7 L1072.3,933.7 L1073.8,933.7 L1075.3,933.7 L1076.8,933.8 L1078.3,933.8 L1079.8,933.8 L1081.3,933.8 L1082.8,933.8 L1084.3,933.8 L1085.8,933.9 L1087.3,933.9 L1088.8,933.9 L1090.3,933.9 L1091.8,933.9 L1093.3,933.9 L1094.8,934 L1096.3,934 L1097.8,934 L1099.3,934 L1100.8,934 L1102.3,934 L1103.8,934 L1105.3,934 L1106.8,934 L1108.3,934 L1109.8,934.1 L1111.3,934.1 L1112.8,934.1 L1114.3,934.1 L1115.8,934.1 L1117.3,934.1 L1118.8,934.1 L1120.3,934.1 L1121.8,934.1 L1123.3,934.1 L1124.8,934.1 L1126.3,934.1 L1127.8,934.1 L1129.3,934.1 L1130.8,934.1 L1132.3,934.1 L1133.8,934.1 L1135.3,934.1 L1136.8,934.1 L1138.3,934.1 L1139.8,934.1 L1141.3,934.1 L1142.8,934.1 L1144.3,934.1 L1145.8,934.1 L1147.3,934.1 L1148.8,934.1 L1150.3,934.1 L1151.8,934.1 L1153.3,934.1 L1154.8,934.1 L1156.3,934.2 L1157.8,934.2 L1159.3,934.2 L1160.8,934.3 L1162.3,934.4 L1163.8,934.5 L1165.3,934.6 L1166.8,934.7 L1168.3,934.9 L1169.8,935 L1171.3,935.2 L1172.8,935.3 L1174.3,935.5 L1175.8,935.7 L1177.3,935.9 L1178.8,936.1 L1180.3,936.3 L1181.8,936.5 L1183.3,936.7 L1184.8,936.9 L1186.3,937.1 L1187.8,937.3 L1189.3,937.5 L1190.8,937.8 L1192.3,938 L1193.8,938.2 L1195.3,938.5 L1196.8,938.7 L1198.3,938.9 L1199.8,939.2 L1201.3,939.4 L1202.8,939.5 L1204.3,939.7 L1205.8,939.9 L1207.3,940 L1208.8,940.1 L1210.3,940.2 L1211.8,940.3 L1213.3,940.4 L1214.8,940.4 L1216.3,940.5 L1217.8,940.5 L1219.3,940.5 L1220.8,940.6 L1222.3,940.6 L1223.8,940.6 L1225.3,940.6 L1226.8,940.6 L1228.3,940.6 L1229.8,940.6 L1231.3,940.5 L1232.8,940.5 L1234.3,940.4 L1235.8,940.3 L1237.3,940.1 L1238.8,940 L1240.3,939.8 L1241.8,939.6 L1243.3,939.4 L1244.8,939.1 L1246.3,938.9 L1247.8,938.6 L1249.3,938.3 L1250.8,938 L1252.3,937.7 L1253.8,937.4 L1255.3,937 L1256.8,936.6 L1258.3,936.2 L1259.8,935.8 L1261.3,935.3 L1262.8,934.8 L1264.3,934.3 L1265.8,933.8 L1267.3,933.2 L1268.8,932.7 L1270.3,932.1 L1271.8,931.5 L1273.3,930.9 L1274.8,930.3 L1275.1,930.1" fill="none" stroke="#BEA2CB" stroke-width="3.0" stroke-linejoin="round" stroke-linecap="butt"/>
<path d="M763.3,925.1 L764.8,925.1 L766.3,925.1 L767.8,925.2 L769.3,925.2 L770.8,925.2 L772.3,925.2 L773.8,925.2 L775.3,925.3 L776.8,925.3 L778.3,925.3 L779.8,925.3 L781.3,925.3 L782.8,925.3 L784.3,925.3 L785.8,925.3 L787.3,925.3 L788.8,925.2 L790.3,925.2 L791.8,925.1 L793.3,925 L794.8,924.9 L796.3,924.8 L797.8,924.7 L799.3,924.6 L800.8,924.5 L802.3,924.4 L803.8,924.4 L805.3,924.4 L806.8,924.4 L808.3,924.4 L809.8,924.5 L811.3,924.7 L812.8,924.8 L814.3,925 L815.8,925.2 L817.3,925.4 L818.8,925.6 L820.3,925.8 L821.8,926 L823.3,926.3 L824.8,926.5 L826.3,926.8 L827.8,927.1 L829.3,927.3 L830.8,927.6 L832.3,927.9 L833.8,928.2 L835.3,928.5 L836.8,928.8 L838.3,929.1 L839.8,929.3 L841.3,929.6 L842.8,929.8 L844.3,930 L845.8,930.2 L847.3,930.4 L848.8,930.6 L850.3,930.7 L851.8,930.9 L853.3,931.1 L854.8,931.2 L856.3,931.3 L857.8,931.5 L859.3,931.6 L860.8,931.7 L862.3,931.9 L863.8,932 L865.3,932.1 L866.8,932.2 L868.3,932.4 L869.8,932.5 L871.3,932.6 L872.8,932.7 L874.3,932.8 L875.8,933 L877.3,933.1 L878.8,933.2 L880.3,933.3 L881.8,933.4 L883.3,933.5 L884.8,933.7 L886.3,933.8 L887.8,933.9 L889.3,934 L890.8,934.1 L892.3,934.3 L893.8,934.4 L895.3,934.5 L896.8,934.6 L898.3,934.7 L899.8,934.9 L901.3,935 L902.8,935.1 L904.3,935.2 L905.8,935.4 L907.3,935.5 L908.8,935.6 L910.3,935.8 L911.8,935.9 L913.3,936 L914.8,936.1 L916.3,936.2 L917.8,936.4 L919.3,936.5 L920.8,936.6 L922.3,936.7 L923.8,936.8 L925.3,936.9 L926.8,937 L928.3,937.2 L929.8,937.3 L931.3,937.4 L932.8,937.5 L934.3,937.6 L935.8,937.7 L937.3,937.8 L938.8,937.9 L940.3,938 L941.8,938.1 L943.3,938.2 L944.8,938.2 L946.3,938.3 L947.8,938.4 L949.3,938.5 L950.8,938.6 L952.3,938.7 L953.8,938.8 L955.3,938.9 L956.8,939 L958.3,939 L959.8,939.1 L961.3,939.2 L962.8,939.3 L964.3,939.3 L965.8,939.4 L967.3,939.5 L968.8,939.5 L970.3,939.6 L971.8,939.7 L973.3,939.7 L974.8,939.8 L976.3,939.8 L977.8,939.9 L979.3,939.9 L980.8,940 L982.3,940 L983.8,940.1 L985.3,940.2 L986.8,940.2 L988.3,940.3 L989.8,940.3 L991.3,940.3 L992.8,940.4 L994.3,940.4 L995.8,940.5 L997.3,940.5 L998.8,940.6 L1000.3,940.6 L1001.8,940.6 L1003.3,940.7 L1004.8,940.7 L1006.3,940.8 L1007.8,940.8 L1009.3,940.8 L1010.8,940.9 L1012.3,940.9 L1013.8,940.9 L1015.3,940.9 L1016.8,941 L1018.3,941 L1019.8,941 L1021.3,941.1 L1022.8,941.1 L1024.3,941.1 L1025.8,941.1 L1027.3,941.2 L1028.8,941.2 L1030.3,941.2 L1031.8,941.2 L1033.3,941.2 L1034.8,941.3 L1036.3,941.3 L1037.8,941.3 L1039.3,941.3 L1040.8,941.4 L1042.3,941.4 L1043.8,941.4 L1045.3,941.4 L1046.8,941.4 L1048.3,941.5 L1049.8,941.5 L1051.3,941.5 L1052.8,941.5 L1054.3,941.5 L1055.8,941.5 L1057.3,941.5 L1058.8,941.5 L1060.3,941.6 L1061.8,941.6 L1063.3,941.6 L1064.8,941.6 L1066.3,941.6 L1067.8,941.6 L1069.3,941.6 L1070.8,941.6 L1072.3,941.6 L1073.8,941.6 L1075.3,941.6 L1076.8,941.6 L1078.3,941.6 L1079.8,941.6 L1081.3,941.6 L1082.8,941.6 L1084.3,941.5 L1085.8,941.5 L1087.3,941.5 L1088.8,941.5 L1090.3,941.5 L1091.8,941.5 L1093.3,941.5 L1094.8,941.4 L1096.3,941.4 L1097.8,941.4 L1099.3,941.4 L1100.8,941.4 L1102.3,941.4 L1103.8,941.4 L1105.3,941.3 L1106.8,941.3 L1108.3,941.3 L1109.8,941.3 L1111.3,941.3 L1112.8,941.3 L1114.3,941.3 L1115.8,941.3 L1117.3,941.2 L1118.8,941.2 L1120.3,941.2 L1121.8,941.2 L1123.3,941.2 L1124.8,941.3 L1126.3,941.3 L1127.8,941.4 L1129.3,941.4 L1130.8,941.5 L1132.3,941.6 L1133.8,941.7 L1135.3,941.8 L1136.8,941.9 L1138.3,941.9 L1139.8,941.9 L1141.3,941.8 L1142.8,941.7 L1144.3,941.5 L1145.8,941.3 L1147.3,941 L1148.8,940.6 L1150.3,940.2 L1151.8,939.8 L1153.3,939.4 L1154.8,939 L1156.3,938.6 L1157.8,938.1 L1159.3,937.7 L1160.8,937.3 L1162.3,936.8 L1163.8,936.4 L1165.3,935.9 L1166.8,935.5 L1168.3,935 L1169.8,934.6 L1171.3,934.1 L1172.8,933.7 L1174.3,933.2 L1175.8,932.7 L1177.3,932.3 L1178.8,931.8 L1180.3,931.3 L1181.8,930.9 L1183.3,930.4 L1184.8,930 L1186.3,929.6 L1187.8,929.2 L1189.3,928.9 L1190.8,928.6 L1192.3,928.4 L1193.8,928.1 L1195.3,928 L1196.8,927.9 L1198.3,927.8 L1199.8,927.8 L1201.3,927.8 L1202.8,927.8 L1204.3,927.9 L1205.8,928.1 L1207.3,928.3 L1208.8,928.4 L1210.3,928.5 L1211.8,928.6 L1213.3,928.7 L1214.8,928.7 L1216.3,928.7 L1217.8,928.7 L1219.3,928.6 L1220.8,928.6 L1222.3,928.5 L1223.8,928.4 L1225.3,928.3 L1226.8,928.2 L1228.3,928.1 L1229.8,928 L1231.3,928 L1232.8,927.9 L1234.3,927.8 L1235.8,927.7 L1237.3,927.6 L1238.8,927.6 L1240.3,927.5 L1241.8,927.4 L1243.3,927.3 L1244.8,927.2 L1246.3,927.1 L1247.8,927.1 L1249.3,926.9 L1250.8,926.8 L1252.3,926.7 L1253.8,926.6 L1255.3,926.4 L1256.8,926.2 L1258.3,926.1 L1259.8,925.8 L1261.3,925.6 L1262.8,925.3 L1264.3,925 L1265.8,924.7 L1267.3,924.4 L1268.8,924 L1270.3,923.7 L1271.8,923.3 L1273.3,922.9 L1274.8,922.5 L1275.1,922.4" fill="none" stroke="#E47F71" stroke-width="3.0" stroke-linejoin="round" stroke-linecap="butt"/>
<path d="M763.3,929 L764.8,929.2 L766.3,929.4 L767.8,929.5 L769.3,929.7 L770.8,929.9 L772.3,930.1 L773.8,930.3 L775.3,930.4 L776.8,930.6 L778.3,930.8 L779.8,931 L781.3,931.1 L782.8,931.3 L784.3,931.5 L785.8,931.7 L787.3,931.8 L788.8,932 L790.3,932.2 L791.8,932.3 L793.3,932.5 L794.8,932.7 L796.3,932.8 L797.8,933 L799.3,933.2 L800.8,933.3 L802.3,933.5 L803.8,933.6 L805.3,933.8 L806.8,933.9 L808.3,934.1 L809.8,934.2 L811.3,934.4 L812.8,934.5 L814.3,934.7 L815.8,934.8 L817.3,935 L818.8,935.1 L820.3,935.3 L821.8,935.4 L823.3,935.6 L824.8,935.7 L826.3,935.9 L827.8,936 L829.3,936.2 L830.8,936.3 L832.3,936.5 L833.8,936.6 L835.3,936.8 L836.8,936.9 L838.3,937.1 L839.8,937.2 L841.3,937.4 L842.8,937.6 L844.3,937.7 L845.8,937.9 L847.3,938 L848.8,938.2 L850.3,938.4 L851.8,938.5 L853.3,938.7 L854.8,938.8 L856.3,939 L857.8,939.2 L859.3,939.3 L860.8,939.5 L862.3,939.6 L863.8,939.8 L865.3,940 L866.8,940.1 L868.3,940.3 L869.8,940.4 L871.3,940.6 L872.8,940.7 L874.3,940.9 L875.8,941 L877.3,941.2 L878.8,941.3 L880.3,941.5 L881.8,941.6 L883.3,941.8 L884.8,942 L886.3,942.1 L887.8,942.3 L889.3,942.4 L890.8,942.5 L892.3,942.7 L893.8,942.8 L895.3,943 L896.8,943.1 L898.3,943.3 L899.8,943.4 L901.3,943.6 L902.8,943.7 L904.3,943.8 L905.8,944 L907.3,944.1 L908.8,944.2 L910.3,944.4 L911.8,944.5 L913.3,944.6 L914.8,944.7 L916.3,944.8 L917.8,944.9 L919.3,945.1 L920.8,945.2 L922.3,945.3 L923.8,945.4 L925.3,945.5 L926.8,945.6 L928.3,945.7 L929.8,945.8 L931.3,945.9 L932.8,946 L934.3,946.1 L935.8,946.2 L937.3,946.3 L938.8,946.4 L940.3,946.5 L941.8,946.6 L943.3,946.7 L944.8,946.7 L946.3,946.8 L947.8,946.9 L949.3,947 L950.8,947 L952.3,947.1 L953.8,947.2 L955.3,947.2 L956.8,947.3 L958.3,947.3 L959.8,947.4 L961.3,947.4 L962.8,947.5 L964.3,947.5 L965.8,947.6 L967.3,947.6 L968.8,947.7 L970.3,947.7 L971.8,947.8 L973.3,947.8 L974.8,947.9 L976.3,947.9 L977.8,948 L979.3,948 L980.8,948 L982.3,948.1 L983.8,948.1 L985.3,948.2 L986.8,948.2 L988.3,948.2 L989.8,948.3 L991.3,948.3 L992.8,948.3 L994.3,948.4 L995.8,948.4 L997.3,948.4 L998.8,948.5 L1000.3,948.5 L1001.8,948.5 L1003.3,948.5 L1004.8,948.6 L1006.3,948.6 L1007.8,948.6 L1009.3,948.6 L1010.8,948.6 L1012.3,948.6 L1013.8,948.7 L1015.3,948.7 L1016.8,948.7 L1018.3,948.7 L1019.8,948.7 L1021.3,948.7 L1022.8,948.7 L1024.3,948.7 L1025.8,948.7 L1027.3,948.8 L1028.8,948.8 L1030.3,948.8 L1031.8,948.8 L1033.3,948.8 L1034.8,948.8 L1036.3,948.8 L1037.8,948.8 L1039.3,948.8 L1040.8,948.8 L1042.3,948.8 L1043.8,948.8 L1045.3,948.8 L1046.8,948.8 L1048.3,948.9 L1049.8,948.9 L1051.3,948.9 L1052.8,948.9 L1054.3,948.9 L1055.8,948.9 L1057.3,948.9 L1058.8,948.9 L1060.3,948.9 L1061.8,948.9 L1063.3,948.9 L1064.8,948.9 L1066.3,948.9 L1067.8,948.9 L1069.3,948.9 L1070.8,948.9 L1072.3,948.9 L1073.8,948.9 L1075.3,948.9 L1076.8,948.9 L1078.3,948.9 L1079.8,948.9 L1081.3,948.9 L1082.8,948.9 L1084.3,948.9 L1085.8,948.9 L1087.3,948.9 L1088.8,948.9 L1090.3,948.9 L1091.8,948.9 L1093.3,948.9 L1094.8,948.9 L1096.3,948.9 L1097.8,948.9 L1099.3,948.9 L1100.8,948.9 L1102.3,948.9 L1103.8,948.9 L1105.3,948.9 L1106.8,948.9 L1108.3,948.9 L1109.8,948.9 L1111.3,948.9 L1112.8,948.9 L1114.3,948.9 L1115.8,948.9 L1117.3,948.9 L1118.8,948.9 L1120.3,948.9 L1121.8,948.9 L1123.3,948.9 L1124.8,948.9 L1126.3,948.9 L1127.8,948.9 L1129.3,948.9 L1130.8,948.9 L1132.3,948.9 L1133.8,948.9 L1135.3,948.9 L1136.8,948.8 L1138.3,948.8 L1139.8,948.8 L1141.3,948.8 L1142.8,948.8 L1144.3,948.8 L1145.8,948.8 L1147.3,948.8 L1148.8,948.8 L1150.3,948.8 L1151.8,948.7 L1153.3,948.7 L1154.8,948.7 L1156.3,948.7 L1157.8,948.7 L1159.3,948.7 L1160.8,948.7 L1162.3,948.8 L1163.8,948.8 L1165.3,948.8 L1166.8,948.9 L1168.3,949 L1169.8,949.1 L1171.3,949.2 L1172.8,949.4 L1174.3,949.6 L1175.8,949.7 L1177.3,949.9 L1178.8,950.1 L1180.3,950.3 L1181.8,950.5 L1183.3,950.7 L1184.8,950.9 L1186.3,951.1 L1187.8,951.3 L1189.3,951.5 L1190.8,951.6 L1192.3,951.8 L1193.8,951.9 L1195.3,952.1 L1196.8,952.2 L1198.3,952.4 L1199.8,952.5 L1201.3,952.7 L1202.8,952.8 L1204.3,952.9 L1205.8,953 L1207.3,953.1 L1208.8,953.2 L1210.3,953.3 L1211.8,953.4 L1213.3,953.4 L1214.8,953.5 L1216.3,953.5 L1217.8,953.5 L1219.3,953.5 L1220.8,953.5 L1222.3,953.5 L1223.8,953.5 L1225.3,953.4 L1226.8,953.4 L1228.3,953.4 L1229.8,953.3 L1231.3,953.2 L1232.8,953.2 L1234.3,953.1 L1235.8,953 L1237.3,952.9 L1238.8,952.8 L1240.3,952.7 L1241.8,952.6 L1243.3,952.4 L1244.8,952.2 L1246.3,952 L1247.8,951.8 L1249.3,951.5 L1250.8,951.1 L1252.3,950.8 L1253.8,950.4 L1255.3,950 L1256.8,949.5 L1258.3,949.1 L1259.8,948.6 L1261.3,948.2 L1262.8,947.7 L1264.3,947.2 L1265.8,946.7 L1267.3,946.2 L1268.8,945.7 L1270.3,945.2 L1271.8,944.6 L1273.3,944.1 L1274.8,943.6 L1275.1,943.4" fill="none" stroke="#42C0C0" stroke-width="3.0" stroke-linejoin="round" stroke-linecap="butt"/>
<line x1="762.3" y1="762.2" x2="1032" y2="762.2" stroke="#000" stroke-width="3.0" />
<line x1="1252.5" y1="762.2" x2="1276.4" y2="762.2" stroke="#000" stroke-width="3.0" />
<rect x="762.3" y="565.9" width="514.1" height="392.5" fill="none" stroke="#000" stroke-width="3.0" stroke-linejoin="miter"/>
<line x1="762.3" y1="762.2" x2="769.8" y2="762.2" stroke="#000" stroke-width="2.6" />
<line x1="762.3" y1="722.9" x2="769.8" y2="722.9" stroke="#000" stroke-width="2.6" />
<line x1="762.3" y1="683.7" x2="769.8" y2="683.7" stroke="#000" stroke-width="2.6" />
<line x1="762.3" y1="644.4" x2="769.8" y2="644.4" stroke="#000" stroke-width="2.6" />
<line x1="762.3" y1="605.2" x2="769.8" y2="605.2" stroke="#000" stroke-width="2.6" />
<line x1="762.3" y1="565.9" x2="769.8" y2="565.9" stroke="#000" stroke-width="2.6" />
<line x1="762.3" y1="742.6" x2="766.3" y2="742.6" stroke="#000" stroke-width="2.6" />
<line x1="762.3" y1="703.3" x2="766.3" y2="703.3" stroke="#000" stroke-width="2.6" />
<line x1="762.3" y1="664" x2="766.3" y2="664" stroke="#000" stroke-width="2.6" />
<line x1="762.3" y1="624.8" x2="766.3" y2="624.8" stroke="#000" stroke-width="2.6" />
<line x1="762.3" y1="585.5" x2="766.3" y2="585.5" stroke="#000" stroke-width="2.6" />
<text x="753.9" y="770.9" font-size="25.5" text-anchor="end">0</text>
<text x="753.9" y="731.6" font-size="25.5" text-anchor="end">20</text>
<text x="753.9" y="692.4" font-size="25.5" text-anchor="end">40</text>
<text x="753.9" y="653.1" font-size="25.5" text-anchor="end">60</text>
<text x="753.9" y="613.9" font-size="25.5" text-anchor="end">80</text>
<text x="753.9" y="574.6" font-size="25.5" text-anchor="end">100</text>
<line x1="762.3" y1="958.5" x2="769.8" y2="958.5" stroke="#000" stroke-width="2.6" />
<line x1="762.3" y1="888.4" x2="769.8" y2="888.4" stroke="#000" stroke-width="2.6" />
<line x1="762.3" y1="818.2" x2="769.8" y2="818.2" stroke="#000" stroke-width="2.6" />
<line x1="762.3" y1="923.4" x2="766.3" y2="923.4" stroke="#000" stroke-width="2.6" />
<line x1="762.3" y1="853.3" x2="766.3" y2="853.3" stroke="#000" stroke-width="2.6" />
<line x1="762.3" y1="783.1" x2="766.3" y2="783.1" stroke="#000" stroke-width="2.6" />
<text x="753.9" y="967.2" font-size="25.5" text-anchor="end">2.0</text>
<text x="753.9" y="897.1" font-size="25.5" text-anchor="end">2.5</text>
<text x="753.9" y="826.9" font-size="25.5" text-anchor="end">3.0</text>
<line x1="762.3" y1="958.4" x2="762.3" y2="950.9" stroke="#000" stroke-width="2.6" />
<line x1="838.5" y1="958.4" x2="838.5" y2="950.9" stroke="#000" stroke-width="2.6" />
<line x1="914.6" y1="958.4" x2="914.6" y2="950.9" stroke="#000" stroke-width="2.6" />
<line x1="990.8" y1="958.4" x2="990.8" y2="950.9" stroke="#000" stroke-width="2.6" />
<line x1="1067" y1="958.4" x2="1067" y2="950.9" stroke="#000" stroke-width="2.6" />
<line x1="1143.1" y1="958.4" x2="1143.1" y2="950.9" stroke="#000" stroke-width="2.6" />
<line x1="1219.3" y1="958.4" x2="1219.3" y2="950.9" stroke="#000" stroke-width="2.6" />
<line x1="800.4" y1="958.4" x2="800.4" y2="954.4" stroke="#000" stroke-width="2.6" />
<line x1="876.5" y1="958.4" x2="876.5" y2="954.4" stroke="#000" stroke-width="2.6" />
<line x1="952.7" y1="958.4" x2="952.7" y2="954.4" stroke="#000" stroke-width="2.6" />
<line x1="1028.9" y1="958.4" x2="1028.9" y2="954.4" stroke="#000" stroke-width="2.6" />
<line x1="1105" y1="958.4" x2="1105" y2="954.4" stroke="#000" stroke-width="2.6" />
<line x1="1181.2" y1="958.4" x2="1181.2" y2="954.4" stroke="#000" stroke-width="2.6" />
<line x1="1257.4" y1="958.4" x2="1257.4" y2="954.4" stroke="#000" stroke-width="2.6" />
<text x="762.3" y="986" font-size="25.5" text-anchor="middle">-1.0</text>
<text x="838.5" y="986" font-size="25.5" text-anchor="middle">-0.8</text>
<text x="914.6" y="986" font-size="25.5" text-anchor="middle">-0.6</text>
<text x="990.8" y="986" font-size="25.5" text-anchor="middle">-0.4</text>
<text x="1067" y="986" font-size="25.5" text-anchor="middle">-0.2</text>
<text x="1143.1" y="986" font-size="25.5" text-anchor="middle">0.0</text>
<text x="1219.3" y="986" font-size="25.5" text-anchor="middle">0.2</text>
<line x1="1032" y1="732.3" x2="1087.2" y2="732.3" stroke="#42C0C0" stroke-width="3.0" />
<text x="1093.8" y="740.9" font-size="24.9" text-anchor="start">0.9 wt.% NaCl</text>
<line x1="1032" y1="762.1" x2="1087.2" y2="762.1" stroke="#E47F71" stroke-width="3.0" />
<text x="1093.8" y="770.9" font-size="24.9" text-anchor="start">3.6 wt.% NaCl</text>
<line x1="1032" y1="792.5" x2="1087.2" y2="792.5" stroke="#BEA2CB" stroke-width="3.0" />
<text x="1093.8" y="801.1" font-size="24.9" text-anchor="start">0.1 M Na<tspan font-size="16.9" dy="6.7">2</tspan><tspan dy="-6.7">​</tspan>SO<tspan font-size="16.9" dy="6.7">4</tspan><tspan dy="-6.7">​</tspan></text>
<text x="867.5" y="1031.6" font-size="32.1" text-anchor="start">Potential (V vs. RHE)</text>
<text x="695.1" y="742.8" font-size="32.2" text-anchor="start" transform="rotate(-90 695.1 742.8)">H<tspan font-size="21.9" dy="8.7">2</tspan><tspan dy="-8.7">​</tspan>O<tspan font-size="21.9" dy="8.7">2</tspan><tspan dy="-8.7">​</tspan> (%)</text>
<text x="685.9" y="877.5" font-size="31.4" text-anchor="start" transform="rotate(-90 685.9 877.5)">n</text>
<text x="662.8" y="567.2" font-size="58" text-anchor="start">e</text>
<path d="M1462.2,622.9 L1463.7,622.3 L1465.2,621.8 L1466.7,621.2 L1468.2,620.7 L1469.7,620.2 L1471.2,619.7 L1472.7,619.3 L1474.2,618.9 L1475.7,618.6 L1477.2,618.3 L1478.7,618 L1480.2,617.8 L1481.7,617.7 L1483.2,617.5 L1484.7,617.4 L1486.2,617.3 L1487.7,617.2 L1489.2,617.1 L1490.7,617 L1492.2,616.9 L1493.7,616.8 L1495.2,616.8 L1496.7,616.7 L1498.2,616.6 L1499.7,616.5 L1501.2,616.4 L1502.7,616.3 L1504.2,616.2 L1505.7,616.2 L1507.2,616.1 L1508.7,616 L1510.2,616 L1511.7,616 L1513.2,615.9 L1514.7,615.9 L1516.2,615.9 L1517.7,615.9 L1519.2,615.9 L1520.7,615.9 L1522.2,615.9 L1523.7,615.8 L1525.2,615.8 L1526.7,615.8 L1528.2,615.8 L1529.7,615.8 L1531.2,615.8 L1532.7,615.8 L1534.2,615.8 L1535.7,615.8 L1537.2,615.8 L1538.7,615.8 L1540.2,615.8 L1541.7,615.8 L1543.2,615.8 L1544.7,615.8 L1546.2,615.8 L1547.7,615.8 L1549.2,615.8 L1550.7,615.8 L1552.2,615.8 L1553.7,615.8 L1555.2,615.8 L1556.7,615.8 L1558.2,615.8 L1559.7,615.8 L1561.2,615.8 L1562.7,615.8 L1564.2,615.8 L1565.7,615.8 L1567.2,615.8 L1568.7,615.8 L1570.2,615.8 L1571.7,615.8 L1573.2,615.8 L1574.7,615.8 L1576.2,615.8 L1577.7,615.8 L1579.2,615.8 L1580.7,615.8 L1582.2,615.8 L1583.7,615.8 L1585.2,615.8 L1586.7,615.8 L1588.2,615.8 L1589.7,615.8 L1591.2,615.8 L1592.7,615.8 L1594.2,615.8 L1595.7,615.8 L1597.2,615.8 L1598.7,615.8 L1600.2,615.8 L1601.7,615.8 L1603.2,615.8 L1604.7,615.8 L1606.2,615.8 L1607.7,615.8 L1609.2,615.8 L1610.7,615.8 L1612.2,615.8 L1613.7,615.8 L1615.2,615.8 L1616.7,615.8 L1618.2,615.8 L1619.7,615.8 L1621.2,615.8 L1622.7,615.8 L1624.2,615.8 L1625.7,615.8 L1627.2,615.8 L1628.7,615.8 L1630.2,615.8 L1631.7,615.8 L1633.2,615.8 L1634.7,615.8 L1636.2,615.8 L1637.7,615.8 L1639.2,615.8 L1640.7,615.8 L1642.2,615.8 L1643.7,615.8 L1645.2,615.8 L1646.7,615.8 L1648.2,615.8 L1649.7,615.8 L1651.2,615.8 L1652.7,615.8 L1654.2,615.8 L1655.7,615.8 L1657.2,615.8 L1658.7,615.8 L1660.2,615.8 L1661.7,615.8 L1663.2,615.8 L1664.7,615.8 L1666.2,615.8 L1667.7,615.8 L1669.2,615.8 L1670.7,615.8 L1672.2,615.8 L1673.7,615.8 L1675.2,615.8 L1676.7,615.8 L1678.2,615.8 L1679.7,615.8 L1681.2,615.8 L1682.7,615.8 L1684.2,615.8 L1685.7,615.8 L1687.2,615.8 L1688.7,615.8 L1690.2,615.8 L1691.7,615.8 L1693.2,615.8 L1694.7,615.8 L1696.2,615.8 L1697.7,615.8 L1699.2,615.8 L1700.7,615.8 L1702.2,615.8 L1703.7,615.8 L1705.2,615.8 L1706.7,615.8 L1708.2,615.8 L1709.7,615.8 L1711.2,615.8 L1712.7,615.8 L1714.2,615.8 L1715.7,615.8 L1717.2,615.8 L1718.7,615.8 L1720.2,615.8 L1721.7,615.8 L1723.2,615.8 L1724.7,615.8 L1726.2,615.8 L1727.7,615.8 L1729.2,615.8 L1730.7,615.8 L1732.2,615.8 L1733.7,615.8 L1735.2,615.8 L1736.7,615.8 L1738.2,615.8 L1739.7,615.8 L1741.2,615.8 L1742.7,615.8 L1744.2,615.8 L1745.7,615.8 L1747.2,615.8 L1748.7,615.8 L1750.2,615.8 L1751.7,615.8 L1753.2,615.8 L1754.7,615.8 L1756.2,615.8 L1757.7,615.8 L1759.2,615.8 L1760.7,615.8 L1762.2,615.8 L1763.7,615.8 L1765.2,615.8 L1766.7,615.8 L1768.2,615.8 L1769.7,615.8 L1771.2,615.8 L1772.7,615.8 L1774.2,615.8 L1775.7,615.8 L1777.2,615.8 L1778.7,615.8 L1780.2,615.8 L1781.7,615.8 L1783.2,615.8 L1784.7,615.8 L1786.2,615.8 L1787.7,615.8 L1789.2,615.8 L1790.7,615.8 L1792.2,615.8 L1793.7,615.8 L1795.2,615.8 L1796.7,615.8 L1798.2,615.8 L1799.7,615.8 L1801.2,615.8 L1802.7,615.8 L1804.2,615.8 L1805.7,615.8 L1807.2,615.8 L1808.7,615.8 L1810.2,615.8 L1811.7,615.8 L1813.2,615.8 L1814.7,615.8 L1816.2,615.8 L1817.7,615.8 L1819.2,615.9 L1820.7,615.9 L1822.2,615.9 L1823.7,615.9 L1825.2,615.9 L1826.7,615.9 L1828.2,615.9 L1829.7,615.9 L1831.2,615.9 L1832.7,615.9 L1834.2,615.9 L1835.7,615.9 L1837.2,615.9 L1838.7,615.9 L1840.2,615.9 L1841.7,615.9 L1843.2,615.9 L1844.7,615.9 L1846.2,615.9 L1847.7,615.9 L1849.2,615.9 L1850.7,615.9 L1852.2,615.9 L1853.7,615.9 L1855.2,615.9 L1856.7,615.9 L1858.2,615.9 L1859.7,615.9 L1861.2,615.9 L1862.7,615.9 L1864.2,615.9 L1865.7,615.9 L1867.2,615.9 L1868.7,615.9 L1870.2,615.9 L1871.7,615.9 L1873.2,615.9 L1874.7,615.9 L1876.2,615.9 L1877.7,615.9 L1879.2,615.9 L1880.7,615.9 L1882.2,615.9 L1883.7,615.9 L1885.2,615.9 L1886.7,615.9 L1888.2,615.9 L1889.7,615.9 L1891.2,615.9 L1892.7,615.9 L1894.2,615.9 L1895.7,615.9 L1897.2,615.9 L1898.7,615.9 L1900.2,615.9 L1901.7,615.9 L1903.2,615.9 L1904.7,615.9 L1906.2,615.9 L1907.7,615.9 L1909.2,615.9 L1910.7,615.9 L1912.2,615.9 L1913.7,615.9 L1915.2,615.9 L1916,615.9" fill="none" stroke="#42C0C0" stroke-width="3.0" stroke-linejoin="round" stroke-linecap="butt"/>
<path d="M1461.5,644.5 L1462.5,646 L1463.8,647.3 L1465.2,647.6 L1466.8,647.2 L1468.2,646.7 L1469.8,646.1 L1471.2,645.4 L1472.8,644.8 L1474.2,644 L1475.8,643.3 L1477.2,642.6 L1478.8,641.9 L1480.2,641.2 L1481.8,640.5 L1483.2,639.9 L1484.8,639.2 L1486.2,638.5 L1487.8,637.8 L1489.2,637.2 L1490.8,636.5 L1492.2,635.8 L1493.8,635.1 L1495.2,634.4 L1496.8,633.8 L1498.2,633.1 L1499.8,632.5 L1501.2,632 L1502.8,631.5 L1504.2,631 L1505.8,630.5 L1507.2,630 L1508.8,629.6 L1510.2,629.1 L1511.8,628.7 L1513.2,628.3 L1514.8,627.9 L1516.2,627.5 L1517.8,627.2 L1519.2,626.8 L1520.8,626.4 L1522.2,626.1 L1523.8,625.7 L1525.2,625.4 L1526.8,625 L1528.2,624.7 L1529.8,624.3 L1531.2,624 L1532.8,623.7 L1534.2,623.4 L1535.8,623.1 L1537.2,622.8 L1538.8,622.5 L1540.2,622.2 L1541.8,621.9 L1543.2,621.7 L1544.8,621.5 L1546.2,621.3 L1547.8,621.1 L1549.2,620.9 L1550.8,620.7 L1552.2,620.6 L1553.8,620.4 L1555.2,620.2 L1556.8,620.1 L1558.2,620 L1559.8,619.8 L1561.2,619.7 L1562.8,619.5 L1564.2,619.4 L1565.8,619.3 L1567.2,619.2 L1568.8,619 L1570.2,618.9 L1571.8,618.8 L1573.2,618.6 L1574.8,618.5 L1576.2,618.3 L1577.8,618.2 L1579.2,618.1 L1580.8,617.9 L1582.2,617.8 L1583.8,617.7 L1585.2,617.6 L1586.8,617.5 L1588.2,617.4 L1589.8,617.3 L1591.2,617.2 L1592.8,617.2 L1594.2,617.1 L1595.8,617.1 L1597.2,617 L1598.8,617 L1600.2,616.9 L1601.8,616.9 L1603.2,616.8 L1604.8,616.8 L1606.2,616.8 L1607.8,616.7 L1609.2,616.7 L1610.8,616.6 L1612.2,616.6 L1613.8,616.6 L1615.2,616.5 L1616.8,616.5 L1618.2,616.5 L1619.8,616.5 L1621.2,616.4 L1622.8,616.4 L1624.2,616.4 L1625.8,616.4 L1627.2,616.3 L1628.8,616.3 L1630.2,616.3 L1631.8,616.3 L1633.2,616.3 L1634.8,616.3 L1636.2,616.3 L1637.8,616.2 L1639.2,616.2 L1640.8,616.2 L1642.2,616.2 L1643.8,616.2 L1645.2,616.2 L1646.8,616.2 L1648.2,616.1 L1649.8,616.1 L1651.2,616.1 L1652.8,616.1 L1654.2,616.1 L1655.8,616.1 L1657.2,616.1 L1658.8,616.1 L1660.2,616.1 L1661.8,616 L1663.2,616 L1664.8,616 L1666.2,616 L1667.8,616 L1669.2,616 L1670.8,616 L1672.2,616 L1673.8,616 L1675.2,616 L1676.8,616 L1678.2,615.9 L1679.8,615.9 L1681.2,615.9 L1682.8,615.9 L1684.2,615.9 L1685.8,615.9 L1687.2,615.9 L1688.8,615.9 L1690.2,615.9 L1691.8,615.9 L1693.2,615.9 L1694.8,615.9 L1696.2,615.9 L1697.8,615.9 L1699.2,615.9 L1700.8,615.9 L1702.2,615.9 L1703.8,615.9 L1705.2,615.9 L1706.8,615.9 L1708.2,615.9 L1709.8,615.9 L1711.2,615.9 L1712.8,615.9 L1714.2,615.9 L1715.8,615.9 L1717.2,615.9 L1718.8,615.9 L1720.2,615.9 L1721.8,615.9 L1723.2,615.9 L1724.8,615.9 L1726.2,615.9 L1727.8,615.9 L1729.2,615.9 L1730.8,615.9 L1732.2,615.9 L1733.8,615.9 L1735.2,615.9 L1736.8,615.9 L1738.2,615.9 L1739.8,615.9 L1741.2,615.9 L1742.8,615.9 L1744.2,615.9 L1745.8,615.9 L1747.2,615.9 L1748.8,615.9 L1750.2,615.9 L1751.8,615.9 L1753.2,615.9 L1754.8,615.9 L1756.2,615.9 L1757.8,615.9 L1759.2,615.9 L1760.8,615.9 L1762.2,615.9 L1763.8,615.9 L1765.2,615.9 L1766.8,615.9 L1768.2,615.9 L1769.8,615.9 L1771.2,615.9 L1772.8,615.9 L1774.2,615.9 L1775.8,615.9 L1777.2,615.9 L1778.8,615.9 L1780.2,615.9 L1781.8,615.9 L1783.2,615.9 L1784.8,615.9 L1786.2,615.9 L1787.8,615.9 L1789.2,615.9 L1790.8,615.9 L1792.2,615.9 L1793.8,615.9 L1795.2,615.9 L1796.8,615.9 L1798.2,615.9 L1799.8,615.9 L1801.2,615.9 L1802.8,615.9 L1804.2,615.9 L1805.8,615.9 L1807.2,615.9 L1808.8,615.9 L1810.2,615.9 L1811.8,615.9 L1813.2,615.9 L1814.8,615.9 L1816.2,615.9 L1817.8,615.9 L1819.2,615.9 L1820.8,615.9 L1822.2,615.9 L1823.8,615.9 L1825.2,615.9 L1826.8,615.9 L1828.2,615.9 L1829.8,615.9 L1831.2,615.9 L1832.8,615.9 L1834.2,615.9 L1835.8,615.9 L1837.2,615.9 L1838.8,615.9 L1840.2,615.9 L1841.8,615.9 L1843.2,615.9 L1844.8,615.9 L1846.2,615.9 L1847.8,615.9 L1849.2,615.9 L1850.8,615.9 L1852.2,615.9 L1853.8,615.9 L1855.2,615.9 L1856.8,615.9 L1858.2,615.9 L1859.8,615.9 L1861.2,615.9 L1862.8,615.9 L1864.2,615.9 L1865.8,615.9 L1867.2,615.9 L1868.8,615.9 L1870.2,615.9 L1871.8,615.9 L1873.2,615.9 L1874.8,615.9 L1876.2,615.9 L1877.8,615.9 L1879.2,615.9 L1880.8,615.9 L1882.2,615.9 L1883.8,615.9 L1885.2,615.9 L1886.8,615.9 L1888.2,615.9 L1889.8,615.9 L1891.2,615.9 L1892.8,615.9 L1894.2,615.9 L1895.8,615.9 L1897.2,615.9 L1898.8,615.9 L1900.2,615.9 L1901.8,615.9 L1903.2,615.9 L1904.8,615.9 L1906.2,615.9 L1907.8,615.9 L1909.2,615.9 L1910.8,615.9 L1912.2,615.9 L1913.8,615.9 L1915.2,615.9 L1916,615.9" fill="none" stroke="#BEA2CB" stroke-width="3.0" stroke-linejoin="round" stroke-linecap="butt"/>
<path d="M1462.2,630.7 L1463.7,630.1 L1465.2,629.5 L1466.7,628.9 L1468.2,628.3 L1469.7,627.8 L1471.2,627.2 L1472.7,626.7 L1474.2,626.2 L1475.7,625.8 L1477.2,625.3 L1478.7,624.9 L1480.2,624.6 L1481.7,624.2 L1483.2,623.9 L1484.7,623.5 L1486.2,623.2 L1487.7,622.9 L1489.2,622.6 L1490.7,622.3 L1492.2,622 L1493.7,621.8 L1495.2,621.5 L1496.7,621.3 L1498.2,621.1 L1499.7,620.8 L1501.2,620.6 L1502.7,620.4 L1504.2,620.2 L1505.7,620.1 L1507.2,619.9 L1508.7,619.8 L1510.2,619.7 L1511.7,619.5 L1513.2,619.4 L1514.7,619.3 L1516.2,619.3 L1517.7,619.2 L1519.2,619.1 L1520.7,619 L1522.2,618.9 L1523.7,618.9 L1525.2,618.8 L1526.7,618.7 L1528.2,618.7 L1529.7,618.6 L1531.2,618.5 L1532.7,618.5 L1534.2,618.4 L1535.7,618.3 L1537.2,618.3 L1538.7,618.2 L1540.2,618.2 L1541.7,618.1 L1543.2,618 L1544.7,618 L1546.2,617.9 L1547.7,617.9 L1549.2,617.8 L1550.7,617.8 L1552.2,617.7 L1553.7,617.7 L1555.2,617.6 L1556.7,617.6 L1558.2,617.5 L1559.7,617.5 L1561.2,617.4 L1562.7,617.4 L1564.2,617.3 L1565.7,617.3 L1567.2,617.2 L1568.7,617.2 L1570.2,617.2 L1571.7,617.1 L1573.2,617.1 L1574.7,617.1 L1576.2,617 L1577.7,617 L1579.2,616.9 L1580.7,616.9 L1582.2,616.9 L1583.7,616.8 L1585.2,616.8 L1586.7,616.8 L1588.2,616.7 L1589.7,616.7 L1591.2,616.7 L1592.7,616.6 L1594.2,616.6 L1595.7,616.6 L1597.2,616.5 L1598.7,616.5 L1600.2,616.5 L1601.7,616.5 L1603.2,616.4 L1604.7,616.4 L1606.2,616.4 L1607.7,616.4 L1609.2,616.4 L1610.7,616.3 L1612.2,616.3 L1613.7,616.3 L1615.2,616.3 L1616.7,616.3 L1618.2,616.3 L1619.7,616.3 L1621.2,616.3 L1622.7,616.2 L1624.2,616.2 L1625.7,616.2 L1627.2,616.2 L1628.7,616.2 L1630.2,616.2 L1631.7,616.2 L1633.2,616.2 L1634.7,616.2 L1636.2,616.1 L1637.7,616.1 L1639.2,616.1 L1640.7,616.1 L1642.2,616.1 L1643.7,616.1 L1645.2,616.1 L1646.7,616.1 L1648.2,616.1 L1649.7,616.1 L1651.2,616 L1652.7,616 L1654.2,616 L1655.7,616 L1657.2,616 L1658.7,616 L1660.2,616 L1661.7,616 L1663.2,616 L1664.7,616 L1666.2,616 L1667.7,616 L1669.2,616 L1670.7,616 L1672.2,616 L1673.7,615.9 L1675.2,615.9 L1676.7,615.9 L1678.2,615.9 L1679.7,615.9 L1681.2,615.9 L1682.7,615.9 L1684.2,615.9 L1685.7,615.9 L1687.2,615.9 L1688.7,615.9 L1690.2,615.9 L1691.7,615.9 L1693.2,615.9 L1694.7,615.9 L1696.2,615.9 L1697.7,615.9 L1699.2,615.9 L1700.7,615.9 L1702.2,615.9 L1703.7,615.9 L1705.2,615.9 L1706.7,615.9 L1708.2,615.9 L1709.7,615.9 L1711.2,615.9 L1712.7,615.9 L1714.2,615.9 L1715.7,615.9 L1717.2,615.9 L1718.7,615.9 L1720.2,615.9 L1721.7,615.9 L1723.2,615.9 L1724.7,615.9 L1726.2,615.9 L1727.7,615.9 L1729.2,615.9 L1730.7,615.9 L1732.2,615.9 L1733.7,615.9 L1735.2,615.9 L1736.7,615.9 L1738.2,615.9 L1739.7,615.9 L1741.2,615.9 L1742.7,615.9 L1744.2,615.9 L1745.7,615.9 L1747.2,615.9 L1748.7,615.9 L1750.2,615.9 L1751.7,615.9 L1753.2,615.9 L1754.7,615.9 L1756.2,615.9 L1757.7,615.9 L1759.2,615.9 L1760.7,615.9 L1762.2,615.9 L1763.7,615.9 L1765.2,615.9 L1766.7,615.9 L1768.2,615.9 L1769.7,615.9 L1771.2,615.9 L1772.7,615.9 L1774.2,615.9 L1775.7,615.9 L1777.2,615.9 L1778.7,615.9 L1780.2,615.9 L1781.7,615.9 L1783.2,615.9 L1784.7,615.9 L1786.2,615.9 L1787.7,615.9 L1789.2,615.9 L1790.7,615.9 L1792.2,615.9 L1793.7,615.9 L1795.2,615.9 L1796.7,615.9 L1798.2,615.9 L1799.7,615.9 L1801.2,615.9 L1802.7,615.9 L1804.2,615.9 L1805.7,615.9 L1807.2,615.9 L1808.7,615.9 L1810.2,615.9 L1811.7,615.9 L1813.2,615.9 L1814.7,615.9 L1816.2,615.9 L1817.7,615.9 L1819.2,615.9 L1820.7,615.9 L1822.2,615.9 L1823.7,615.9 L1825.2,615.9 L1826.7,615.9 L1828.2,615.9 L1829.7,615.9 L1831.2,615.9 L1832.7,615.9 L1834.2,615.9 L1835.7,615.9 L1837.2,615.9 L1838.7,615.9 L1840.2,615.9 L1841.7,615.9 L1843.2,615.9 L1844.7,615.9 L1846.2,615.9 L1847.7,615.9 L1849.2,615.9 L1850.7,615.9 L1852.2,615.9 L1853.7,615.9 L1855.2,615.9 L1856.7,615.9 L1858.2,615.9 L1859.7,615.9 L1861.2,615.9 L1862.7,615.9 L1864.2,615.9 L1865.7,615.9 L1867.2,615.9 L1868.7,615.9 L1870.2,615.9 L1871.7,615.9 L1873.2,615.9 L1874.7,615.9 L1876.2,615.9 L1877.7,615.9 L1879.2,615.9 L1880.7,615.9 L1882.2,615.9 L1883.7,615.9 L1885.2,615.9 L1886.7,615.9 L1888.2,615.9 L1889.7,615.9 L1891.2,615.9 L1892.7,615.9 L1894.2,615.9 L1895.7,615.9 L1897.2,615.9 L1898.7,615.9 L1900.2,615.9 L1901.7,615.9 L1903.2,615.9 L1904.7,615.9 L1906.2,615.9 L1907.7,615.9 L1909.2,615.9 L1910.7,615.9 L1912.2,615.9 L1913.7,615.9 L1915.2,615.9 L1916,615.9" fill="none" stroke="#E47F71" stroke-width="3.0" stroke-linejoin="round" stroke-linecap="butt"/>
<path d="M1461.5,906.2 L1462.3,904.4 L1463.1,902.6 L1464,900.7 L1464.8,898.9 L1465.6,897.1 L1466.5,895.3 L1467.3,893.5 L1468.2,891.7 L1469.1,889.9 L1470,888.1 L1470.9,886.3 L1471.8,884.5 L1472.6,882.7 L1473.5,880.9 L1474.3,879.1 L1475.2,877.3 L1476,875.4 L1476.8,873.6 L1477.6,871.8 L1478.5,870 L1479.4,868.2 L1480.2,866.4 L1481.1,864.6 L1482,862.8 L1482.8,861 L1483.6,859.2 L1484.4,857.3 L1485.1,855.5 L1485.8,853.6 L1486.6,851.8 L1487.4,850 L1488.2,848.2 L1489.1,846.4 L1490,844.6 L1490.9,842.8 L1491.8,841 L1492.7,839.2 L1493.6,837.4 L1494.5,835.6 L1495.4,833.8 L1496.2,832.1 L1497.1,830.3 L1498,828.5 L1498.9,826.7 L1499.7,824.9 L1500.6,823.1 L1501.5,821.3 L1502.4,819.5 L1503.3,817.7 L1504.2,815.9 L1505.1,814.1 L1506,812.3 L1506.9,810.6 L1507.8,808.8 L1508.7,807 L1509.6,805.2 L1510.6,803.4 L1511.5,801.7 L1512.4,799.9 L1513.3,798.1 L1514.2,796.3 L1515.1,794.5 L1516.1,792.8 L1517,791 L1517.9,789.2 L1518.8,787.4 L1519.7,785.7 L1520.6,783.9 L1521.6,782.1 L1522.5,780.3 L1523.4,778.6 L1524.3,776.8 L1525.3,775 L1526.2,773.2 L1527.1,771.5 L1528,769.7 L1528.9,767.9 L1529.9,766.1 L1530.8,764.4 L1531.7,762.6 L1532.6,760.8 L1533.5,759 L1534.4,757.2 L1535.3,755.4 L1536.2,753.6 L1537.1,751.9 L1538,750.1 L1538.9,748.3 L1539.8,746.5 L1540.8,744.8 L1541.7,743 L1542.7,741.2 L1543.6,739.5 L1544.6,737.7 L1545.5,736 L1546.5,734.2 L1547.4,732.4 L1548.3,730.7 L1549.3,728.9 L1550.2,727.1 L1551.1,725.3 L1552,723.6 L1552.9,721.8 L1553.8,720 L1554.7,718.2 L1555.6,716.4 L1556.6,714.7 L1557.5,712.9 L1558.5,711.2 L1559.5,709.4 L1560.5,707.7 L1561.5,705.9 L1562.5,704.2 L1563.5,702.5 L1564.5,700.8 L1565.5,699.1 L1566.6,697.4 L1567.7,695.7 L1568.7,694 L1569.8,692.3 L1570.9,690.6 L1572,688.9 L1573,687.2 L1574.1,685.6 L1575.3,683.9 L1576.4,682.2 L1577.5,680.6 L1578.6,678.9 L1579.7,677.3 L1580.9,675.6 L1582,674 L1583.2,672.4 L1584.3,670.7 L1585.4,669.1 L1586.5,667.4 L1587.6,665.7 L1588.7,664 L1589.8,662.4 L1590.9,660.7 L1592,659 L1593.1,657.4 L1594.3,655.8 L1595.5,654.2 L1596.7,652.6 L1598,651 L1599.2,649.5 L1600.5,647.9 L1601.7,646.4 L1603,644.9 L1604.4,643.4 L1605.8,641.9 L1607.2,640.5 L1608.6,639.1 L1610.1,637.8 L1611.6,636.4 L1613.1,635.2 L1614.7,633.9 L1616.3,632.7 L1617.9,631.6 L1619.6,630.5 L1621.3,629.4 L1623,628.4 L1624.7,627.5 L1626.5,626.6 L1628.3,625.7 L1630.1,624.9 L1632,624.2 L1633.9,623.5 L1635.8,622.9 L1637.7,622.4 L1639.6,621.9 L1641.6,621.4 L1643.5,621 L1645.5,620.6 L1647.5,620.3 L1649.4,620 L1651.4,619.7 L1653.4,619.4 L1655.4,619.2 L1657.4,619 L1659.4,618.8 L1661.3,618.6 L1663.3,618.5 L1665.3,618.3 L1667.3,618.2 L1669.3,618.1 L1671.3,618 L1673.3,617.9 L1675.3,617.8 L1677.3,617.8 L1679.3,617.7 L1681.3,617.7 L1683.3,617.6 L1685.3,617.6 L1687.3,617.5 L1689.3,617.5 L1691.3,617.4 L1693.3,617.4 L1695.3,617.3 L1697.3,617.3 L1699.3,617.2 L1701.3,617.2 L1703.3,617.1 L1705.3,617.1 L1707.3,617 L1709.3,617 L1711.3,616.9 L1713.3,616.9 L1715.3,616.8 L1717.3,616.8 L1719.3,616.7 L1720.8,616.7 L1722.8,616.6 L1724.8,616.6 L1726.8,616.5 L1728.8,616.5 L1730.8,616.4 L1732.8,616.4 L1734.8,616.3 L1736.8,616.3 L1738.8,616.3 L1740.8,616.2 L1742.8,616.2 L1744.8,616.2 L1746.8,616.2 L1748.8,616.2 L1750.8,616.2 L1752.8,616.2 L1754.8,616.2 L1756.8,616.2 L1758.8,616.2 L1760.3,616.2 L1762.3,616.2 L1763.8,616.2 L1765.3,616.2 L1767.3,616.2 L1768.8,616.2 L1770.3,616.1 L1772.3,616.1 L1774.3,616.1 L1776.3,616.1 L1778.3,616.1 L1780.3,616.1 L1781.8,616.1 L1783.8,616.1 L1785.8,616.1 L1787.3,616.1 L1788.8,616.1 L1790.8,616.1 L1792.3,616.1 L1793.8,616.1 L1795.8,616.1 L1797.3,616.1 L1799.3,616.1 L1801.3,616.1 L1803.3,616.1 L1804.8,616.1 L1806.8,616.1 L1808.3,616.1 L1810.3,616.1 L1811.8,616.1 L1813.8,616.1 L1815.3,616.1 L1817.3,616.1 L1818.8,616.1 L1820.8,616.1 L1822.8,616.1 L1824.3,616.1 L1826.3,616.1 L1827.8,616.1 L1829.3,616 L1830.8,616 L1832.8,616 L1834.3,616 L1836.3,616 L1838.3,616 L1840.3,616 L1842.3,616 L1844.3,616 L1846.3,616 L1847.8,616 L1849.8,616 L1851.3,616 L1852.8,616 L1854.8,616 L1856.8,616 L1858.8,616 L1860.8,616 L1862.8,616 L1864.8,616 L1866.3,616 L1868.3,616 L1869.8,616 L1871.3,616 L1873.3,616 L1874.8,616 L1876.3,616 L1878.3,616 L1879.8,616 L1881.3,616 L1883.3,616 L1885.3,616 L1886.8,615.9 L1888.3,615.9 L1890.3,615.9 L1891.8,615.9 L1893.3,615.9 L1895.3,615.9 L1896.8,615.9 L1898.3,615.9 L1900.3,615.9 L1902.3,615.9 L1904.3,615.9 L1906.3,615.9 L1908.3,615.9 L1910.3,615.9 L1912.2,615.9 L1914.1,615.9 L1916,615.9" fill="none" stroke="#42C0C0" stroke-width="3.0" stroke-linejoin="round" stroke-linecap="butt"/>
<path d="M1461.5,841.3 L1462.8,839.8 L1464.2,838.3 L1465.5,836.8 L1466.9,835.4 L1468.2,833.9 L1469.6,832.5 L1470.9,831 L1472.2,829.4 L1473.3,827.8 L1474.4,826.2 L1475.3,824.4 L1476.3,822.7 L1477.2,820.9 L1478.1,819.1 L1479,817.3 L1480,815.6 L1481,813.9 L1482,812.1 L1483.1,810.5 L1484.2,808.8 L1485.3,807.1 L1486.4,805.5 L1487.5,803.8 L1488.6,802.1 L1489.8,800.5 L1490.9,798.9 L1492.1,797.3 L1493.3,795.7 L1494.5,794.1 L1495.6,792.4 L1496.7,790.8 L1497.8,789.1 L1498.8,787.4 L1499.8,785.6 L1500.8,783.9 L1501.8,782.1 L1502.7,780.4 L1503.7,778.7 L1504.7,776.9 L1505.7,775.1 L1506.6,773.4 L1507.6,771.6 L1508.5,769.9 L1509.5,768.1 L1510.5,766.4 L1511.5,764.7 L1512.5,762.9 L1513.5,761.2 L1514.6,759.5 L1515.7,757.8 L1516.7,756.2 L1517.8,754.5 L1518.9,752.8 L1520,751.1 L1521,749.4 L1522,747.7 L1523,745.9 L1523.9,744.2 L1524.9,742.4 L1525.8,740.6 L1526.8,738.9 L1527.8,737.2 L1528.8,735.5 L1529.9,733.8 L1531,732.1 L1532.1,730.4 L1533.2,728.8 L1534.3,727.1 L1535.3,725.4 L1536.3,723.6 L1537.3,721.9 L1538.3,720.2 L1539.3,718.4 L1540.3,716.8 L1541.4,715.1 L1542.7,713.6 L1543.9,712 L1545.2,710.5 L1546.5,709 L1547.7,707.4 L1548.8,705.8 L1549.8,704.1 L1550.8,702.3 L1551.7,700.6 L1552.6,698.8 L1553.6,697 L1554.5,695.3 L1555.5,693.5 L1556.5,691.8 L1557.6,690.1 L1558.6,688.4 L1559.6,686.7 L1560.7,685 L1561.8,683.3 L1562.9,681.7 L1564.1,680.1 L1565.2,678.4 L1566.4,676.8 L1567.6,675.2 L1568.8,673.6 L1570.1,672 L1571.3,670.5 L1572.6,669 L1573.9,667.4 L1575.2,665.9 L1576.5,664.4 L1577.8,662.9 L1579.2,661.4 L1580.5,660 L1581.9,658.5 L1583.3,657 L1584.7,655.6 L1586.1,654.2 L1587.5,652.7 L1588.9,651.3 L1590.3,649.9 L1591.7,648.5 L1593.1,647.1 L1594.6,645.7 L1596,644.3 L1597.4,642.9 L1598.8,641.5 L1600.2,640.1 L1601.7,638.7 L1603.1,637.3 L1604.6,636 L1606.1,634.7 L1607.7,633.6 L1609.4,632.5 L1611.2,631.6 L1612.9,630.7 L1614.7,629.8 L1616.5,629 L1618.4,628.1 L1620.2,627.4 L1622.1,626.6 L1623.9,625.9 L1625.8,625.3 L1627.7,624.6 L1629.6,624 L1631.5,623.4 L1633.4,622.9 L1635.4,622.4 L1637.3,622 L1639.3,621.6 L1641.3,621.2 L1643.2,620.8 L1645.2,620.5 L1647.2,620.1 L1649.1,619.8 L1651.1,619.5 L1653.1,619.3 L1655.1,619 L1657.1,618.8 L1659,618.6 L1661,618.4 L1663,618.2 L1665,618 L1667,617.8 L1669,617.6 L1671,617.4 L1673,617.3 L1675,617.2 L1677,617.1 L1679,617.1 L1681,617 L1683,617 L1685,616.9 L1687,616.9 L1689,616.9 L1691,616.8 L1693,616.8 L1694.5,616.7 L1696,616.7 L1698,616.7 L1699.5,616.6 L1701,616.6 L1703,616.6 L1705,616.5 L1707,616.5 L1709,616.4 L1711,616.4 L1713,616.3 L1715,616.3 L1717,616.3 L1719,616.2 L1721,616.2 L1723,616.2 L1725,616.2 L1727,616.2 L1729,616.2 L1731,616.2 L1733,616.2 L1735,616.2 L1737,616.2 L1739,616.2 L1740.5,616.2 L1742.5,616.2 L1744,616.2 L1745.5,616.2 L1747.5,616.2 L1749,616.2 L1751,616.2 L1752.5,616.2 L1754,616.1 L1756,616.1 L1757.5,616.1 L1759.5,616.1 L1761.5,616.1 L1763.5,616.1 L1765.5,616.1 L1767,616.1 L1769,616.1 L1771,616.1 L1772.5,616.1 L1774.5,616.1 L1776.5,616.1 L1778.5,616.1 L1780,616.1 L1782,616.1 L1784,616.1 L1786,616.1 L1788,616.1 L1789.5,616.1 L1791.5,616.1 L1793,616.1 L1795,616.1 L1797,616.1 L1799,616.1 L1801,616.1 L1803,616.1 L1805,616.1 L1807,616.1 L1808.5,616.1 L1810,616.1 L1812,616.1 L1814,616.1 L1815.5,616.1 L1817,616.1 L1819,616 L1820.5,616 L1822.5,616 L1824,616 L1825.5,616 L1827.5,616 L1829.5,616 L1831.5,616 L1833,616 L1835,616 L1837,616 L1838.5,616 L1840.5,616 L1842,616 L1843.5,616 L1845.5,616 L1847.5,616 L1849,616 L1851,616 L1853,616 L1854.5,616 L1856.5,616 L1858.5,616 L1860,616 L1862,616 L1863.5,616 L1865,616 L1867,616 L1868.5,616 L1870,616 L1872,616 L1874,616 L1876,616 L1877.5,616 L1879.5,616 L1881,616 L1883,616 L1885,615.9 L1887,615.9 L1889,615.9 L1891,615.9 L1893,615.9 L1894.5,615.9 L1896,615.9 L1898,615.9 L1899.5,615.9 L1901.5,615.9 L1903.5,615.9 L1905.5,615.9 L1907.5,615.9 L1909.4,615.9 L1911.4,615.9 L1913.3,615.9 L1915.1,615.9 L1916,615.9" fill="none" stroke="#BEA2CB" stroke-width="3.0" stroke-linejoin="round" stroke-linecap="butt"/>
<path d="M1462.1,928.6 L1462.5,926.6 L1462.8,924.7 L1463.2,922.7 L1463.7,920.8 L1464.2,918.9 L1464.8,917 L1465.5,915.1 L1466.3,913.3 L1467.1,911.4 L1467.8,909.6 L1468.5,907.7 L1469.2,905.8 L1469.9,904 L1470.5,902.1 L1471.2,900.2 L1471.8,898.3 L1472.5,896.4 L1473.2,894.5 L1474,892.7 L1474.8,890.9 L1475.6,889 L1476.4,887.2 L1477.2,885.4 L1477.9,883.5 L1478.7,881.7 L1479.3,879.8 L1480,877.9 L1480.6,876 L1481.2,874.1 L1481.8,872.2 L1482.4,870.3 L1483,868.4 L1483.6,866.5 L1484.3,864.6 L1485,862.7 L1485.7,860.8 L1486.5,859 L1487.2,857.1 L1487.9,855.2 L1488.6,853.4 L1489.3,851.5 L1490.1,849.6 L1490.8,847.8 L1491.5,845.9 L1492.2,844 L1492.9,842.2 L1493.6,840.3 L1494.3,838.4 L1495,836.5 L1495.6,834.7 L1496.3,832.8 L1497,830.9 L1497.6,829 L1498.2,827.1 L1498.9,825.2 L1499.5,823.3 L1500.2,821.4 L1500.9,819.5 L1501.5,817.7 L1502.2,815.8 L1503,813.9 L1503.7,812 L1504.4,810.2 L1505.1,808.3 L1505.9,806.5 L1506.6,804.6 L1507.3,802.7 L1508,800.9 L1508.8,799 L1509.5,797.1 L1510.2,795.3 L1511,793.4 L1511.7,791.6 L1512.5,789.7 L1513.3,787.9 L1514,786 L1514.8,784.2 L1515.6,782.3 L1516.3,780.5 L1517.1,778.6 L1517.8,776.8 L1518.6,774.9 L1519.3,773.1 L1520,771.2 L1520.8,769.3 L1521.5,767.5 L1522.3,765.6 L1523,763.8 L1523.7,761.9 L1524.5,760.1 L1525.2,758.2 L1526,756.3 L1526.7,754.5 L1527.4,752.6 L1528.2,750.8 L1528.9,748.9 L1529.7,747 L1530.4,745.2 L1531.1,743.3 L1531.8,741.5 L1532.6,739.6 L1533.3,737.7 L1534.1,735.9 L1534.8,734 L1535.6,732.2 L1536.4,730.4 L1537.2,728.5 L1538,726.7 L1538.7,724.8 L1539.5,723 L1540.3,721.1 L1541,719.3 L1541.8,717.4 L1542.5,715.6 L1543.3,713.7 L1544.1,711.9 L1544.9,710.1 L1545.7,708.2 L1546.5,706.4 L1547.3,704.6 L1548.1,702.8 L1549,701 L1549.9,699.2 L1550.8,697.4 L1551.7,695.6 L1552.6,693.8 L1553.5,692.1 L1554.5,690.3 L1555.5,688.5 L1556.4,686.8 L1557.4,685.1 L1558.4,683.3 L1559.4,681.6 L1560.5,679.9 L1561.6,678.2 L1562.6,676.5 L1563.7,674.9 L1564.8,673.2 L1566,671.5 L1567.1,669.9 L1568.3,668.3 L1569.4,666.6 L1570.6,665 L1571.8,663.4 L1573,661.8 L1574.3,660.3 L1575.5,658.7 L1576.7,657.1 L1578,655.6 L1579.3,654.1 L1580.6,652.5 L1581.9,651 L1583.2,649.6 L1584.6,648.1 L1586,646.7 L1587.4,645.2 L1588.8,643.8 L1590.2,642.4 L1591.6,641 L1593.1,639.6 L1594.5,638.3 L1596.1,637 L1597.7,635.8 L1599.3,634.7 L1601,633.6 L1602.7,632.7 L1604.5,631.7 L1606.3,630.8 L1608.1,629.9 L1609.9,629.1 L1611.7,628.3 L1613.6,627.6 L1615.5,626.9 L1617.3,626.3 L1619.2,625.6 L1621.1,624.9 L1623,624.3 L1624.9,623.6 L1626.8,623 L1628.7,622.3 L1630.6,621.7 L1632.5,621.2 L1634.4,620.6 L1636.4,620.1 L1638.3,619.7 L1640.3,619.3 L1642.2,619 L1644.2,618.7 L1646.2,618.4 L1648.2,618.1 L1650.2,617.9 L1652.2,617.7 L1654.1,617.6 L1656.1,617.4 L1658.1,617.3 L1660.1,617.1 L1662.1,617 L1664.1,617 L1666.1,616.9 L1668.1,616.8 L1670.1,616.7 L1672.1,616.7 L1674.1,616.6 L1676.1,616.6 L1678.1,616.6 L1680.1,616.5 L1682.1,616.5 L1684.1,616.4 L1686.1,616.4 L1688.1,616.3 L1690.1,616.3 L1692.1,616.3 L1694.1,616.2 L1696.1,616.2 L1698.1,616.2 L1700.1,616.1 L1702.1,616.1 L1704.1,616.1 L1706.1,616.1 L1708.1,616.1 L1710.1,616.1 L1712.1,616.1 L1714.1,616.1 L1716.1,616.1 L1717.6,616.1 L1719.1,616.1 L1720.6,616.1 L1722.1,616.1 L1724.1,616.1 L1726.1,616.1 L1727.6,616.1 L1729.1,616.1 L1731.1,616.1 L1732.6,616.1 L1734.6,616.1 L1736.1,616.1 L1737.6,616.1 L1739.1,616.1 L1741.1,616.1 L1742.6,616.1 L1744.6,616.1 L1746.6,616.1 L1748.1,616.1 L1750.1,616.1 L1751.6,616.1 L1753.6,616.1 L1755.6,616 L1757.1,616 L1758.6,616 L1760.6,616 L1762.1,616 L1763.6,616 L1765.1,616 L1766.6,616 L1768.6,616 L1770.1,616 L1772.1,616 L1773.6,616 L1775.1,616 L1777.1,616 L1778.6,616 L1780.1,616 L1781.6,616 L1783.6,616 L1785.1,616 L1786.6,616 L1788.1,616 L1790.1,616 L1792.1,616 L1793.6,616 L1795.6,616 L1797.6,616 L1799.1,616 L1800.6,616 L1802.1,616 L1804.1,616 L1806.1,616 L1808.1,616 L1810.1,616 L1811.6,616 L1813.1,616 L1815.1,616 L1817.1,616 L1819.1,616 L1820.6,616 L1822.1,616 L1823.6,616 L1825.1,616 L1826.6,616 L1828.1,616 L1830.1,616 L1831.6,616 L1833.6,616 L1835.6,616 L1837.6,616 L1839.6,616 L1841.1,616 L1842.6,616 L1844.6,616 L1846.1,616 L1848.1,616 L1849.6,616 L1851.1,616 L1853.1,616 L1854.6,616 L1856.1,616 L1858.1,616 L1859.6,616 L1861.6,616 L1863.6,615.9 L1865.1,615.9 L1866.6,615.9 L1868.1,615.9 L1869.6,615.9 L1871.1,615.9 L1872.6,615.9 L1874.1,615.9 L1876.1,615.9 L1878.1,615.9 L1879.6,615.9 L1881.1,615.9 L1882.6,615.9 L1884.6,615.9 L1886.1,615.9 L1888.1,615.9 L1889.6,615.9 L1891.1,615.9 L1893.1,615.9 L1895.1,615.9 L1896.6,615.9 L1898.1,615.9 L1899.6,615.9 L1901.6,615.9 L1903.6,615.9 L1905.6,615.9 L1907.6,615.9 L1909.6,615.9 L1911.6,615.9 L1913.6,615.9 L1915.5,615.9 L1916,615.9" fill="none" stroke="#E47F71" stroke-width="3.0" stroke-linejoin="round" stroke-linecap="butt"/>
<rect x="1425.5" y="562.8" width="491.6" height="395.6" fill="none" stroke="#000" stroke-width="3.0" stroke-linejoin="miter"/>
<line x1="1425.5" y1="933.8" x2="1433" y2="933.8" stroke="#000" stroke-width="2.6" />
<line x1="1425.5" y1="880.8" x2="1433" y2="880.8" stroke="#000" stroke-width="2.6" />
<line x1="1425.5" y1="827.8" x2="1433" y2="827.8" stroke="#000" stroke-width="2.6" />
<line x1="1425.5" y1="774.8" x2="1433" y2="774.8" stroke="#000" stroke-width="2.6" />
<line x1="1425.5" y1="721.8" x2="1433" y2="721.8" stroke="#000" stroke-width="2.6" />
<line x1="1425.5" y1="668.8" x2="1433" y2="668.8" stroke="#000" stroke-width="2.6" />
<line x1="1425.5" y1="615.8" x2="1433" y2="615.8" stroke="#000" stroke-width="2.6" />
<line x1="1425.5" y1="562.8" x2="1433" y2="562.8" stroke="#000" stroke-width="2.6" />
<line x1="1425.5" y1="960.3" x2="1429.5" y2="960.3" stroke="#000" stroke-width="2.6" />
<line x1="1425.5" y1="907.3" x2="1429.5" y2="907.3" stroke="#000" stroke-width="2.6" />
<line x1="1425.5" y1="854.3" x2="1429.5" y2="854.3" stroke="#000" stroke-width="2.6" />
<line x1="1425.5" y1="801.3" x2="1429.5" y2="801.3" stroke="#000" stroke-width="2.6" />
<line x1="1425.5" y1="748.3" x2="1429.5" y2="748.3" stroke="#000" stroke-width="2.6" />
<line x1="1425.5" y1="695.3" x2="1429.5" y2="695.3" stroke="#000" stroke-width="2.6" />
<line x1="1425.5" y1="642.3" x2="1429.5" y2="642.3" stroke="#000" stroke-width="2.6" />
<line x1="1425.5" y1="589.3" x2="1429.5" y2="589.3" stroke="#000" stroke-width="2.6" />
<text x="1416.2" y="941.6" font-size="25.5" text-anchor="end">-6</text>
<text x="1416.2" y="888.6" font-size="25.5" text-anchor="end">-5</text>
<text x="1416.2" y="835.6" font-size="25.5" text-anchor="end">-4</text>
<text x="1416.2" y="782.6" font-size="25.5" text-anchor="end">-3</text>
<text x="1416.2" y="729.6" font-size="25.5" text-anchor="end">-2</text>
<text x="1416.2" y="676.6" font-size="25.5" text-anchor="end">-1</text>
<text x="1416.2" y="623.6" font-size="25.5" text-anchor="end">0</text>
<text x="1416.2" y="570.6" font-size="25.5" text-anchor="end">1</text>
<line x1="1425.5" y1="958.4" x2="1425.5" y2="950.9" stroke="#000" stroke-width="2.6" />
<line x1="1589.4" y1="958.4" x2="1589.4" y2="950.9" stroke="#000" stroke-width="2.6" />
<line x1="1753.2" y1="958.4" x2="1753.2" y2="950.9" stroke="#000" stroke-width="2.6" />
<line x1="1917.1" y1="958.4" x2="1917.1" y2="950.9" stroke="#000" stroke-width="2.6" />
<line x1="1507.4" y1="958.4" x2="1507.4" y2="954.4" stroke="#000" stroke-width="2.6" />
<line x1="1671.3" y1="958.4" x2="1671.3" y2="954.4" stroke="#000" stroke-width="2.6" />
<line x1="1835.2" y1="958.4" x2="1835.2" y2="954.4" stroke="#000" stroke-width="2.6" />
<text x="1425.5" y="988" font-size="25.5" text-anchor="middle">-1.5</text>
<text x="1589.4" y="988" font-size="25.5" text-anchor="middle">-1.0</text>
<text x="1753.2" y="988" font-size="25.5" text-anchor="middle">-0.5</text>
<text x="1917.1" y="988" font-size="25.5" text-anchor="middle">0.0</text>
<line x1="1681.5" y1="869.4" x2="1738.9" y2="869.4" stroke="#BEA2CB" stroke-width="3.0" />
<text x="1745.7" y="877.8" font-size="25.9" text-anchor="start">0.9 wt.% NaCl</text>
<line x1="1681.5" y1="900.7" x2="1738.9" y2="900.7" stroke="#E47F71" stroke-width="3.0" />
<text x="1745.7" y="909.8" font-size="25.9" text-anchor="start">3.6 wt.% NaCl</text>
<line x1="1681.5" y1="932.4" x2="1738.9" y2="932.4" stroke="#42C0C0" stroke-width="3.0" />
<text x="1745.7" y="940.8" font-size="25.9" text-anchor="start">0.1 M Na<tspan font-size="17.6" dy="7">2</tspan><tspan dy="-7">​</tspan>SO<tspan font-size="17.6" dy="7">4</tspan><tspan dy="-7">​</tspan></text>
<text x="1478.1" y="602.1" font-size="26" text-anchor="start">Ni(OH)<tspan font-size="17.7" dy="7">2</tspan><tspan dy="-7">​</tspan>/CNT</text>
<text x="1550.1" y="764.1" font-size="25.7" text-anchor="start">NiO/CNT</text>
<text x="1744.1" y="645" font-size="25.8" text-anchor="start">Ar atmosphere</text>
<text x="1510.6" y="1036.7" font-size="34" text-anchor="start">Potential (V vs. RHE)</text>
<text x="1371.8" y="860.1" font-size="34.7" text-anchor="start" transform="rotate(-90 1371.8 860.1)">Current (mA)</text>
<text x="1343.9" y="588.8" font-size="59" text-anchor="start" transform="translate(1343.9 588.8) scale(1.1 1) translate(-1343.9 -588.8)">f</text>
</svg>
</body></html>
